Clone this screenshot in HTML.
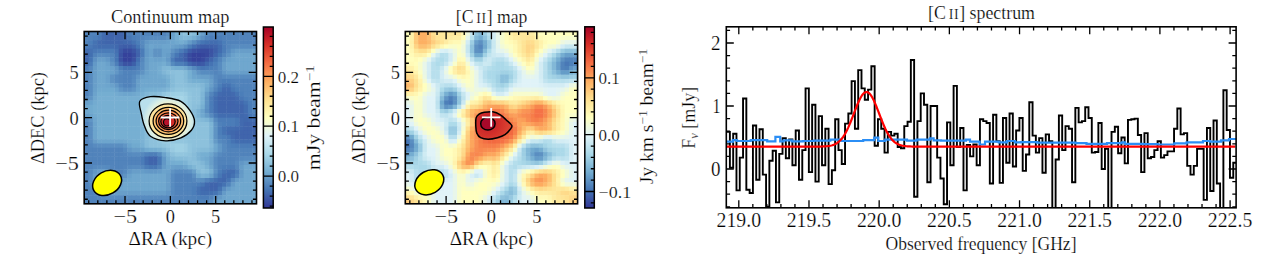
<!DOCTYPE html><html><head><meta charset="utf-8"><style>html,body{margin:0;padding:0;background:#fff;overflow:hidden}svg{display:block}</style></head><body><svg width="1268" height="263" viewBox="0 0 1268 263"><defs><filter id="bl1" x="-10%" y="-10%" width="120%" height="120%"><feGaussianBlur stdDeviation="2.6"/></filter><filter id="bl2" x="-10%" y="-10%" width="120%" height="120%"><feGaussianBlur stdDeviation="1.5"/></filter><filter id="bl4" x="-10%" y="-10%" width="120%" height="120%"><feGaussianBlur stdDeviation="0.55"/></filter><filter id="bl3" x="-10%" y="-10%" width="120%" height="120%"><feGaussianBlur stdDeviation="2.0"/></filter><clipPath id="c1"><rect x="84.2" y="31.5" width="172.3" height="172.3"/></clipPath><clipPath id="c2"><rect x="405.3" y="31.5" width="172.3" height="172.3"/></clipPath><clipPath id="c3"><rect x="726.3" y="26.8" width="509.8" height="181"/></clipPath><linearGradient id="cmap" x1="0" y1="1" x2="0" y2="0"><stop offset="0.00" stop-color="#313695"/><stop offset="0.10" stop-color="#4575b4"/><stop offset="0.20" stop-color="#74add1"/><stop offset="0.30" stop-color="#abd9e9"/><stop offset="0.40" stop-color="#e0f3f8"/><stop offset="0.50" stop-color="#ffffbf"/><stop offset="0.60" stop-color="#fee090"/><stop offset="0.70" stop-color="#fdae61"/><stop offset="0.80" stop-color="#f46d43"/><stop offset="0.90" stop-color="#d73027"/><stop offset="1.00" stop-color="#a50026"/></linearGradient></defs><rect width="1268" height="263" fill="#fff"/><g clip-path="url(#c1)"><g filter="url(#bl4)"><rect x="75.6" y="22.9" width="4.8" height="4.8" fill="#5183bb"/><rect x="79.9" y="22.9" width="4.8" height="4.8" fill="#5183bb"/><rect x="84.2" y="22.9" width="4.8" height="4.8" fill="#5183bb"/><rect x="88.5" y="22.9" width="4.8" height="4.8" fill="#5183bb"/><rect x="92.8" y="22.9" width="4.8" height="4.8" fill="#5183bb"/><rect x="97.1" y="22.9" width="4.8" height="4.8" fill="#4b7cb8"/><rect x="101.4" y="22.9" width="4.8" height="4.8" fill="#426db0"/><rect x="105.7" y="22.9" width="4.8" height="4.8" fill="#4065ac"/><rect x="110.0" y="22.9" width="4.8" height="4.8" fill="#4065ac"/><rect x="114.4" y="22.9" width="4.8" height="4.8" fill="#4065ac"/><rect x="118.7" y="22.9" width="4.8" height="4.8" fill="#4065ac"/><rect x="123.0" y="22.9" width="4.8" height="4.8" fill="#426db0"/><rect x="127.3" y="22.9" width="4.8" height="4.8" fill="#4b7cb8"/><rect x="131.6" y="22.9" width="4.8" height="4.8" fill="#5183bb"/><rect x="135.9" y="22.9" width="4.8" height="4.8" fill="#5183bb"/><rect x="140.2" y="22.9" width="4.8" height="4.8" fill="#5183bb"/><rect x="144.5" y="22.9" width="4.8" height="4.8" fill="#5183bb"/><rect x="148.8" y="22.9" width="4.8" height="4.8" fill="#5183bb"/><rect x="153.1" y="22.9" width="4.8" height="4.8" fill="#5183bb"/><rect x="157.4" y="22.9" width="4.8" height="4.8" fill="#5183bb"/><rect x="161.7" y="22.9" width="4.8" height="4.8" fill="#5183bb"/><rect x="166.0" y="22.9" width="4.8" height="4.8" fill="#588cc0"/><rect x="170.4" y="22.9" width="4.8" height="4.8" fill="#689ec9"/><rect x="174.7" y="22.9" width="4.8" height="4.8" fill="#76afd2"/><rect x="179.0" y="22.9" width="4.8" height="4.8" fill="#85bbd8"/><rect x="183.3" y="22.9" width="4.8" height="4.8" fill="#8dc1dc"/><rect x="187.6" y="22.9" width="4.8" height="4.8" fill="#8dc1dc"/><rect x="191.9" y="22.9" width="4.8" height="4.8" fill="#85bbd8"/><rect x="196.2" y="22.9" width="4.8" height="4.8" fill="#76afd2"/><rect x="200.5" y="22.9" width="4.8" height="4.8" fill="#689ec9"/><rect x="204.8" y="22.9" width="4.8" height="4.8" fill="#588cc0"/><rect x="209.1" y="22.9" width="4.8" height="4.8" fill="#5183bb"/><rect x="213.4" y="22.9" width="4.8" height="4.8" fill="#5183bb"/><rect x="217.7" y="22.9" width="4.8" height="4.8" fill="#5183bb"/><rect x="222.0" y="22.9" width="4.8" height="4.8" fill="#5183bb"/><rect x="226.3" y="22.9" width="4.8" height="4.8" fill="#5183bb"/><rect x="230.7" y="22.9" width="4.8" height="4.8" fill="#5183bb"/><rect x="235.0" y="22.9" width="4.8" height="4.8" fill="#5183bb"/><rect x="239.3" y="22.9" width="4.8" height="4.8" fill="#5183bb"/><rect x="243.6" y="22.9" width="4.8" height="4.8" fill="#5183bb"/><rect x="247.9" y="22.9" width="4.8" height="4.8" fill="#5183bb"/><rect x="252.2" y="22.9" width="4.8" height="4.8" fill="#5183bb"/><rect x="256.5" y="22.9" width="4.8" height="4.8" fill="#5183bb"/><rect x="260.8" y="22.9" width="4.8" height="4.8" fill="#5183bb"/><rect x="75.6" y="27.2" width="4.8" height="4.8" fill="#5183bb"/><rect x="79.9" y="27.2" width="4.8" height="4.8" fill="#5183bb"/><rect x="84.2" y="27.2" width="4.8" height="4.8" fill="#5183bb"/><rect x="88.5" y="27.2" width="4.8" height="4.8" fill="#5183bb"/><rect x="92.8" y="27.2" width="4.8" height="4.8" fill="#5183bb"/><rect x="97.1" y="27.2" width="4.8" height="4.8" fill="#4b7cb8"/><rect x="101.4" y="27.2" width="4.8" height="4.8" fill="#426db0"/><rect x="105.7" y="27.2" width="4.8" height="4.8" fill="#4065ac"/><rect x="110.0" y="27.2" width="4.8" height="4.8" fill="#4065ac"/><rect x="114.4" y="27.2" width="4.8" height="4.8" fill="#4065ac"/><rect x="118.7" y="27.2" width="4.8" height="4.8" fill="#4065ac"/><rect x="123.0" y="27.2" width="4.8" height="4.8" fill="#426db0"/><rect x="127.3" y="27.2" width="4.8" height="4.8" fill="#4b7cb8"/><rect x="131.6" y="27.2" width="4.8" height="4.8" fill="#5183bb"/><rect x="135.9" y="27.2" width="4.8" height="4.8" fill="#5183bb"/><rect x="140.2" y="27.2" width="4.8" height="4.8" fill="#5183bb"/><rect x="144.5" y="27.2" width="4.8" height="4.8" fill="#5183bb"/><rect x="148.8" y="27.2" width="4.8" height="4.8" fill="#5183bb"/><rect x="153.1" y="27.2" width="4.8" height="4.8" fill="#5183bb"/><rect x="157.4" y="27.2" width="4.8" height="4.8" fill="#5183bb"/><rect x="161.7" y="27.2" width="4.8" height="4.8" fill="#5183bb"/><rect x="166.0" y="27.2" width="4.8" height="4.8" fill="#588cc0"/><rect x="170.4" y="27.2" width="4.8" height="4.8" fill="#689ec9"/><rect x="174.7" y="27.2" width="4.8" height="4.8" fill="#76afd2"/><rect x="179.0" y="27.2" width="4.8" height="4.8" fill="#85bbd8"/><rect x="183.3" y="27.2" width="4.8" height="4.8" fill="#8dc1dc"/><rect x="187.6" y="27.2" width="4.8" height="4.8" fill="#8dc1dc"/><rect x="191.9" y="27.2" width="4.8" height="4.8" fill="#85bbd8"/><rect x="196.2" y="27.2" width="4.8" height="4.8" fill="#76afd2"/><rect x="200.5" y="27.2" width="4.8" height="4.8" fill="#689ec9"/><rect x="204.8" y="27.2" width="4.8" height="4.8" fill="#588cc0"/><rect x="209.1" y="27.2" width="4.8" height="4.8" fill="#5183bb"/><rect x="213.4" y="27.2" width="4.8" height="4.8" fill="#5183bb"/><rect x="217.7" y="27.2" width="4.8" height="4.8" fill="#5183bb"/><rect x="222.0" y="27.2" width="4.8" height="4.8" fill="#5183bb"/><rect x="226.3" y="27.2" width="4.8" height="4.8" fill="#5183bb"/><rect x="230.7" y="27.2" width="4.8" height="4.8" fill="#5183bb"/><rect x="235.0" y="27.2" width="4.8" height="4.8" fill="#5183bb"/><rect x="239.3" y="27.2" width="4.8" height="4.8" fill="#5183bb"/><rect x="243.6" y="27.2" width="4.8" height="4.8" fill="#5183bb"/><rect x="247.9" y="27.2" width="4.8" height="4.8" fill="#5183bb"/><rect x="252.2" y="27.2" width="4.8" height="4.8" fill="#5183bb"/><rect x="256.5" y="27.2" width="4.8" height="4.8" fill="#5183bb"/><rect x="260.8" y="27.2" width="4.8" height="4.8" fill="#5183bb"/><rect x="75.6" y="31.5" width="4.8" height="4.8" fill="#5183bb"/><rect x="79.9" y="31.5" width="4.8" height="4.8" fill="#5183bb"/><rect x="84.2" y="31.5" width="4.8" height="4.8" fill="#5183bb"/><rect x="88.5" y="31.5" width="4.8" height="4.8" fill="#5183bb"/><rect x="92.8" y="31.5" width="4.8" height="4.8" fill="#5183bb"/><rect x="97.1" y="31.5" width="4.8" height="4.8" fill="#4b7cb8"/><rect x="101.4" y="31.5" width="4.8" height="4.8" fill="#426db0"/><rect x="105.7" y="31.5" width="4.8" height="4.8" fill="#4065ac"/><rect x="110.0" y="31.5" width="4.8" height="4.8" fill="#4065ac"/><rect x="114.4" y="31.5" width="4.8" height="4.8" fill="#4065ac"/><rect x="118.7" y="31.5" width="4.8" height="4.8" fill="#4065ac"/><rect x="123.0" y="31.5" width="4.8" height="4.8" fill="#426db0"/><rect x="127.3" y="31.5" width="4.8" height="4.8" fill="#4b7cb8"/><rect x="131.6" y="31.5" width="4.8" height="4.8" fill="#5183bb"/><rect x="135.9" y="31.5" width="4.8" height="4.8" fill="#5183bb"/><rect x="140.2" y="31.5" width="4.8" height="4.8" fill="#5183bb"/><rect x="144.5" y="31.5" width="4.8" height="4.8" fill="#5183bb"/><rect x="148.8" y="31.5" width="4.8" height="4.8" fill="#5183bb"/><rect x="153.1" y="31.5" width="4.8" height="4.8" fill="#5183bb"/><rect x="157.4" y="31.5" width="4.8" height="4.8" fill="#5183bb"/><rect x="161.7" y="31.5" width="4.8" height="4.8" fill="#5183bb"/><rect x="166.0" y="31.5" width="4.8" height="4.8" fill="#588cc0"/><rect x="170.4" y="31.5" width="4.8" height="4.8" fill="#689ec9"/><rect x="174.7" y="31.5" width="4.8" height="4.8" fill="#76afd2"/><rect x="179.0" y="31.5" width="4.8" height="4.8" fill="#85bbd8"/><rect x="183.3" y="31.5" width="4.8" height="4.8" fill="#8dc1dc"/><rect x="187.6" y="31.5" width="4.8" height="4.8" fill="#8dc1dc"/><rect x="191.9" y="31.5" width="4.8" height="4.8" fill="#85bbd8"/><rect x="196.2" y="31.5" width="4.8" height="4.8" fill="#76afd2"/><rect x="200.5" y="31.5" width="4.8" height="4.8" fill="#689ec9"/><rect x="204.8" y="31.5" width="4.8" height="4.8" fill="#588cc0"/><rect x="209.1" y="31.5" width="4.8" height="4.8" fill="#5183bb"/><rect x="213.4" y="31.5" width="4.8" height="4.8" fill="#5183bb"/><rect x="217.7" y="31.5" width="4.8" height="4.8" fill="#5183bb"/><rect x="222.0" y="31.5" width="4.8" height="4.8" fill="#5183bb"/><rect x="226.3" y="31.5" width="4.8" height="4.8" fill="#5183bb"/><rect x="230.7" y="31.5" width="4.8" height="4.8" fill="#5183bb"/><rect x="235.0" y="31.5" width="4.8" height="4.8" fill="#5183bb"/><rect x="239.3" y="31.5" width="4.8" height="4.8" fill="#5183bb"/><rect x="243.6" y="31.5" width="4.8" height="4.8" fill="#5183bb"/><rect x="247.9" y="31.5" width="4.8" height="4.8" fill="#5183bb"/><rect x="252.2" y="31.5" width="4.8" height="4.8" fill="#5183bb"/><rect x="256.5" y="31.5" width="4.8" height="4.8" fill="#5183bb"/><rect x="260.8" y="31.5" width="4.8" height="4.8" fill="#5183bb"/><rect x="75.6" y="35.8" width="4.8" height="4.8" fill="#5183bb"/><rect x="79.9" y="35.8" width="4.8" height="4.8" fill="#5183bb"/><rect x="84.2" y="35.8" width="4.8" height="4.8" fill="#5183bb"/><rect x="88.5" y="35.8" width="4.8" height="4.8" fill="#4f81ba"/><rect x="92.8" y="35.8" width="4.8" height="4.8" fill="#4c7eb9"/><rect x="97.1" y="35.8" width="4.8" height="4.8" fill="#4677b5"/><rect x="101.4" y="35.8" width="4.8" height="4.8" fill="#426baf"/><rect x="105.7" y="35.8" width="4.8" height="4.8" fill="#4065ac"/><rect x="110.0" y="35.8" width="4.8" height="4.8" fill="#4065ac"/><rect x="114.4" y="35.8" width="4.8" height="4.8" fill="#4065ac"/><rect x="118.7" y="35.8" width="4.8" height="4.8" fill="#4065ac"/><rect x="123.0" y="35.8" width="4.8" height="4.8" fill="#426baf"/><rect x="127.3" y="35.8" width="4.8" height="4.8" fill="#4677b5"/><rect x="131.6" y="35.8" width="4.8" height="4.8" fill="#4c7eb9"/><rect x="135.9" y="35.8" width="4.8" height="4.8" fill="#4f81ba"/><rect x="140.2" y="35.8" width="4.8" height="4.8" fill="#5385bc"/><rect x="144.5" y="35.8" width="4.8" height="4.8" fill="#568abf"/><rect x="148.8" y="35.8" width="4.8" height="4.8" fill="#588cc0"/><rect x="153.1" y="35.8" width="4.8" height="4.8" fill="#588cc0"/><rect x="157.4" y="35.8" width="4.8" height="4.8" fill="#588cc0"/><rect x="161.7" y="35.8" width="4.8" height="4.8" fill="#588cc0"/><rect x="166.0" y="35.8" width="4.8" height="4.8" fill="#5e93c3"/><rect x="170.4" y="35.8" width="4.8" height="4.8" fill="#6aa1cb"/><rect x="174.7" y="35.8" width="4.8" height="4.8" fill="#74add1"/><rect x="179.0" y="35.8" width="4.8" height="4.8" fill="#80b6d6"/><rect x="183.3" y="35.8" width="4.8" height="4.8" fill="#83b9d8"/><rect x="187.6" y="35.8" width="4.8" height="4.8" fill="#7eb5d6"/><rect x="191.9" y="35.8" width="4.8" height="4.8" fill="#75aed1"/><rect x="196.2" y="35.8" width="4.8" height="4.8" fill="#689fca"/><rect x="200.5" y="35.8" width="4.8" height="4.8" fill="#5c90c2"/><rect x="204.8" y="35.8" width="4.8" height="4.8" fill="#5183bb"/><rect x="209.1" y="35.8" width="4.8" height="4.8" fill="#4b7cb8"/><rect x="213.4" y="35.8" width="4.8" height="4.8" fill="#4b7cb8"/><rect x="217.7" y="35.8" width="4.8" height="4.8" fill="#4c7eb9"/><rect x="222.0" y="35.8" width="4.8" height="4.8" fill="#4f81ba"/><rect x="226.3" y="35.8" width="4.8" height="4.8" fill="#5183bb"/><rect x="230.7" y="35.8" width="4.8" height="4.8" fill="#5183bb"/><rect x="235.0" y="35.8" width="4.8" height="4.8" fill="#5183bb"/><rect x="239.3" y="35.8" width="4.8" height="4.8" fill="#5183bb"/><rect x="243.6" y="35.8" width="4.8" height="4.8" fill="#5183bb"/><rect x="247.9" y="35.8" width="4.8" height="4.8" fill="#5183bb"/><rect x="252.2" y="35.8" width="4.8" height="4.8" fill="#5183bb"/><rect x="256.5" y="35.8" width="4.8" height="4.8" fill="#5183bb"/><rect x="260.8" y="35.8" width="4.8" height="4.8" fill="#5183bb"/><rect x="75.6" y="40.1" width="4.8" height="4.8" fill="#5183bb"/><rect x="79.9" y="40.1" width="4.8" height="4.8" fill="#5183bb"/><rect x="84.2" y="40.1" width="4.8" height="4.8" fill="#5183bb"/><rect x="88.5" y="40.1" width="4.8" height="4.8" fill="#4c7eb9"/><rect x="92.8" y="40.1" width="4.8" height="4.8" fill="#4473b3"/><rect x="97.1" y="40.1" width="4.8" height="4.8" fill="#426baf"/><rect x="101.4" y="40.1" width="4.8" height="4.8" fill="#4167ad"/><rect x="105.7" y="40.1" width="4.8" height="4.8" fill="#4065ac"/><rect x="110.0" y="40.1" width="4.8" height="4.8" fill="#4065ac"/><rect x="114.4" y="40.1" width="4.8" height="4.8" fill="#4065ac"/><rect x="118.7" y="40.1" width="4.8" height="4.8" fill="#4065ac"/><rect x="123.0" y="40.1" width="4.8" height="4.8" fill="#4167ad"/><rect x="127.3" y="40.1" width="4.8" height="4.8" fill="#426baf"/><rect x="131.6" y="40.1" width="4.8" height="4.8" fill="#4473b3"/><rect x="135.9" y="40.1" width="4.8" height="4.8" fill="#4c7eb9"/><rect x="140.2" y="40.1" width="4.8" height="4.8" fill="#568abf"/><rect x="144.5" y="40.1" width="4.8" height="4.8" fill="#6297c6"/><rect x="148.8" y="40.1" width="4.8" height="4.8" fill="#689ec9"/><rect x="153.1" y="40.1" width="4.8" height="4.8" fill="#689ec9"/><rect x="157.4" y="40.1" width="4.8" height="4.8" fill="#689ec9"/><rect x="161.7" y="40.1" width="4.8" height="4.8" fill="#689ec9"/><rect x="166.0" y="40.1" width="4.8" height="4.8" fill="#6aa1cb"/><rect x="170.4" y="40.1" width="4.8" height="4.8" fill="#6da5cd"/><rect x="174.7" y="40.1" width="4.8" height="4.8" fill="#71a9cf"/><rect x="179.0" y="40.1" width="4.8" height="4.8" fill="#74add1"/><rect x="183.3" y="40.1" width="4.8" height="4.8" fill="#70a8cf"/><rect x="187.6" y="40.1" width="4.8" height="4.8" fill="#659bc7"/><rect x="191.9" y="40.1" width="4.8" height="4.8" fill="#598dc0"/><rect x="196.2" y="40.1" width="4.8" height="4.8" fill="#4d7eb9"/><rect x="200.5" y="40.1" width="4.8" height="4.8" fill="#4575b4"/><rect x="204.8" y="40.1" width="4.8" height="4.8" fill="#4370b1"/><rect x="209.1" y="40.1" width="4.8" height="4.8" fill="#426db0"/><rect x="213.4" y="40.1" width="4.8" height="4.8" fill="#426db0"/><rect x="217.7" y="40.1" width="4.8" height="4.8" fill="#4473b3"/><rect x="222.0" y="40.1" width="4.8" height="4.8" fill="#4c7eb9"/><rect x="226.3" y="40.1" width="4.8" height="4.8" fill="#5183bb"/><rect x="230.7" y="40.1" width="4.8" height="4.8" fill="#5183bb"/><rect x="235.0" y="40.1" width="4.8" height="4.8" fill="#5183bb"/><rect x="239.3" y="40.1" width="4.8" height="4.8" fill="#5183bb"/><rect x="243.6" y="40.1" width="4.8" height="4.8" fill="#5183bb"/><rect x="247.9" y="40.1" width="4.8" height="4.8" fill="#5183bb"/><rect x="252.2" y="40.1" width="4.8" height="4.8" fill="#5183bb"/><rect x="256.5" y="40.1" width="4.8" height="4.8" fill="#5183bb"/><rect x="260.8" y="40.1" width="4.8" height="4.8" fill="#5183bb"/><rect x="75.6" y="44.4" width="4.8" height="4.8" fill="#4b7cb8"/><rect x="79.9" y="44.4" width="4.8" height="4.8" fill="#4b7cb8"/><rect x="84.2" y="44.4" width="4.8" height="4.8" fill="#4b7cb8"/><rect x="88.5" y="44.4" width="4.8" height="4.8" fill="#4878b6"/><rect x="92.8" y="44.4" width="4.8" height="4.8" fill="#4471b2"/><rect x="97.1" y="44.4" width="4.8" height="4.8" fill="#426db0"/><rect x="101.4" y="44.4" width="4.8" height="4.8" fill="#426db0"/><rect x="105.7" y="44.4" width="4.8" height="4.8" fill="#426db0"/><rect x="110.0" y="44.4" width="4.8" height="4.8" fill="#426db0"/><rect x="114.4" y="44.4" width="4.8" height="4.8" fill="#4169ae"/><rect x="118.7" y="44.4" width="4.8" height="4.8" fill="#3f61aa"/><rect x="123.0" y="44.4" width="4.8" height="4.8" fill="#3d5da8"/><rect x="127.3" y="44.4" width="4.8" height="4.8" fill="#3d5da8"/><rect x="131.6" y="44.4" width="4.8" height="4.8" fill="#4065ac"/><rect x="135.9" y="44.4" width="4.8" height="4.8" fill="#4575b4"/><rect x="140.2" y="44.4" width="4.8" height="4.8" fill="#5487bd"/><rect x="144.5" y="44.4" width="4.8" height="4.8" fill="#669dc8"/><rect x="148.8" y="44.4" width="4.8" height="4.8" fill="#6da5cd"/><rect x="153.1" y="44.4" width="4.8" height="4.8" fill="#6aa1cb"/><rect x="157.4" y="44.4" width="4.8" height="4.8" fill="#6aa1cb"/><rect x="161.7" y="44.4" width="4.8" height="4.8" fill="#6da5cd"/><rect x="166.0" y="44.4" width="4.8" height="4.8" fill="#6da5cd"/><rect x="170.4" y="44.4" width="4.8" height="4.8" fill="#6aa1cb"/><rect x="174.7" y="44.4" width="4.8" height="4.8" fill="#669dc8"/><rect x="179.0" y="44.4" width="4.8" height="4.8" fill="#6399c7"/><rect x="183.3" y="44.4" width="4.8" height="4.8" fill="#5a8fc1"/><rect x="187.6" y="44.4" width="4.8" height="4.8" fill="#4c7db8"/><rect x="191.9" y="44.4" width="4.8" height="4.8" fill="#436eb1"/><rect x="196.2" y="44.4" width="4.8" height="4.8" fill="#3f62ab"/><rect x="200.5" y="44.4" width="4.8" height="4.8" fill="#3d5da8"/><rect x="204.8" y="44.4" width="4.8" height="4.8" fill="#3d5da8"/><rect x="209.1" y="44.4" width="4.8" height="4.8" fill="#3e5fa9"/><rect x="213.4" y="44.4" width="4.8" height="4.8" fill="#3f63ab"/><rect x="217.7" y="44.4" width="4.8" height="4.8" fill="#426db0"/><rect x="222.0" y="44.4" width="4.8" height="4.8" fill="#4b7cb8"/><rect x="226.3" y="44.4" width="4.8" height="4.8" fill="#5385bc"/><rect x="230.7" y="44.4" width="4.8" height="4.8" fill="#568abf"/><rect x="235.0" y="44.4" width="4.8" height="4.8" fill="#588cc0"/><rect x="239.3" y="44.4" width="4.8" height="4.8" fill="#588cc0"/><rect x="243.6" y="44.4" width="4.8" height="4.8" fill="#588cc0"/><rect x="247.9" y="44.4" width="4.8" height="4.8" fill="#588cc0"/><rect x="252.2" y="44.4" width="4.8" height="4.8" fill="#588cc0"/><rect x="256.5" y="44.4" width="4.8" height="4.8" fill="#588cc0"/><rect x="260.8" y="44.4" width="4.8" height="4.8" fill="#588cc0"/><rect x="75.6" y="48.7" width="4.8" height="4.8" fill="#426db0"/><rect x="79.9" y="48.7" width="4.8" height="4.8" fill="#426db0"/><rect x="84.2" y="48.7" width="4.8" height="4.8" fill="#426db0"/><rect x="88.5" y="48.7" width="4.8" height="4.8" fill="#4471b2"/><rect x="92.8" y="48.7" width="4.8" height="4.8" fill="#4878b6"/><rect x="97.1" y="48.7" width="4.8" height="4.8" fill="#4b7cb8"/><rect x="101.4" y="48.7" width="4.8" height="4.8" fill="#4b7cb8"/><rect x="105.7" y="48.7" width="4.8" height="4.8" fill="#4b7cb8"/><rect x="110.0" y="48.7" width="4.8" height="4.8" fill="#4b7cb8"/><rect x="114.4" y="48.7" width="4.8" height="4.8" fill="#4470b2"/><rect x="118.7" y="48.7" width="4.8" height="4.8" fill="#3c58a6"/><rect x="123.0" y="48.7" width="4.8" height="4.8" fill="#384b9f"/><rect x="127.3" y="48.7" width="4.8" height="4.8" fill="#384b9f"/><rect x="131.6" y="48.7" width="4.8" height="4.8" fill="#3a54a4"/><rect x="135.9" y="48.7" width="4.8" height="4.8" fill="#4065ac"/><rect x="140.2" y="48.7" width="4.8" height="4.8" fill="#4b7cb8"/><rect x="144.5" y="48.7" width="4.8" height="4.8" fill="#6399c7"/><rect x="148.8" y="48.7" width="4.8" height="4.8" fill="#6aa1cb"/><rect x="153.1" y="48.7" width="4.8" height="4.8" fill="#5e93c3"/><rect x="157.4" y="48.7" width="4.8" height="4.8" fill="#5e93c3"/><rect x="161.7" y="48.7" width="4.8" height="4.8" fill="#6aa1cb"/><rect x="166.0" y="48.7" width="4.8" height="4.8" fill="#6aa1cb"/><rect x="170.4" y="48.7" width="4.8" height="4.8" fill="#5e93c3"/><rect x="174.7" y="48.7" width="4.8" height="4.8" fill="#5487bd"/><rect x="179.0" y="48.7" width="4.8" height="4.8" fill="#4b7cb8"/><rect x="183.3" y="48.7" width="4.8" height="4.8" fill="#436eb1"/><rect x="187.6" y="48.7" width="4.8" height="4.8" fill="#3d5ca8"/><rect x="191.9" y="48.7" width="4.8" height="4.8" fill="#3a51a2"/><rect x="196.2" y="48.7" width="4.8" height="4.8" fill="#384da0"/><rect x="200.5" y="48.7" width="4.8" height="4.8" fill="#384b9f"/><rect x="204.8" y="48.7" width="4.8" height="4.8" fill="#384b9f"/><rect x="209.1" y="48.7" width="4.8" height="4.8" fill="#3a52a3"/><rect x="213.4" y="48.7" width="4.8" height="4.8" fill="#3e5fa9"/><rect x="217.7" y="48.7" width="4.8" height="4.8" fill="#426db0"/><rect x="222.0" y="48.7" width="4.8" height="4.8" fill="#4b7cb8"/><rect x="226.3" y="48.7" width="4.8" height="4.8" fill="#568abf"/><rect x="230.7" y="48.7" width="4.8" height="4.8" fill="#6297c6"/><rect x="235.0" y="48.7" width="4.8" height="4.8" fill="#689ec9"/><rect x="239.3" y="48.7" width="4.8" height="4.8" fill="#689ec9"/><rect x="243.6" y="48.7" width="4.8" height="4.8" fill="#689ec9"/><rect x="247.9" y="48.7" width="4.8" height="4.8" fill="#689ec9"/><rect x="252.2" y="48.7" width="4.8" height="4.8" fill="#689ec9"/><rect x="256.5" y="48.7" width="4.8" height="4.8" fill="#689ec9"/><rect x="260.8" y="48.7" width="4.8" height="4.8" fill="#689ec9"/><rect x="75.6" y="53.0" width="4.8" height="4.8" fill="#4065ac"/><rect x="79.9" y="53.0" width="4.8" height="4.8" fill="#4065ac"/><rect x="84.2" y="53.0" width="4.8" height="4.8" fill="#4065ac"/><rect x="88.5" y="53.0" width="4.8" height="4.8" fill="#4370b1"/><rect x="92.8" y="53.0" width="4.8" height="4.8" fill="#5183bb"/><rect x="97.1" y="53.0" width="4.8" height="4.8" fill="#588cc0"/><rect x="101.4" y="53.0" width="4.8" height="4.8" fill="#588cc0"/><rect x="105.7" y="53.0" width="4.8" height="4.8" fill="#568abf"/><rect x="110.0" y="53.0" width="4.8" height="4.8" fill="#5385bc"/><rect x="114.4" y="53.0" width="4.8" height="4.8" fill="#4574b4"/><rect x="118.7" y="53.0" width="4.8" height="4.8" fill="#3a53a3"/><rect x="123.0" y="53.0" width="4.8" height="4.8" fill="#35439b"/><rect x="127.3" y="53.0" width="4.8" height="4.8" fill="#35439b"/><rect x="131.6" y="53.0" width="4.8" height="4.8" fill="#384da0"/><rect x="135.9" y="53.0" width="4.8" height="4.8" fill="#3f62ab"/><rect x="140.2" y="53.0" width="4.8" height="4.8" fill="#4b7cb8"/><rect x="144.5" y="53.0" width="4.8" height="4.8" fill="#6399c7"/><rect x="148.8" y="53.0" width="4.8" height="4.8" fill="#6aa1cb"/><rect x="153.1" y="53.0" width="4.8" height="4.8" fill="#5e93c3"/><rect x="157.4" y="53.0" width="4.8" height="4.8" fill="#5e93c3"/><rect x="161.7" y="53.0" width="4.8" height="4.8" fill="#6aa1cb"/><rect x="166.0" y="53.0" width="4.8" height="4.8" fill="#669dc8"/><rect x="170.4" y="53.0" width="4.8" height="4.8" fill="#5487bd"/><rect x="174.7" y="53.0" width="4.8" height="4.8" fill="#4677b5"/><rect x="179.0" y="53.0" width="4.8" height="4.8" fill="#426baf"/><rect x="183.3" y="53.0" width="4.8" height="4.8" fill="#3d5da8"/><rect x="187.6" y="53.0" width="4.8" height="4.8" fill="#384b9f"/><rect x="191.9" y="53.0" width="4.8" height="4.8" fill="#35439b"/><rect x="196.2" y="53.0" width="4.8" height="4.8" fill="#35439b"/><rect x="200.5" y="53.0" width="4.8" height="4.8" fill="#36459c"/><rect x="204.8" y="53.0" width="4.8" height="4.8" fill="#37499e"/><rect x="209.1" y="53.0" width="4.8" height="4.8" fill="#3a54a4"/><rect x="213.4" y="53.0" width="4.8" height="4.8" fill="#4065ac"/><rect x="217.7" y="53.0" width="4.8" height="4.8" fill="#4576b4"/><rect x="222.0" y="53.0" width="4.8" height="4.8" fill="#5285bc"/><rect x="226.3" y="53.0" width="4.8" height="4.8" fill="#5e93c3"/><rect x="230.7" y="53.0" width="4.8" height="4.8" fill="#6aa1cb"/><rect x="235.0" y="53.0" width="4.8" height="4.8" fill="#6fa7ce"/><rect x="239.3" y="53.0" width="4.8" height="4.8" fill="#6fa7ce"/><rect x="243.6" y="53.0" width="4.8" height="4.8" fill="#6fa7ce"/><rect x="247.9" y="53.0" width="4.8" height="4.8" fill="#6fa7ce"/><rect x="252.2" y="53.0" width="4.8" height="4.8" fill="#6fa7ce"/><rect x="256.5" y="53.0" width="4.8" height="4.8" fill="#6fa7ce"/><rect x="260.8" y="53.0" width="4.8" height="4.8" fill="#6fa7ce"/><rect x="75.6" y="57.3" width="4.8" height="4.8" fill="#4065ac"/><rect x="79.9" y="57.3" width="4.8" height="4.8" fill="#4065ac"/><rect x="84.2" y="57.3" width="4.8" height="4.8" fill="#4065ac"/><rect x="88.5" y="57.3" width="4.8" height="4.8" fill="#4575b4"/><rect x="92.8" y="57.3" width="4.8" height="4.8" fill="#5c90c2"/><rect x="97.1" y="57.3" width="4.8" height="4.8" fill="#689ec9"/><rect x="101.4" y="57.3" width="4.8" height="4.8" fill="#689ec9"/><rect x="105.7" y="57.3" width="4.8" height="4.8" fill="#6297c6"/><rect x="110.0" y="57.3" width="4.8" height="4.8" fill="#568abf"/><rect x="114.4" y="57.3" width="4.8" height="4.8" fill="#4574b4"/><rect x="118.7" y="57.3" width="4.8" height="4.8" fill="#3a53a3"/><rect x="123.0" y="57.3" width="4.8" height="4.8" fill="#35439b"/><rect x="127.3" y="57.3" width="4.8" height="4.8" fill="#35439b"/><rect x="131.6" y="57.3" width="4.8" height="4.8" fill="#3a51a2"/><rect x="135.9" y="57.3" width="4.8" height="4.8" fill="#436eb1"/><rect x="140.2" y="57.3" width="4.8" height="4.8" fill="#5487bd"/><rect x="144.5" y="57.3" width="4.8" height="4.8" fill="#669dc8"/><rect x="148.8" y="57.3" width="4.8" height="4.8" fill="#6da5cd"/><rect x="153.1" y="57.3" width="4.8" height="4.8" fill="#6aa1cb"/><rect x="157.4" y="57.3" width="4.8" height="4.8" fill="#6aa1cb"/><rect x="161.7" y="57.3" width="4.8" height="4.8" fill="#6da5cd"/><rect x="166.0" y="57.3" width="4.8" height="4.8" fill="#6399c7"/><rect x="170.4" y="57.3" width="4.8" height="4.8" fill="#4b7cb8"/><rect x="174.7" y="57.3" width="4.8" height="4.8" fill="#426baf"/><rect x="179.0" y="57.3" width="4.8" height="4.8" fill="#4167ad"/><rect x="183.3" y="57.3" width="4.8" height="4.8" fill="#3d5da8"/><rect x="187.6" y="57.3" width="4.8" height="4.8" fill="#384b9f"/><rect x="191.9" y="57.3" width="4.8" height="4.8" fill="#35439b"/><rect x="196.2" y="57.3" width="4.8" height="4.8" fill="#35439b"/><rect x="200.5" y="57.3" width="4.8" height="4.8" fill="#37499e"/><rect x="204.8" y="57.3" width="4.8" height="4.8" fill="#3b56a5"/><rect x="209.1" y="57.3" width="4.8" height="4.8" fill="#4065ac"/><rect x="213.4" y="57.3" width="4.8" height="4.8" fill="#4575b4"/><rect x="217.7" y="57.3" width="4.8" height="4.8" fill="#5285bc"/><rect x="222.0" y="57.3" width="4.8" height="4.8" fill="#6096c5"/><rect x="226.3" y="57.3" width="4.8" height="4.8" fill="#6aa1cb"/><rect x="230.7" y="57.3" width="4.8" height="4.8" fill="#6da5cd"/><rect x="235.0" y="57.3" width="4.8" height="4.8" fill="#6fa7ce"/><rect x="239.3" y="57.3" width="4.8" height="4.8" fill="#6fa7ce"/><rect x="243.6" y="57.3" width="4.8" height="4.8" fill="#6fa7ce"/><rect x="247.9" y="57.3" width="4.8" height="4.8" fill="#6fa7ce"/><rect x="252.2" y="57.3" width="4.8" height="4.8" fill="#6fa7ce"/><rect x="256.5" y="57.3" width="4.8" height="4.8" fill="#6fa7ce"/><rect x="260.8" y="57.3" width="4.8" height="4.8" fill="#6fa7ce"/><rect x="75.6" y="61.7" width="4.8" height="4.8" fill="#426db0"/><rect x="79.9" y="61.7" width="4.8" height="4.8" fill="#426db0"/><rect x="84.2" y="61.7" width="4.8" height="4.8" fill="#426db0"/><rect x="88.5" y="61.7" width="4.8" height="4.8" fill="#4b7cb8"/><rect x="92.8" y="61.7" width="4.8" height="4.8" fill="#6399c7"/><rect x="97.1" y="61.7" width="4.8" height="4.8" fill="#6fa7ce"/><rect x="101.4" y="61.7" width="4.8" height="4.8" fill="#6fa7ce"/><rect x="105.7" y="61.7" width="4.8" height="4.8" fill="#6aa1cb"/><rect x="110.0" y="61.7" width="4.8" height="4.8" fill="#5e93c3"/><rect x="114.4" y="61.7" width="4.8" height="4.8" fill="#4d7fb9"/><rect x="118.7" y="61.7" width="4.8" height="4.8" fill="#3f62ab"/><rect x="123.0" y="61.7" width="4.8" height="4.8" fill="#3a53a3"/><rect x="127.3" y="61.7" width="4.8" height="4.8" fill="#3a53a3"/><rect x="131.6" y="61.7" width="4.8" height="4.8" fill="#3e60a9"/><rect x="135.9" y="61.7" width="4.8" height="4.8" fill="#4778b6"/><rect x="140.2" y="61.7" width="4.8" height="4.8" fill="#588cc0"/><rect x="144.5" y="61.7" width="4.8" height="4.8" fill="#689ec9"/><rect x="148.8" y="61.7" width="4.8" height="4.8" fill="#6fa7ce"/><rect x="153.1" y="61.7" width="4.8" height="4.8" fill="#6fa7ce"/><rect x="157.4" y="61.7" width="4.8" height="4.8" fill="#71a9cf"/><rect x="161.7" y="61.7" width="4.8" height="4.8" fill="#74add1"/><rect x="166.0" y="61.7" width="4.8" height="4.8" fill="#6ca3cc"/><rect x="170.4" y="61.7" width="4.8" height="4.8" fill="#578bbf"/><rect x="174.7" y="61.7" width="4.8" height="4.8" fill="#4d7fb9"/><rect x="179.0" y="61.7" width="4.8" height="4.8" fill="#4d7fb9"/><rect x="183.3" y="61.7" width="4.8" height="4.8" fill="#4777b5"/><rect x="187.6" y="61.7" width="4.8" height="4.8" fill="#4066ad"/><rect x="191.9" y="61.7" width="4.8" height="4.8" fill="#3d5ba7"/><rect x="196.2" y="61.7" width="4.8" height="4.8" fill="#3b56a5"/><rect x="200.5" y="61.7" width="4.8" height="4.8" fill="#3c5aa7"/><rect x="204.8" y="61.7" width="4.8" height="4.8" fill="#4067ad"/><rect x="209.1" y="61.7" width="4.8" height="4.8" fill="#4473b3"/><rect x="213.4" y="61.7" width="4.8" height="4.8" fill="#4c7eb9"/><rect x="217.7" y="61.7" width="4.8" height="4.8" fill="#588cc0"/><rect x="222.0" y="61.7" width="4.8" height="4.8" fill="#689ec9"/><rect x="226.3" y="61.7" width="4.8" height="4.8" fill="#6fa7ce"/><rect x="230.7" y="61.7" width="4.8" height="4.8" fill="#6fa7ce"/><rect x="235.0" y="61.7" width="4.8" height="4.8" fill="#6fa7ce"/><rect x="239.3" y="61.7" width="4.8" height="4.8" fill="#6fa7ce"/><rect x="243.6" y="61.7" width="4.8" height="4.8" fill="#6fa7ce"/><rect x="247.9" y="61.7" width="4.8" height="4.8" fill="#6fa7ce"/><rect x="252.2" y="61.7" width="4.8" height="4.8" fill="#6fa7ce"/><rect x="256.5" y="61.7" width="4.8" height="4.8" fill="#6fa7ce"/><rect x="260.8" y="61.7" width="4.8" height="4.8" fill="#6fa7ce"/><rect x="75.6" y="66.0" width="4.8" height="4.8" fill="#4b7cb8"/><rect x="79.9" y="66.0" width="4.8" height="4.8" fill="#4b7cb8"/><rect x="84.2" y="66.0" width="4.8" height="4.8" fill="#4b7cb8"/><rect x="88.5" y="66.0" width="4.8" height="4.8" fill="#5487bd"/><rect x="92.8" y="66.0" width="4.8" height="4.8" fill="#669dc8"/><rect x="97.1" y="66.0" width="4.8" height="4.8" fill="#6fa7ce"/><rect x="101.4" y="66.0" width="4.8" height="4.8" fill="#6fa7ce"/><rect x="105.7" y="66.0" width="4.8" height="4.8" fill="#6da5cd"/><rect x="110.0" y="66.0" width="4.8" height="4.8" fill="#6aa1cb"/><rect x="114.4" y="66.0" width="4.8" height="4.8" fill="#5f94c4"/><rect x="118.7" y="66.0" width="4.8" height="4.8" fill="#4d7fb9"/><rect x="123.0" y="66.0" width="4.8" height="4.8" fill="#4574b4"/><rect x="127.3" y="66.0" width="4.8" height="4.8" fill="#4574b4"/><rect x="131.6" y="66.0" width="4.8" height="4.8" fill="#4778b6"/><rect x="135.9" y="66.0" width="4.8" height="4.8" fill="#4e7fb9"/><rect x="140.2" y="66.0" width="4.8" height="4.8" fill="#588cc0"/><rect x="144.5" y="66.0" width="4.8" height="4.8" fill="#689ec9"/><rect x="148.8" y="66.0" width="4.8" height="4.8" fill="#6fa7ce"/><rect x="153.1" y="66.0" width="4.8" height="4.8" fill="#6fa7ce"/><rect x="157.4" y="66.0" width="4.8" height="4.8" fill="#74add1"/><rect x="161.7" y="66.0" width="4.8" height="4.8" fill="#80b6d6"/><rect x="166.0" y="66.0" width="4.8" height="4.8" fill="#81b8d7"/><rect x="170.4" y="66.0" width="4.8" height="4.8" fill="#79b1d3"/><rect x="174.7" y="66.0" width="4.8" height="4.8" fill="#75aed2"/><rect x="179.0" y="66.0" width="4.8" height="4.8" fill="#75aed2"/><rect x="183.3" y="66.0" width="4.8" height="4.8" fill="#6fa7ce"/><rect x="187.6" y="66.0" width="4.8" height="4.8" fill="#6297c6"/><rect x="191.9" y="66.0" width="4.8" height="4.8" fill="#5689be"/><rect x="196.2" y="66.0" width="4.8" height="4.8" fill="#4a7bb7"/><rect x="200.5" y="66.0" width="4.8" height="4.8" fill="#4676b5"/><rect x="204.8" y="66.0" width="4.8" height="4.8" fill="#497ab7"/><rect x="209.1" y="66.0" width="4.8" height="4.8" fill="#4c7eb9"/><rect x="213.4" y="66.0" width="4.8" height="4.8" fill="#4f81ba"/><rect x="217.7" y="66.0" width="4.8" height="4.8" fill="#588cc0"/><rect x="222.0" y="66.0" width="4.8" height="4.8" fill="#689ec9"/><rect x="226.3" y="66.0" width="4.8" height="4.8" fill="#6fa7ce"/><rect x="230.7" y="66.0" width="4.8" height="4.8" fill="#6fa7ce"/><rect x="235.0" y="66.0" width="4.8" height="4.8" fill="#6fa7ce"/><rect x="239.3" y="66.0" width="4.8" height="4.8" fill="#6fa7ce"/><rect x="243.6" y="66.0" width="4.8" height="4.8" fill="#6fa7ce"/><rect x="247.9" y="66.0" width="4.8" height="4.8" fill="#6fa7ce"/><rect x="252.2" y="66.0" width="4.8" height="4.8" fill="#6fa7ce"/><rect x="256.5" y="66.0" width="4.8" height="4.8" fill="#6fa7ce"/><rect x="260.8" y="66.0" width="4.8" height="4.8" fill="#6fa7ce"/><rect x="75.6" y="70.3" width="4.8" height="4.8" fill="#5183bb"/><rect x="79.9" y="70.3" width="4.8" height="4.8" fill="#5183bb"/><rect x="84.2" y="70.3" width="4.8" height="4.8" fill="#5183bb"/><rect x="88.5" y="70.3" width="4.8" height="4.8" fill="#588cc0"/><rect x="92.8" y="70.3" width="4.8" height="4.8" fill="#689ec9"/><rect x="97.1" y="70.3" width="4.8" height="4.8" fill="#6fa7ce"/><rect x="101.4" y="70.3" width="4.8" height="4.8" fill="#6fa7ce"/><rect x="105.7" y="70.3" width="4.8" height="4.8" fill="#6da5cd"/><rect x="110.0" y="70.3" width="4.8" height="4.8" fill="#6aa1cb"/><rect x="114.4" y="70.3" width="4.8" height="4.8" fill="#6297c6"/><rect x="118.7" y="70.3" width="4.8" height="4.8" fill="#568abf"/><rect x="123.0" y="70.3" width="4.8" height="4.8" fill="#5183bb"/><rect x="127.3" y="70.3" width="4.8" height="4.8" fill="#5183bb"/><rect x="131.6" y="70.3" width="4.8" height="4.8" fill="#5385bc"/><rect x="135.9" y="70.3" width="4.8" height="4.8" fill="#568abf"/><rect x="140.2" y="70.3" width="4.8" height="4.8" fill="#5e93c3"/><rect x="144.5" y="70.3" width="4.8" height="4.8" fill="#6aa1cb"/><rect x="148.8" y="70.3" width="4.8" height="4.8" fill="#6fa7ce"/><rect x="153.1" y="70.3" width="4.8" height="4.8" fill="#6fa7ce"/><rect x="157.4" y="70.3" width="4.8" height="4.8" fill="#74add1"/><rect x="161.7" y="70.3" width="4.8" height="4.8" fill="#80b6d6"/><rect x="166.0" y="70.3" width="4.8" height="4.8" fill="#87bcd9"/><rect x="170.4" y="70.3" width="4.8" height="4.8" fill="#8bbfdb"/><rect x="174.7" y="70.3" width="4.8" height="4.8" fill="#8dc1dc"/><rect x="179.0" y="70.3" width="4.8" height="4.8" fill="#8dc1dc"/><rect x="183.3" y="70.3" width="4.8" height="4.8" fill="#85bbd8"/><rect x="187.6" y="70.3" width="4.8" height="4.8" fill="#76afd2"/><rect x="191.9" y="70.3" width="4.8" height="4.8" fill="#6aa1cb"/><rect x="196.2" y="70.3" width="4.8" height="4.8" fill="#5e93c3"/><rect x="200.5" y="70.3" width="4.8" height="4.8" fill="#588cc0"/><rect x="204.8" y="70.3" width="4.8" height="4.8" fill="#588cc0"/><rect x="209.1" y="70.3" width="4.8" height="4.8" fill="#568abf"/><rect x="213.4" y="70.3" width="4.8" height="4.8" fill="#5385bc"/><rect x="217.7" y="70.3" width="4.8" height="4.8" fill="#568abf"/><rect x="222.0" y="70.3" width="4.8" height="4.8" fill="#6297c6"/><rect x="226.3" y="70.3" width="4.8" height="4.8" fill="#689ec9"/><rect x="230.7" y="70.3" width="4.8" height="4.8" fill="#689ec9"/><rect x="235.0" y="70.3" width="4.8" height="4.8" fill="#689ec9"/><rect x="239.3" y="70.3" width="4.8" height="4.8" fill="#689ec9"/><rect x="243.6" y="70.3" width="4.8" height="4.8" fill="#689ec9"/><rect x="247.9" y="70.3" width="4.8" height="4.8" fill="#689ec9"/><rect x="252.2" y="70.3" width="4.8" height="4.8" fill="#689ec9"/><rect x="256.5" y="70.3" width="4.8" height="4.8" fill="#689ec9"/><rect x="260.8" y="70.3" width="4.8" height="4.8" fill="#689ec9"/><rect x="75.6" y="74.6" width="4.8" height="4.8" fill="#5183bb"/><rect x="79.9" y="74.6" width="4.8" height="4.8" fill="#5183bb"/><rect x="84.2" y="74.6" width="4.8" height="4.8" fill="#5183bb"/><rect x="88.5" y="74.6" width="4.8" height="4.8" fill="#588cc0"/><rect x="92.8" y="74.6" width="4.8" height="4.8" fill="#689ec9"/><rect x="97.1" y="74.6" width="4.8" height="4.8" fill="#6fa7ce"/><rect x="101.4" y="74.6" width="4.8" height="4.8" fill="#6fa7ce"/><rect x="105.7" y="74.6" width="4.8" height="4.8" fill="#6aa1cb"/><rect x="110.0" y="74.6" width="4.8" height="4.8" fill="#5e93c3"/><rect x="114.4" y="74.6" width="4.8" height="4.8" fill="#568abf"/><rect x="118.7" y="74.6" width="4.8" height="4.8" fill="#5385bc"/><rect x="123.0" y="74.6" width="4.8" height="4.8" fill="#5183bb"/><rect x="127.3" y="74.6" width="4.8" height="4.8" fill="#5183bb"/><rect x="131.6" y="74.6" width="4.8" height="4.8" fill="#568abf"/><rect x="135.9" y="74.6" width="4.8" height="4.8" fill="#6297c6"/><rect x="140.2" y="74.6" width="4.8" height="4.8" fill="#6aa1cb"/><rect x="144.5" y="74.6" width="4.8" height="4.8" fill="#6da5cd"/><rect x="148.8" y="74.6" width="4.8" height="4.8" fill="#6fa7ce"/><rect x="153.1" y="74.6" width="4.8" height="4.8" fill="#6fa7ce"/><rect x="157.4" y="74.6" width="4.8" height="4.8" fill="#71a9cf"/><rect x="161.7" y="74.6" width="4.8" height="4.8" fill="#74add1"/><rect x="166.0" y="74.6" width="4.8" height="4.8" fill="#7cb3d4"/><rect x="170.4" y="74.6" width="4.8" height="4.8" fill="#87bcd9"/><rect x="174.7" y="74.6" width="4.8" height="4.8" fill="#8dc1dc"/><rect x="179.0" y="74.6" width="4.8" height="4.8" fill="#8dc1dc"/><rect x="183.3" y="74.6" width="4.8" height="4.8" fill="#85bbd8"/><rect x="187.6" y="74.6" width="4.8" height="4.8" fill="#76afd2"/><rect x="191.9" y="74.6" width="4.8" height="4.8" fill="#6da5cd"/><rect x="196.2" y="74.6" width="4.8" height="4.8" fill="#6aa1cb"/><rect x="200.5" y="74.6" width="4.8" height="4.8" fill="#689ec9"/><rect x="204.8" y="74.6" width="4.8" height="4.8" fill="#689ec9"/><rect x="209.1" y="74.6" width="4.8" height="4.8" fill="#6297c6"/><rect x="213.4" y="74.6" width="4.8" height="4.8" fill="#568abf"/><rect x="217.7" y="74.6" width="4.8" height="4.8" fill="#5385bc"/><rect x="222.0" y="74.6" width="4.8" height="4.8" fill="#568abf"/><rect x="226.3" y="74.6" width="4.8" height="4.8" fill="#588cc0"/><rect x="230.7" y="74.6" width="4.8" height="4.8" fill="#588cc0"/><rect x="235.0" y="74.6" width="4.8" height="4.8" fill="#588cc0"/><rect x="239.3" y="74.6" width="4.8" height="4.8" fill="#588cc0"/><rect x="243.6" y="74.6" width="4.8" height="4.8" fill="#588cc0"/><rect x="247.9" y="74.6" width="4.8" height="4.8" fill="#588cc0"/><rect x="252.2" y="74.6" width="4.8" height="4.8" fill="#588cc0"/><rect x="256.5" y="74.6" width="4.8" height="4.8" fill="#588cc0"/><rect x="260.8" y="74.6" width="4.8" height="4.8" fill="#588cc0"/><rect x="75.6" y="78.9" width="4.8" height="4.8" fill="#5183bb"/><rect x="79.9" y="78.9" width="4.8" height="4.8" fill="#5183bb"/><rect x="84.2" y="78.9" width="4.8" height="4.8" fill="#5183bb"/><rect x="88.5" y="78.9" width="4.8" height="4.8" fill="#588cc0"/><rect x="92.8" y="78.9" width="4.8" height="4.8" fill="#689ec9"/><rect x="97.1" y="78.9" width="4.8" height="4.8" fill="#6fa7ce"/><rect x="101.4" y="78.9" width="4.8" height="4.8" fill="#6fa7ce"/><rect x="105.7" y="78.9" width="4.8" height="4.8" fill="#6aa1cb"/><rect x="110.0" y="78.9" width="4.8" height="4.8" fill="#5e93c3"/><rect x="114.4" y="78.9" width="4.8" height="4.8" fill="#568abf"/><rect x="118.7" y="78.9" width="4.8" height="4.8" fill="#5385bc"/><rect x="123.0" y="78.9" width="4.8" height="4.8" fill="#5183bb"/><rect x="127.3" y="78.9" width="4.8" height="4.8" fill="#5183bb"/><rect x="131.6" y="78.9" width="4.8" height="4.8" fill="#588cc0"/><rect x="135.9" y="78.9" width="4.8" height="4.8" fill="#689ec9"/><rect x="140.2" y="78.9" width="4.8" height="4.8" fill="#6fa7ce"/><rect x="144.5" y="78.9" width="4.8" height="4.8" fill="#6fa7ce"/><rect x="148.8" y="78.9" width="4.8" height="4.8" fill="#6fa7ce"/><rect x="153.1" y="78.9" width="4.8" height="4.8" fill="#6fa7ce"/><rect x="157.4" y="78.9" width="4.8" height="4.8" fill="#6fa7ce"/><rect x="161.7" y="78.9" width="4.8" height="4.8" fill="#6fa7ce"/><rect x="166.0" y="78.9" width="4.8" height="4.8" fill="#76afd2"/><rect x="170.4" y="78.9" width="4.8" height="4.8" fill="#85bbd8"/><rect x="174.7" y="78.9" width="4.8" height="4.8" fill="#8dc1dc"/><rect x="179.0" y="78.9" width="4.8" height="4.8" fill="#8dc1dc"/><rect x="183.3" y="78.9" width="4.8" height="4.8" fill="#87bcd9"/><rect x="187.6" y="78.9" width="4.8" height="4.8" fill="#7cb3d4"/><rect x="191.9" y="78.9" width="4.8" height="4.8" fill="#76afd2"/><rect x="196.2" y="78.9" width="4.8" height="4.8" fill="#76afd2"/><rect x="200.5" y="78.9" width="4.8" height="4.8" fill="#74add1"/><rect x="204.8" y="78.9" width="4.8" height="4.8" fill="#71a9cf"/><rect x="209.1" y="78.9" width="4.8" height="4.8" fill="#689ec9"/><rect x="213.4" y="78.9" width="4.8" height="4.8" fill="#588cc0"/><rect x="217.7" y="78.9" width="4.8" height="4.8" fill="#4f81ba"/><rect x="222.0" y="78.9" width="4.8" height="4.8" fill="#4c7eb9"/><rect x="226.3" y="78.9" width="4.8" height="4.8" fill="#4c7eb9"/><rect x="230.7" y="78.9" width="4.8" height="4.8" fill="#4f81ba"/><rect x="235.0" y="78.9" width="4.8" height="4.8" fill="#5183bb"/><rect x="239.3" y="78.9" width="4.8" height="4.8" fill="#5183bb"/><rect x="243.6" y="78.9" width="4.8" height="4.8" fill="#5183bb"/><rect x="247.9" y="78.9" width="4.8" height="4.8" fill="#5183bb"/><rect x="252.2" y="78.9" width="4.8" height="4.8" fill="#5183bb"/><rect x="256.5" y="78.9" width="4.8" height="4.8" fill="#5183bb"/><rect x="260.8" y="78.9" width="4.8" height="4.8" fill="#5183bb"/><rect x="75.6" y="83.2" width="4.8" height="4.8" fill="#5183bb"/><rect x="79.9" y="83.2" width="4.8" height="4.8" fill="#5183bb"/><rect x="84.2" y="83.2" width="4.8" height="4.8" fill="#5183bb"/><rect x="88.5" y="83.2" width="4.8" height="4.8" fill="#588cc0"/><rect x="92.8" y="83.2" width="4.8" height="4.8" fill="#689ec9"/><rect x="97.1" y="83.2" width="4.8" height="4.8" fill="#6fa7ce"/><rect x="101.4" y="83.2" width="4.8" height="4.8" fill="#6fa7ce"/><rect x="105.7" y="83.2" width="4.8" height="4.8" fill="#6da5cd"/><rect x="110.0" y="83.2" width="4.8" height="4.8" fill="#6aa1cb"/><rect x="114.4" y="83.2" width="4.8" height="4.8" fill="#6297c6"/><rect x="118.7" y="83.2" width="4.8" height="4.8" fill="#568abf"/><rect x="123.0" y="83.2" width="4.8" height="4.8" fill="#5183bb"/><rect x="127.3" y="83.2" width="4.8" height="4.8" fill="#5183bb"/><rect x="131.6" y="83.2" width="4.8" height="4.8" fill="#588cc0"/><rect x="135.9" y="83.2" width="4.8" height="4.8" fill="#689ec9"/><rect x="140.2" y="83.2" width="4.8" height="4.8" fill="#6fa7ce"/><rect x="144.5" y="83.2" width="4.8" height="4.8" fill="#6fa7ce"/><rect x="148.8" y="83.2" width="4.8" height="4.8" fill="#6fa7ce"/><rect x="153.1" y="83.2" width="4.8" height="4.8" fill="#6fa7ce"/><rect x="157.4" y="83.2" width="4.8" height="4.8" fill="#6fa7ce"/><rect x="161.7" y="83.2" width="4.8" height="4.8" fill="#6fa7ce"/><rect x="166.0" y="83.2" width="4.8" height="4.8" fill="#76afd2"/><rect x="170.4" y="83.2" width="4.8" height="4.8" fill="#85bbd8"/><rect x="174.7" y="83.2" width="4.8" height="4.8" fill="#8dc1dc"/><rect x="179.0" y="83.2" width="4.8" height="4.8" fill="#8dc1dc"/><rect x="183.3" y="83.2" width="4.8" height="4.8" fill="#8bbfdb"/><rect x="187.6" y="83.2" width="4.8" height="4.8" fill="#87bcd9"/><rect x="191.9" y="83.2" width="4.8" height="4.8" fill="#85bbd8"/><rect x="196.2" y="83.2" width="4.8" height="4.8" fill="#85bbd8"/><rect x="200.5" y="83.2" width="4.8" height="4.8" fill="#80b6d6"/><rect x="204.8" y="83.2" width="4.8" height="4.8" fill="#74add1"/><rect x="209.1" y="83.2" width="4.8" height="4.8" fill="#689ec9"/><rect x="213.4" y="83.2" width="4.8" height="4.8" fill="#588cc0"/><rect x="217.7" y="83.2" width="4.8" height="4.8" fill="#4c7eb9"/><rect x="222.0" y="83.2" width="4.8" height="4.8" fill="#4473b3"/><rect x="226.3" y="83.2" width="4.8" height="4.8" fill="#4473b3"/><rect x="230.7" y="83.2" width="4.8" height="4.8" fill="#4c7eb9"/><rect x="235.0" y="83.2" width="4.8" height="4.8" fill="#5183bb"/><rect x="239.3" y="83.2" width="4.8" height="4.8" fill="#5183bb"/><rect x="243.6" y="83.2" width="4.8" height="4.8" fill="#5183bb"/><rect x="247.9" y="83.2" width="4.8" height="4.8" fill="#5183bb"/><rect x="252.2" y="83.2" width="4.8" height="4.8" fill="#5183bb"/><rect x="256.5" y="83.2" width="4.8" height="4.8" fill="#5183bb"/><rect x="260.8" y="83.2" width="4.8" height="4.8" fill="#5183bb"/><rect x="75.6" y="87.5" width="4.8" height="4.8" fill="#5183bb"/><rect x="79.9" y="87.5" width="4.8" height="4.8" fill="#5183bb"/><rect x="84.2" y="87.5" width="4.8" height="4.8" fill="#5183bb"/><rect x="88.5" y="87.5" width="4.8" height="4.8" fill="#598dc0"/><rect x="92.8" y="87.5" width="4.8" height="4.8" fill="#69a0ca"/><rect x="97.1" y="87.5" width="4.8" height="4.8" fill="#71aacf"/><rect x="101.4" y="87.5" width="4.8" height="4.8" fill="#71aacf"/><rect x="105.7" y="87.5" width="4.8" height="4.8" fill="#71aacf"/><rect x="110.0" y="87.5" width="4.8" height="4.8" fill="#71aacf"/><rect x="114.4" y="87.5" width="4.8" height="4.8" fill="#6ba3cc"/><rect x="118.7" y="87.5" width="4.8" height="4.8" fill="#6095c5"/><rect x="123.0" y="87.5" width="4.8" height="4.8" fill="#5a8ec1"/><rect x="127.3" y="87.5" width="4.8" height="4.8" fill="#5a8ec1"/><rect x="131.6" y="87.5" width="4.8" height="4.8" fill="#6095c5"/><rect x="135.9" y="87.5" width="4.8" height="4.8" fill="#6ba3cc"/><rect x="140.2" y="87.5" width="4.8" height="4.8" fill="#72abd0"/><rect x="144.5" y="87.5" width="4.8" height="4.8" fill="#75aed1"/><rect x="148.8" y="87.5" width="4.8" height="4.8" fill="#76afd2"/><rect x="153.1" y="87.5" width="4.8" height="4.8" fill="#76afd2"/><rect x="157.4" y="87.5" width="4.8" height="4.8" fill="#78b0d3"/><rect x="161.7" y="87.5" width="4.8" height="4.8" fill="#7bb2d4"/><rect x="166.0" y="87.5" width="4.8" height="4.8" fill="#82b8d7"/><rect x="170.4" y="87.5" width="4.8" height="4.8" fill="#8dc1dc"/><rect x="174.7" y="87.5" width="4.8" height="4.8" fill="#93c6de"/><rect x="179.0" y="87.5" width="4.8" height="4.8" fill="#93c6de"/><rect x="183.3" y="87.5" width="4.8" height="4.8" fill="#91c5de"/><rect x="187.6" y="87.5" width="4.8" height="4.8" fill="#8ec2dc"/><rect x="191.9" y="87.5" width="4.8" height="4.8" fill="#8dc1dc"/><rect x="196.2" y="87.5" width="4.8" height="4.8" fill="#8dc1dc"/><rect x="200.5" y="87.5" width="4.8" height="4.8" fill="#83b9d8"/><rect x="204.8" y="87.5" width="4.8" height="4.8" fill="#70a8cf"/><rect x="209.1" y="87.5" width="4.8" height="4.8" fill="#6096c5"/><rect x="213.4" y="87.5" width="4.8" height="4.8" fill="#5285bc"/><rect x="217.7" y="87.5" width="4.8" height="4.8" fill="#4677b5"/><rect x="222.0" y="87.5" width="4.8" height="4.8" fill="#426baf"/><rect x="226.3" y="87.5" width="4.8" height="4.8" fill="#426baf"/><rect x="230.7" y="87.5" width="4.8" height="4.8" fill="#4677b5"/><rect x="235.0" y="87.5" width="4.8" height="4.8" fill="#4c7eb9"/><rect x="239.3" y="87.5" width="4.8" height="4.8" fill="#4f81ba"/><rect x="243.6" y="87.5" width="4.8" height="4.8" fill="#5183bb"/><rect x="247.9" y="87.5" width="4.8" height="4.8" fill="#5183bb"/><rect x="252.2" y="87.5" width="4.8" height="4.8" fill="#5183bb"/><rect x="256.5" y="87.5" width="4.8" height="4.8" fill="#5183bb"/><rect x="260.8" y="87.5" width="4.8" height="4.8" fill="#5183bb"/><rect x="75.6" y="91.8" width="4.8" height="4.8" fill="#5183bb"/><rect x="79.9" y="91.8" width="4.8" height="4.8" fill="#5183bb"/><rect x="84.2" y="91.8" width="4.8" height="4.8" fill="#5183bb"/><rect x="88.5" y="91.8" width="4.8" height="4.8" fill="#5a8ec1"/><rect x="92.8" y="91.8" width="4.8" height="4.8" fill="#6ca3cc"/><rect x="97.1" y="91.8" width="4.8" height="4.8" fill="#75aed1"/><rect x="101.4" y="91.8" width="4.8" height="4.8" fill="#75aed1"/><rect x="105.7" y="91.8" width="4.8" height="4.8" fill="#75aed1"/><rect x="110.0" y="91.8" width="4.8" height="4.8" fill="#75aed1"/><rect x="114.4" y="91.8" width="4.8" height="4.8" fill="#73abd0"/><rect x="118.7" y="91.8" width="4.8" height="4.8" fill="#6fa7ce"/><rect x="123.0" y="91.8" width="4.8" height="4.8" fill="#6da5cd"/><rect x="127.3" y="91.8" width="4.8" height="4.8" fill="#6da5cd"/><rect x="131.6" y="91.8" width="4.8" height="4.8" fill="#6fa7ce"/><rect x="135.9" y="91.8" width="4.8" height="4.8" fill="#73abd0"/><rect x="140.2" y="91.8" width="4.8" height="4.8" fill="#79b1d3"/><rect x="144.5" y="91.8" width="4.8" height="4.8" fill="#81b7d7"/><rect x="148.8" y="91.8" width="4.8" height="4.8" fill="#85bbd8"/><rect x="153.1" y="91.8" width="4.8" height="4.8" fill="#85bbd8"/><rect x="157.4" y="91.8" width="4.8" height="4.8" fill="#8abedb"/><rect x="161.7" y="91.8" width="4.8" height="4.8" fill="#93c6df"/><rect x="166.0" y="91.8" width="4.8" height="4.8" fill="#9acbe1"/><rect x="170.4" y="91.8" width="4.8" height="4.8" fill="#9dcee3"/><rect x="174.7" y="91.8" width="4.8" height="4.8" fill="#9fd0e4"/><rect x="179.0" y="91.8" width="4.8" height="4.8" fill="#9fd0e4"/><rect x="183.3" y="91.8" width="4.8" height="4.8" fill="#9bcce2"/><rect x="187.6" y="91.8" width="4.8" height="4.8" fill="#91c5de"/><rect x="191.9" y="91.8" width="4.8" height="4.8" fill="#8dc1dc"/><rect x="196.2" y="91.8" width="4.8" height="4.8" fill="#8dc1dc"/><rect x="200.5" y="91.8" width="4.8" height="4.8" fill="#7eb5d6"/><rect x="204.8" y="91.8" width="4.8" height="4.8" fill="#659bc7"/><rect x="209.1" y="91.8" width="4.8" height="4.8" fill="#5285bc"/><rect x="213.4" y="91.8" width="4.8" height="4.8" fill="#4576b4"/><rect x="217.7" y="91.8" width="4.8" height="4.8" fill="#426baf"/><rect x="222.0" y="91.8" width="4.8" height="4.8" fill="#4167ad"/><rect x="226.3" y="91.8" width="4.8" height="4.8" fill="#4167ad"/><rect x="230.7" y="91.8" width="4.8" height="4.8" fill="#426baf"/><rect x="235.0" y="91.8" width="4.8" height="4.8" fill="#4473b3"/><rect x="239.3" y="91.8" width="4.8" height="4.8" fill="#4c7eb9"/><rect x="243.6" y="91.8" width="4.8" height="4.8" fill="#5183bb"/><rect x="247.9" y="91.8" width="4.8" height="4.8" fill="#5183bb"/><rect x="252.2" y="91.8" width="4.8" height="4.8" fill="#5183bb"/><rect x="256.5" y="91.8" width="4.8" height="4.8" fill="#5183bb"/><rect x="260.8" y="91.8" width="4.8" height="4.8" fill="#5183bb"/><rect x="75.6" y="96.1" width="4.8" height="4.8" fill="#588cc0"/><rect x="79.9" y="96.1" width="4.8" height="4.8" fill="#588cc0"/><rect x="84.2" y="96.1" width="4.8" height="4.8" fill="#588cc0"/><rect x="88.5" y="96.1" width="4.8" height="4.8" fill="#6095c5"/><rect x="92.8" y="96.1" width="4.8" height="4.8" fill="#6fa7ce"/><rect x="97.1" y="96.1" width="4.8" height="4.8" fill="#77afd2"/><rect x="101.4" y="96.1" width="4.8" height="4.8" fill="#77afd2"/><rect x="105.7" y="96.1" width="4.8" height="4.8" fill="#77afd2"/><rect x="110.0" y="96.1" width="4.8" height="4.8" fill="#77afd2"/><rect x="114.4" y="96.1" width="4.8" height="4.8" fill="#77afd2"/><rect x="118.7" y="96.1" width="4.8" height="4.8" fill="#77afd2"/><rect x="123.0" y="96.1" width="4.8" height="4.8" fill="#77afd2"/><rect x="127.3" y="96.1" width="4.8" height="4.8" fill="#77afd2"/><rect x="131.6" y="96.1" width="4.8" height="4.8" fill="#77afd2"/><rect x="135.9" y="96.1" width="4.8" height="4.8" fill="#77afd2"/><rect x="140.2" y="96.1" width="4.8" height="4.8" fill="#7eb5d5"/><rect x="144.5" y="96.1" width="4.8" height="4.8" fill="#8cc0db"/><rect x="148.8" y="96.1" width="4.8" height="4.8" fill="#93c6de"/><rect x="153.1" y="96.1" width="4.8" height="4.8" fill="#93c6de"/><rect x="157.4" y="96.1" width="4.8" height="4.8" fill="#98c9e1"/><rect x="161.7" y="96.1" width="4.8" height="4.8" fill="#a1d1e5"/><rect x="166.0" y="96.1" width="4.8" height="4.8" fill="#a6d5e7"/><rect x="170.4" y="96.1" width="4.8" height="4.8" fill="#a6d5e7"/><rect x="174.7" y="96.1" width="4.8" height="4.8" fill="#a6d5e7"/><rect x="179.0" y="96.1" width="4.8" height="4.8" fill="#a6d5e7"/><rect x="183.3" y="96.1" width="4.8" height="4.8" fill="#9fd0e4"/><rect x="187.6" y="96.1" width="4.8" height="4.8" fill="#93c6de"/><rect x="191.9" y="96.1" width="4.8" height="4.8" fill="#8dc1dc"/><rect x="196.2" y="96.1" width="4.8" height="4.8" fill="#8dc1dc"/><rect x="200.5" y="96.1" width="4.8" height="4.8" fill="#7cb4d5"/><rect x="204.8" y="96.1" width="4.8" height="4.8" fill="#5f94c4"/><rect x="209.1" y="96.1" width="4.8" height="4.8" fill="#4b7cb8"/><rect x="213.4" y="96.1" width="4.8" height="4.8" fill="#426db0"/><rect x="217.7" y="96.1" width="4.8" height="4.8" fill="#4065ac"/><rect x="222.0" y="96.1" width="4.8" height="4.8" fill="#4065ac"/><rect x="226.3" y="96.1" width="4.8" height="4.8" fill="#4065ac"/><rect x="230.7" y="96.1" width="4.8" height="4.8" fill="#4065ac"/><rect x="235.0" y="96.1" width="4.8" height="4.8" fill="#426baf"/><rect x="239.3" y="96.1" width="4.8" height="4.8" fill="#4677b5"/><rect x="243.6" y="96.1" width="4.8" height="4.8" fill="#4c7eb9"/><rect x="247.9" y="96.1" width="4.8" height="4.8" fill="#4f81ba"/><rect x="252.2" y="96.1" width="4.8" height="4.8" fill="#5183bb"/><rect x="256.5" y="96.1" width="4.8" height="4.8" fill="#5183bb"/><rect x="260.8" y="96.1" width="4.8" height="4.8" fill="#5183bb"/><rect x="75.6" y="100.4" width="4.8" height="4.8" fill="#689ec9"/><rect x="79.9" y="100.4" width="4.8" height="4.8" fill="#689ec9"/><rect x="84.2" y="100.4" width="4.8" height="4.8" fill="#689ec9"/><rect x="88.5" y="100.4" width="4.8" height="4.8" fill="#6ba3cc"/><rect x="92.8" y="100.4" width="4.8" height="4.8" fill="#73abd0"/><rect x="97.1" y="100.4" width="4.8" height="4.8" fill="#77afd2"/><rect x="101.4" y="100.4" width="4.8" height="4.8" fill="#77afd2"/><rect x="105.7" y="100.4" width="4.8" height="4.8" fill="#77afd2"/><rect x="110.0" y="100.4" width="4.8" height="4.8" fill="#77afd2"/><rect x="114.4" y="100.4" width="4.8" height="4.8" fill="#77afd2"/><rect x="118.7" y="100.4" width="4.8" height="4.8" fill="#77afd2"/><rect x="123.0" y="100.4" width="4.8" height="4.8" fill="#77afd2"/><rect x="127.3" y="100.4" width="4.8" height="4.8" fill="#77afd2"/><rect x="131.6" y="100.4" width="4.8" height="4.8" fill="#77afd2"/><rect x="135.9" y="100.4" width="4.8" height="4.8" fill="#77afd2"/><rect x="140.2" y="100.4" width="4.8" height="4.8" fill="#81b7d7"/><rect x="144.5" y="100.4" width="4.8" height="4.8" fill="#95c8df"/><rect x="148.8" y="100.4" width="4.8" height="4.8" fill="#9fd0e4"/><rect x="153.1" y="100.4" width="4.8" height="4.8" fill="#9fd0e4"/><rect x="157.4" y="100.4" width="4.8" height="4.8" fill="#a1d1e5"/><rect x="161.7" y="100.4" width="4.8" height="4.8" fill="#a4d3e6"/><rect x="166.0" y="100.4" width="4.8" height="4.8" fill="#a6d5e7"/><rect x="170.4" y="100.4" width="4.8" height="4.8" fill="#a5d5e7"/><rect x="174.7" y="100.4" width="4.8" height="4.8" fill="#a6d5e7"/><rect x="179.0" y="100.4" width="4.8" height="4.8" fill="#a5d5e7"/><rect x="183.3" y="100.4" width="4.8" height="4.8" fill="#9fd0e4"/><rect x="187.6" y="100.4" width="4.8" height="4.8" fill="#93c6de"/><rect x="191.9" y="100.4" width="4.8" height="4.8" fill="#8dc1dc"/><rect x="196.2" y="100.4" width="4.8" height="4.8" fill="#8dc1dc"/><rect x="200.5" y="100.4" width="4.8" height="4.8" fill="#7cb4d5"/><rect x="204.8" y="100.4" width="4.8" height="4.8" fill="#5f94c4"/><rect x="209.1" y="100.4" width="4.8" height="4.8" fill="#4b7cb8"/><rect x="213.4" y="100.4" width="4.8" height="4.8" fill="#426db0"/><rect x="217.7" y="100.4" width="4.8" height="4.8" fill="#4065ac"/><rect x="222.0" y="100.4" width="4.8" height="4.8" fill="#4065ac"/><rect x="226.3" y="100.4" width="4.8" height="4.8" fill="#4065ac"/><rect x="230.7" y="100.4" width="4.8" height="4.8" fill="#4065ac"/><rect x="235.0" y="100.4" width="4.8" height="4.8" fill="#4167ad"/><rect x="239.3" y="100.4" width="4.8" height="4.8" fill="#426baf"/><rect x="243.6" y="100.4" width="4.8" height="4.8" fill="#4473b3"/><rect x="247.9" y="100.4" width="4.8" height="4.8" fill="#4c7eb9"/><rect x="252.2" y="100.4" width="4.8" height="4.8" fill="#5183bb"/><rect x="256.5" y="100.4" width="4.8" height="4.8" fill="#5183bb"/><rect x="260.8" y="100.4" width="4.8" height="4.8" fill="#5183bb"/><rect x="75.6" y="104.7" width="4.8" height="4.8" fill="#6fa7ce"/><rect x="79.9" y="104.7" width="4.8" height="4.8" fill="#6fa7ce"/><rect x="84.2" y="104.7" width="4.8" height="4.8" fill="#6fa7ce"/><rect x="88.5" y="104.7" width="4.8" height="4.8" fill="#71aacf"/><rect x="92.8" y="104.7" width="4.8" height="4.8" fill="#75aed1"/><rect x="97.1" y="104.7" width="4.8" height="4.8" fill="#77afd2"/><rect x="101.4" y="104.7" width="4.8" height="4.8" fill="#77afd2"/><rect x="105.7" y="104.7" width="4.8" height="4.8" fill="#77afd2"/><rect x="110.0" y="104.7" width="4.8" height="4.8" fill="#77afd2"/><rect x="114.4" y="104.7" width="4.8" height="4.8" fill="#77afd2"/><rect x="118.7" y="104.7" width="4.8" height="4.8" fill="#77afd2"/><rect x="123.0" y="104.7" width="4.8" height="4.8" fill="#77afd2"/><rect x="127.3" y="104.7" width="4.8" height="4.8" fill="#77afd2"/><rect x="131.6" y="104.7" width="4.8" height="4.8" fill="#77afd2"/><rect x="135.9" y="104.7" width="4.8" height="4.8" fill="#77afd2"/><rect x="140.2" y="104.7" width="4.8" height="4.8" fill="#82b9d7"/><rect x="144.5" y="104.7" width="4.8" height="4.8" fill="#9acbe2"/><rect x="148.8" y="104.7" width="4.8" height="4.8" fill="#a6d5e7"/><rect x="153.1" y="104.7" width="4.8" height="4.8" fill="#a6d5e7"/><rect x="157.4" y="104.7" width="4.8" height="4.8" fill="#a6d5e7"/><rect x="161.7" y="104.7" width="4.8" height="4.8" fill="#a6d5e7"/><rect x="166.0" y="104.7" width="4.8" height="4.8" fill="#a6d5e7"/><rect x="170.4" y="104.7" width="4.8" height="4.8" fill="#a6d5e7"/><rect x="174.7" y="104.7" width="4.8" height="4.8" fill="#a6d5e7"/><rect x="179.0" y="104.7" width="4.8" height="4.8" fill="#a6d5e7"/><rect x="183.3" y="104.7" width="4.8" height="4.8" fill="#9fd0e4"/><rect x="187.6" y="104.7" width="4.8" height="4.8" fill="#93c6de"/><rect x="191.9" y="104.7" width="4.8" height="4.8" fill="#8bbfdb"/><rect x="196.2" y="104.7" width="4.8" height="4.8" fill="#87bcd9"/><rect x="200.5" y="104.7" width="4.8" height="4.8" fill="#77afd2"/><rect x="204.8" y="104.7" width="4.8" height="4.8" fill="#5d92c3"/><rect x="209.1" y="104.7" width="4.8" height="4.8" fill="#4b7cb8"/><rect x="213.4" y="104.7" width="4.8" height="4.8" fill="#426db0"/><rect x="217.7" y="104.7" width="4.8" height="4.8" fill="#4065ac"/><rect x="222.0" y="104.7" width="4.8" height="4.8" fill="#4065ac"/><rect x="226.3" y="104.7" width="4.8" height="4.8" fill="#4065ac"/><rect x="230.7" y="104.7" width="4.8" height="4.8" fill="#4065ac"/><rect x="235.0" y="104.7" width="4.8" height="4.8" fill="#4065ac"/><rect x="239.3" y="104.7" width="4.8" height="4.8" fill="#4065ac"/><rect x="243.6" y="104.7" width="4.8" height="4.8" fill="#426db0"/><rect x="247.9" y="104.7" width="4.8" height="4.8" fill="#4b7cb8"/><rect x="252.2" y="104.7" width="4.8" height="4.8" fill="#5183bb"/><rect x="256.5" y="104.7" width="4.8" height="4.8" fill="#5183bb"/><rect x="260.8" y="104.7" width="4.8" height="4.8" fill="#5183bb"/><rect x="75.6" y="109.0" width="4.8" height="4.8" fill="#6fa7ce"/><rect x="79.9" y="109.0" width="4.8" height="4.8" fill="#6fa7ce"/><rect x="84.2" y="109.0" width="4.8" height="4.8" fill="#6fa7ce"/><rect x="88.5" y="109.0" width="4.8" height="4.8" fill="#71aacf"/><rect x="92.8" y="109.0" width="4.8" height="4.8" fill="#75aed1"/><rect x="97.1" y="109.0" width="4.8" height="4.8" fill="#77afd2"/><rect x="101.4" y="109.0" width="4.8" height="4.8" fill="#77afd2"/><rect x="105.7" y="109.0" width="4.8" height="4.8" fill="#77afd2"/><rect x="110.0" y="109.0" width="4.8" height="4.8" fill="#77afd2"/><rect x="114.4" y="109.0" width="4.8" height="4.8" fill="#77afd2"/><rect x="118.7" y="109.0" width="4.8" height="4.8" fill="#77afd2"/><rect x="123.0" y="109.0" width="4.8" height="4.8" fill="#77afd2"/><rect x="127.3" y="109.0" width="4.8" height="4.8" fill="#77afd2"/><rect x="131.6" y="109.0" width="4.8" height="4.8" fill="#77afd2"/><rect x="135.9" y="109.0" width="4.8" height="4.8" fill="#77afd2"/><rect x="140.2" y="109.0" width="4.8" height="4.8" fill="#82b9d7"/><rect x="144.5" y="109.0" width="4.8" height="4.8" fill="#9acbe2"/><rect x="148.8" y="109.0" width="4.8" height="4.8" fill="#a6d5e7"/><rect x="153.1" y="109.0" width="4.8" height="4.8" fill="#a5d5e7"/><rect x="157.4" y="109.0" width="4.8" height="4.8" fill="#a6d5e7"/><rect x="161.7" y="109.0" width="4.8" height="4.8" fill="#a5d5e7"/><rect x="166.0" y="109.0" width="4.8" height="4.8" fill="#a6d5e7"/><rect x="170.4" y="109.0" width="4.8" height="4.8" fill="#a5d5e7"/><rect x="174.7" y="109.0" width="4.8" height="4.8" fill="#a6d5e7"/><rect x="179.0" y="109.0" width="4.8" height="4.8" fill="#a5d5e7"/><rect x="183.3" y="109.0" width="4.8" height="4.8" fill="#9fd0e4"/><rect x="187.6" y="109.0" width="4.8" height="4.8" fill="#93c6de"/><rect x="191.9" y="109.0" width="4.8" height="4.8" fill="#87bcd9"/><rect x="196.2" y="109.0" width="4.8" height="4.8" fill="#7cb3d4"/><rect x="200.5" y="109.0" width="4.8" height="4.8" fill="#6da4cc"/><rect x="204.8" y="109.0" width="4.8" height="4.8" fill="#5a8ec1"/><rect x="209.1" y="109.0" width="4.8" height="4.8" fill="#4b7cb8"/><rect x="213.4" y="109.0" width="4.8" height="4.8" fill="#426db0"/><rect x="217.7" y="109.0" width="4.8" height="4.8" fill="#4065ac"/><rect x="222.0" y="109.0" width="4.8" height="4.8" fill="#4065ac"/><rect x="226.3" y="109.0" width="4.8" height="4.8" fill="#4065ac"/><rect x="230.7" y="109.0" width="4.8" height="4.8" fill="#4065ac"/><rect x="235.0" y="109.0" width="4.8" height="4.8" fill="#4065ac"/><rect x="239.3" y="109.0" width="4.8" height="4.8" fill="#4065ac"/><rect x="243.6" y="109.0" width="4.8" height="4.8" fill="#426db0"/><rect x="247.9" y="109.0" width="4.8" height="4.8" fill="#4b7cb8"/><rect x="252.2" y="109.0" width="4.8" height="4.8" fill="#5183bb"/><rect x="256.5" y="109.0" width="4.8" height="4.8" fill="#5183bb"/><rect x="260.8" y="109.0" width="4.8" height="4.8" fill="#5183bb"/><rect x="75.6" y="113.3" width="4.8" height="4.8" fill="#689ec9"/><rect x="79.9" y="113.3" width="4.8" height="4.8" fill="#689ec9"/><rect x="84.2" y="113.3" width="4.8" height="4.8" fill="#689ec9"/><rect x="88.5" y="113.3" width="4.8" height="4.8" fill="#6ba3cc"/><rect x="92.8" y="113.3" width="4.8" height="4.8" fill="#73abd0"/><rect x="97.1" y="113.3" width="4.8" height="4.8" fill="#77afd2"/><rect x="101.4" y="113.3" width="4.8" height="4.8" fill="#77afd2"/><rect x="105.7" y="113.3" width="4.8" height="4.8" fill="#77afd2"/><rect x="110.0" y="113.3" width="4.8" height="4.8" fill="#77afd2"/><rect x="114.4" y="113.3" width="4.8" height="4.8" fill="#77afd2"/><rect x="118.7" y="113.3" width="4.8" height="4.8" fill="#77afd2"/><rect x="123.0" y="113.3" width="4.8" height="4.8" fill="#77afd2"/><rect x="127.3" y="113.3" width="4.8" height="4.8" fill="#77afd2"/><rect x="131.6" y="113.3" width="4.8" height="4.8" fill="#77afd2"/><rect x="135.9" y="113.3" width="4.8" height="4.8" fill="#77afd2"/><rect x="140.2" y="113.3" width="4.8" height="4.8" fill="#82b9d7"/><rect x="144.5" y="113.3" width="4.8" height="4.8" fill="#9acbe2"/><rect x="148.8" y="113.3" width="4.8" height="4.8" fill="#a6d5e7"/><rect x="153.1" y="113.3" width="4.8" height="4.8" fill="#a6d5e7"/><rect x="157.4" y="113.3" width="4.8" height="4.8" fill="#a6d5e7"/><rect x="161.7" y="113.3" width="4.8" height="4.8" fill="#a6d5e7"/><rect x="166.0" y="113.3" width="4.8" height="4.8" fill="#a6d5e7"/><rect x="170.4" y="113.3" width="4.8" height="4.8" fill="#a6d5e7"/><rect x="174.7" y="113.3" width="4.8" height="4.8" fill="#a6d5e7"/><rect x="179.0" y="113.3" width="4.8" height="4.8" fill="#a6d5e7"/><rect x="183.3" y="113.3" width="4.8" height="4.8" fill="#9fd0e4"/><rect x="187.6" y="113.3" width="4.8" height="4.8" fill="#93c6de"/><rect x="191.9" y="113.3" width="4.8" height="4.8" fill="#87bcd9"/><rect x="196.2" y="113.3" width="4.8" height="4.8" fill="#7cb3d4"/><rect x="200.5" y="113.3" width="4.8" height="4.8" fill="#70a8cf"/><rect x="204.8" y="113.3" width="4.8" height="4.8" fill="#659bc7"/><rect x="209.1" y="113.3" width="4.8" height="4.8" fill="#578abf"/><rect x="213.4" y="113.3" width="4.8" height="4.8" fill="#4777b5"/><rect x="217.7" y="113.3" width="4.8" height="4.8" fill="#426db0"/><rect x="222.0" y="113.3" width="4.8" height="4.8" fill="#426db0"/><rect x="226.3" y="113.3" width="4.8" height="4.8" fill="#426db0"/><rect x="230.7" y="113.3" width="4.8" height="4.8" fill="#426db0"/><rect x="235.0" y="113.3" width="4.8" height="4.8" fill="#426baf"/><rect x="239.3" y="113.3" width="4.8" height="4.8" fill="#4167ad"/><rect x="243.6" y="113.3" width="4.8" height="4.8" fill="#426baf"/><rect x="247.9" y="113.3" width="4.8" height="4.8" fill="#4677b5"/><rect x="252.2" y="113.3" width="4.8" height="4.8" fill="#4b7cb8"/><rect x="256.5" y="113.3" width="4.8" height="4.8" fill="#4b7cb8"/><rect x="260.8" y="113.3" width="4.8" height="4.8" fill="#4b7cb8"/><rect x="75.6" y="117.7" width="4.8" height="4.8" fill="#588cc0"/><rect x="79.9" y="117.7" width="4.8" height="4.8" fill="#588cc0"/><rect x="84.2" y="117.7" width="4.8" height="4.8" fill="#588cc0"/><rect x="88.5" y="117.7" width="4.8" height="4.8" fill="#6095c5"/><rect x="92.8" y="117.7" width="4.8" height="4.8" fill="#6fa7ce"/><rect x="97.1" y="117.7" width="4.8" height="4.8" fill="#77afd2"/><rect x="101.4" y="117.7" width="4.8" height="4.8" fill="#77afd2"/><rect x="105.7" y="117.7" width="4.8" height="4.8" fill="#77afd2"/><rect x="110.0" y="117.7" width="4.8" height="4.8" fill="#77afd2"/><rect x="114.4" y="117.7" width="4.8" height="4.8" fill="#77afd2"/><rect x="118.7" y="117.7" width="4.8" height="4.8" fill="#77afd2"/><rect x="123.0" y="117.7" width="4.8" height="4.8" fill="#77afd2"/><rect x="127.3" y="117.7" width="4.8" height="4.8" fill="#77afd2"/><rect x="131.6" y="117.7" width="4.8" height="4.8" fill="#77afd2"/><rect x="135.9" y="117.7" width="4.8" height="4.8" fill="#77afd2"/><rect x="140.2" y="117.7" width="4.8" height="4.8" fill="#82b9d7"/><rect x="144.5" y="117.7" width="4.8" height="4.8" fill="#9acbe2"/><rect x="148.8" y="117.7" width="4.8" height="4.8" fill="#a6d5e7"/><rect x="153.1" y="117.7" width="4.8" height="4.8" fill="#a5d5e7"/><rect x="157.4" y="117.7" width="4.8" height="4.8" fill="#a6d5e7"/><rect x="161.7" y="117.7" width="4.8" height="4.8" fill="#a5d5e7"/><rect x="166.0" y="117.7" width="4.8" height="4.8" fill="#a6d5e7"/><rect x="170.4" y="117.7" width="4.8" height="4.8" fill="#a5d5e7"/><rect x="174.7" y="117.7" width="4.8" height="4.8" fill="#a6d5e7"/><rect x="179.0" y="117.7" width="4.8" height="4.8" fill="#a5d5e7"/><rect x="183.3" y="117.7" width="4.8" height="4.8" fill="#9fd0e4"/><rect x="187.6" y="117.7" width="4.8" height="4.8" fill="#93c6de"/><rect x="191.9" y="117.7" width="4.8" height="4.8" fill="#8bbfdb"/><rect x="196.2" y="117.7" width="4.8" height="4.8" fill="#87bcd9"/><rect x="200.5" y="117.7" width="4.8" height="4.8" fill="#83b9d8"/><rect x="204.8" y="117.7" width="4.8" height="4.8" fill="#7eb5d6"/><rect x="209.1" y="117.7" width="4.8" height="4.8" fill="#6fa7ce"/><rect x="213.4" y="117.7" width="4.8" height="4.8" fill="#578abf"/><rect x="217.7" y="117.7" width="4.8" height="4.8" fill="#4b7cb8"/><rect x="222.0" y="117.7" width="4.8" height="4.8" fill="#4b7cb8"/><rect x="226.3" y="117.7" width="4.8" height="4.8" fill="#4b7cb8"/><rect x="230.7" y="117.7" width="4.8" height="4.8" fill="#4b7cb8"/><rect x="235.0" y="117.7" width="4.8" height="4.8" fill="#4677b5"/><rect x="239.3" y="117.7" width="4.8" height="4.8" fill="#426baf"/><rect x="243.6" y="117.7" width="4.8" height="4.8" fill="#4167ad"/><rect x="247.9" y="117.7" width="4.8" height="4.8" fill="#426baf"/><rect x="252.2" y="117.7" width="4.8" height="4.8" fill="#426db0"/><rect x="256.5" y="117.7" width="4.8" height="4.8" fill="#426db0"/><rect x="260.8" y="117.7" width="4.8" height="4.8" fill="#426db0"/><rect x="75.6" y="122.0" width="4.8" height="4.8" fill="#5183bb"/><rect x="79.9" y="122.0" width="4.8" height="4.8" fill="#5183bb"/><rect x="84.2" y="122.0" width="4.8" height="4.8" fill="#5183bb"/><rect x="88.5" y="122.0" width="4.8" height="4.8" fill="#5a8ec1"/><rect x="92.8" y="122.0" width="4.8" height="4.8" fill="#6da5cd"/><rect x="97.1" y="122.0" width="4.8" height="4.8" fill="#77afd2"/><rect x="101.4" y="122.0" width="4.8" height="4.8" fill="#77afd2"/><rect x="105.7" y="122.0" width="4.8" height="4.8" fill="#77afd2"/><rect x="110.0" y="122.0" width="4.8" height="4.8" fill="#77afd2"/><rect x="114.4" y="122.0" width="4.8" height="4.8" fill="#77afd2"/><rect x="118.7" y="122.0" width="4.8" height="4.8" fill="#77afd2"/><rect x="123.0" y="122.0" width="4.8" height="4.8" fill="#77afd2"/><rect x="127.3" y="122.0" width="4.8" height="4.8" fill="#77afd2"/><rect x="131.6" y="122.0" width="4.8" height="4.8" fill="#77afd2"/><rect x="135.9" y="122.0" width="4.8" height="4.8" fill="#77afd2"/><rect x="140.2" y="122.0" width="4.8" height="4.8" fill="#81b7d7"/><rect x="144.5" y="122.0" width="4.8" height="4.8" fill="#95c8df"/><rect x="148.8" y="122.0" width="4.8" height="4.8" fill="#a1d1e5"/><rect x="153.1" y="122.0" width="4.8" height="4.8" fill="#a4d3e6"/><rect x="157.4" y="122.0" width="4.8" height="4.8" fill="#a6d5e7"/><rect x="161.7" y="122.0" width="4.8" height="4.8" fill="#a6d5e7"/><rect x="166.0" y="122.0" width="4.8" height="4.8" fill="#a6d5e7"/><rect x="170.4" y="122.0" width="4.8" height="4.8" fill="#a6d5e7"/><rect x="174.7" y="122.0" width="4.8" height="4.8" fill="#a4d3e6"/><rect x="179.0" y="122.0" width="4.8" height="4.8" fill="#a1d1e5"/><rect x="183.3" y="122.0" width="4.8" height="4.8" fill="#9bcce2"/><rect x="187.6" y="122.0" width="4.8" height="4.8" fill="#91c5de"/><rect x="191.9" y="122.0" width="4.8" height="4.8" fill="#8dc1dc"/><rect x="196.2" y="122.0" width="4.8" height="4.8" fill="#8dc1dc"/><rect x="200.5" y="122.0" width="4.8" height="4.8" fill="#8dc1dc"/><rect x="204.8" y="122.0" width="4.8" height="4.8" fill="#8dc1dc"/><rect x="209.1" y="122.0" width="4.8" height="4.8" fill="#7cb4d5"/><rect x="213.4" y="122.0" width="4.8" height="4.8" fill="#5f94c4"/><rect x="217.7" y="122.0" width="4.8" height="4.8" fill="#4f81ba"/><rect x="222.0" y="122.0" width="4.8" height="4.8" fill="#4c7eb9"/><rect x="226.3" y="122.0" width="4.8" height="4.8" fill="#4b7cb8"/><rect x="230.7" y="122.0" width="4.8" height="4.8" fill="#4b7cb8"/><rect x="235.0" y="122.0" width="4.8" height="4.8" fill="#4677b5"/><rect x="239.3" y="122.0" width="4.8" height="4.8" fill="#426baf"/><rect x="243.6" y="122.0" width="4.8" height="4.8" fill="#4065ac"/><rect x="247.9" y="122.0" width="4.8" height="4.8" fill="#4065ac"/><rect x="252.2" y="122.0" width="4.8" height="4.8" fill="#4065ac"/><rect x="256.5" y="122.0" width="4.8" height="4.8" fill="#4065ac"/><rect x="260.8" y="122.0" width="4.8" height="4.8" fill="#4065ac"/><rect x="75.6" y="126.3" width="4.8" height="4.8" fill="#5183bb"/><rect x="79.9" y="126.3" width="4.8" height="4.8" fill="#5183bb"/><rect x="84.2" y="126.3" width="4.8" height="4.8" fill="#5183bb"/><rect x="88.5" y="126.3" width="4.8" height="4.8" fill="#5a8ec1"/><rect x="92.8" y="126.3" width="4.8" height="4.8" fill="#6da5cd"/><rect x="97.1" y="126.3" width="4.8" height="4.8" fill="#77afd2"/><rect x="101.4" y="126.3" width="4.8" height="4.8" fill="#77afd2"/><rect x="105.7" y="126.3" width="4.8" height="4.8" fill="#77afd2"/><rect x="110.0" y="126.3" width="4.8" height="4.8" fill="#77afd2"/><rect x="114.4" y="126.3" width="4.8" height="4.8" fill="#77afd2"/><rect x="118.7" y="126.3" width="4.8" height="4.8" fill="#77afd2"/><rect x="123.0" y="126.3" width="4.8" height="4.8" fill="#77afd2"/><rect x="127.3" y="126.3" width="4.8" height="4.8" fill="#77afd2"/><rect x="131.6" y="126.3" width="4.8" height="4.8" fill="#77afd2"/><rect x="135.9" y="126.3" width="4.8" height="4.8" fill="#77afd2"/><rect x="140.2" y="126.3" width="4.8" height="4.8" fill="#7eb5d5"/><rect x="144.5" y="126.3" width="4.8" height="4.8" fill="#8cc0db"/><rect x="148.8" y="126.3" width="4.8" height="4.8" fill="#98c9e1"/><rect x="153.1" y="126.3" width="4.8" height="4.8" fill="#a1d1e5"/><rect x="157.4" y="126.3" width="4.8" height="4.8" fill="#a6d5e7"/><rect x="161.7" y="126.3" width="4.8" height="4.8" fill="#a5d5e7"/><rect x="166.0" y="126.3" width="4.8" height="4.8" fill="#a6d5e7"/><rect x="170.4" y="126.3" width="4.8" height="4.8" fill="#a5d5e7"/><rect x="174.7" y="126.3" width="4.8" height="4.8" fill="#a1d1e5"/><rect x="179.0" y="126.3" width="4.8" height="4.8" fill="#98c9e1"/><rect x="183.3" y="126.3" width="4.8" height="4.8" fill="#91c5de"/><rect x="187.6" y="126.3" width="4.8" height="4.8" fill="#8ec2dc"/><rect x="191.9" y="126.3" width="4.8" height="4.8" fill="#8dc1dc"/><rect x="196.2" y="126.3" width="4.8" height="4.8" fill="#8dc1dc"/><rect x="200.5" y="126.3" width="4.8" height="4.8" fill="#8dc1dc"/><rect x="204.8" y="126.3" width="4.8" height="4.8" fill="#8dc1dc"/><rect x="209.1" y="126.3" width="4.8" height="4.8" fill="#7cb4d5"/><rect x="213.4" y="126.3" width="4.8" height="4.8" fill="#5f94c4"/><rect x="217.7" y="126.3" width="4.8" height="4.8" fill="#4c7eb9"/><rect x="222.0" y="126.3" width="4.8" height="4.8" fill="#4473b3"/><rect x="226.3" y="126.3" width="4.8" height="4.8" fill="#426db0"/><rect x="230.7" y="126.3" width="4.8" height="4.8" fill="#426db0"/><rect x="235.0" y="126.3" width="4.8" height="4.8" fill="#426baf"/><rect x="239.3" y="126.3" width="4.8" height="4.8" fill="#4167ad"/><rect x="243.6" y="126.3" width="4.8" height="4.8" fill="#4065ac"/><rect x="247.9" y="126.3" width="4.8" height="4.8" fill="#4065ac"/><rect x="252.2" y="126.3" width="4.8" height="4.8" fill="#4065ac"/><rect x="256.5" y="126.3" width="4.8" height="4.8" fill="#4065ac"/><rect x="260.8" y="126.3" width="4.8" height="4.8" fill="#4065ac"/><rect x="75.6" y="130.6" width="4.8" height="4.8" fill="#5183bb"/><rect x="79.9" y="130.6" width="4.8" height="4.8" fill="#5183bb"/><rect x="84.2" y="130.6" width="4.8" height="4.8" fill="#5183bb"/><rect x="88.5" y="130.6" width="4.8" height="4.8" fill="#5a8ec1"/><rect x="92.8" y="130.6" width="4.8" height="4.8" fill="#6da5cd"/><rect x="97.1" y="130.6" width="4.8" height="4.8" fill="#77afd2"/><rect x="101.4" y="130.6" width="4.8" height="4.8" fill="#77afd2"/><rect x="105.7" y="130.6" width="4.8" height="4.8" fill="#77afd2"/><rect x="110.0" y="130.6" width="4.8" height="4.8" fill="#77afd2"/><rect x="114.4" y="130.6" width="4.8" height="4.8" fill="#77afd2"/><rect x="118.7" y="130.6" width="4.8" height="4.8" fill="#77afd2"/><rect x="123.0" y="130.6" width="4.8" height="4.8" fill="#77afd2"/><rect x="127.3" y="130.6" width="4.8" height="4.8" fill="#77afd2"/><rect x="131.6" y="130.6" width="4.8" height="4.8" fill="#77afd2"/><rect x="135.9" y="130.6" width="4.8" height="4.8" fill="#77afd2"/><rect x="140.2" y="130.6" width="4.8" height="4.8" fill="#7cb4d5"/><rect x="144.5" y="130.6" width="4.8" height="4.8" fill="#87bcd9"/><rect x="148.8" y="130.6" width="4.8" height="4.8" fill="#91c5de"/><rect x="153.1" y="130.6" width="4.8" height="4.8" fill="#9bcce2"/><rect x="157.4" y="130.6" width="4.8" height="4.8" fill="#a1d1e5"/><rect x="161.7" y="130.6" width="4.8" height="4.8" fill="#a4d3e6"/><rect x="166.0" y="130.6" width="4.8" height="4.8" fill="#a4d3e6"/><rect x="170.4" y="130.6" width="4.8" height="4.8" fill="#a1d1e5"/><rect x="174.7" y="130.6" width="4.8" height="4.8" fill="#9bcce2"/><rect x="179.0" y="130.6" width="4.8" height="4.8" fill="#91c5de"/><rect x="183.3" y="130.6" width="4.8" height="4.8" fill="#8dc1dc"/><rect x="187.6" y="130.6" width="4.8" height="4.8" fill="#8dc1dc"/><rect x="191.9" y="130.6" width="4.8" height="4.8" fill="#8dc1dc"/><rect x="196.2" y="130.6" width="4.8" height="4.8" fill="#8dc1dc"/><rect x="200.5" y="130.6" width="4.8" height="4.8" fill="#8dc1dc"/><rect x="204.8" y="130.6" width="4.8" height="4.8" fill="#8dc1dc"/><rect x="209.1" y="130.6" width="4.8" height="4.8" fill="#7cb4d5"/><rect x="213.4" y="130.6" width="4.8" height="4.8" fill="#5f94c4"/><rect x="217.7" y="130.6" width="4.8" height="4.8" fill="#4c7eb9"/><rect x="222.0" y="130.6" width="4.8" height="4.8" fill="#4473b3"/><rect x="226.3" y="130.6" width="4.8" height="4.8" fill="#426baf"/><rect x="230.7" y="130.6" width="4.8" height="4.8" fill="#4167ad"/><rect x="235.0" y="130.6" width="4.8" height="4.8" fill="#4065ac"/><rect x="239.3" y="130.6" width="4.8" height="4.8" fill="#4065ac"/><rect x="243.6" y="130.6" width="4.8" height="4.8" fill="#4065ac"/><rect x="247.9" y="130.6" width="4.8" height="4.8" fill="#4065ac"/><rect x="252.2" y="130.6" width="4.8" height="4.8" fill="#4065ac"/><rect x="256.5" y="130.6" width="4.8" height="4.8" fill="#4065ac"/><rect x="260.8" y="130.6" width="4.8" height="4.8" fill="#4065ac"/><rect x="75.6" y="134.9" width="4.8" height="4.8" fill="#5183bb"/><rect x="79.9" y="134.9" width="4.8" height="4.8" fill="#5183bb"/><rect x="84.2" y="134.9" width="4.8" height="4.8" fill="#5183bb"/><rect x="88.5" y="134.9" width="4.8" height="4.8" fill="#5a8ec1"/><rect x="92.8" y="134.9" width="4.8" height="4.8" fill="#6da5cd"/><rect x="97.1" y="134.9" width="4.8" height="4.8" fill="#77afd2"/><rect x="101.4" y="134.9" width="4.8" height="4.8" fill="#77afd2"/><rect x="105.7" y="134.9" width="4.8" height="4.8" fill="#77afd2"/><rect x="110.0" y="134.9" width="4.8" height="4.8" fill="#77afd2"/><rect x="114.4" y="134.9" width="4.8" height="4.8" fill="#77afd2"/><rect x="118.7" y="134.9" width="4.8" height="4.8" fill="#77afd2"/><rect x="123.0" y="134.9" width="4.8" height="4.8" fill="#77afd2"/><rect x="127.3" y="134.9" width="4.8" height="4.8" fill="#77afd2"/><rect x="131.6" y="134.9" width="4.8" height="4.8" fill="#77afd2"/><rect x="135.9" y="134.9" width="4.8" height="4.8" fill="#77afd2"/><rect x="140.2" y="134.9" width="4.8" height="4.8" fill="#7cb4d5"/><rect x="144.5" y="134.9" width="4.8" height="4.8" fill="#87bcd9"/><rect x="148.8" y="134.9" width="4.8" height="4.8" fill="#8ec2dc"/><rect x="153.1" y="134.9" width="4.8" height="4.8" fill="#91c5de"/><rect x="157.4" y="134.9" width="4.8" height="4.8" fill="#98c9e1"/><rect x="161.7" y="134.9" width="4.8" height="4.8" fill="#a1d1e5"/><rect x="166.0" y="134.9" width="4.8" height="4.8" fill="#a1d1e5"/><rect x="170.4" y="134.9" width="4.8" height="4.8" fill="#98c9e1"/><rect x="174.7" y="134.9" width="4.8" height="4.8" fill="#91c5de"/><rect x="179.0" y="134.9" width="4.8" height="4.8" fill="#8ec2dc"/><rect x="183.3" y="134.9" width="4.8" height="4.8" fill="#8dc1dc"/><rect x="187.6" y="134.9" width="4.8" height="4.8" fill="#8dc1dc"/><rect x="191.9" y="134.9" width="4.8" height="4.8" fill="#8dc1dc"/><rect x="196.2" y="134.9" width="4.8" height="4.8" fill="#8dc1dc"/><rect x="200.5" y="134.9" width="4.8" height="4.8" fill="#8dc1dc"/><rect x="204.8" y="134.9" width="4.8" height="4.8" fill="#8dc1dc"/><rect x="209.1" y="134.9" width="4.8" height="4.8" fill="#7cb4d5"/><rect x="213.4" y="134.9" width="4.8" height="4.8" fill="#5f94c4"/><rect x="217.7" y="134.9" width="4.8" height="4.8" fill="#4f81ba"/><rect x="222.0" y="134.9" width="4.8" height="4.8" fill="#4c7eb9"/><rect x="226.3" y="134.9" width="4.8" height="4.8" fill="#4677b5"/><rect x="230.7" y="134.9" width="4.8" height="4.8" fill="#426baf"/><rect x="235.0" y="134.9" width="4.8" height="4.8" fill="#4065ac"/><rect x="239.3" y="134.9" width="4.8" height="4.8" fill="#4065ac"/><rect x="243.6" y="134.9" width="4.8" height="4.8" fill="#4065ac"/><rect x="247.9" y="134.9" width="4.8" height="4.8" fill="#4065ac"/><rect x="252.2" y="134.9" width="4.8" height="4.8" fill="#4065ac"/><rect x="256.5" y="134.9" width="4.8" height="4.8" fill="#4065ac"/><rect x="260.8" y="134.9" width="4.8" height="4.8" fill="#4065ac"/><rect x="75.6" y="139.2" width="4.8" height="4.8" fill="#5183bb"/><rect x="79.9" y="139.2" width="4.8" height="4.8" fill="#5183bb"/><rect x="84.2" y="139.2" width="4.8" height="4.8" fill="#5183bb"/><rect x="88.5" y="139.2" width="4.8" height="4.8" fill="#588bc0"/><rect x="92.8" y="139.2" width="4.8" height="4.8" fill="#669cc8"/><rect x="97.1" y="139.2" width="4.8" height="4.8" fill="#6da5cd"/><rect x="101.4" y="139.2" width="4.8" height="4.8" fill="#6da5cd"/><rect x="105.7" y="139.2" width="4.8" height="4.8" fill="#6da5cd"/><rect x="110.0" y="139.2" width="4.8" height="4.8" fill="#6da5cd"/><rect x="114.4" y="139.2" width="4.8" height="4.8" fill="#6da5cd"/><rect x="118.7" y="139.2" width="4.8" height="4.8" fill="#6da5cd"/><rect x="123.0" y="139.2" width="4.8" height="4.8" fill="#6fa7ce"/><rect x="127.3" y="139.2" width="4.8" height="4.8" fill="#73abd0"/><rect x="131.6" y="139.2" width="4.8" height="4.8" fill="#75aed1"/><rect x="135.9" y="139.2" width="4.8" height="4.8" fill="#75aed1"/><rect x="140.2" y="139.2" width="4.8" height="4.8" fill="#7bb2d4"/><rect x="144.5" y="139.2" width="4.8" height="4.8" fill="#87bcd9"/><rect x="148.8" y="139.2" width="4.8" height="4.8" fill="#8dc1dc"/><rect x="153.1" y="139.2" width="4.8" height="4.8" fill="#8dc1dc"/><rect x="157.4" y="139.2" width="4.8" height="4.8" fill="#91c5de"/><rect x="161.7" y="139.2" width="4.8" height="4.8" fill="#9bcce2"/><rect x="166.0" y="139.2" width="4.8" height="4.8" fill="#9ccde3"/><rect x="170.4" y="139.2" width="4.8" height="4.8" fill="#96c8e0"/><rect x="174.7" y="139.2" width="4.8" height="4.8" fill="#93c6de"/><rect x="179.0" y="139.2" width="4.8" height="4.8" fill="#93c6de"/><rect x="183.3" y="139.2" width="4.8" height="4.8" fill="#91c5de"/><rect x="187.6" y="139.2" width="4.8" height="4.8" fill="#8ec2dc"/><rect x="191.9" y="139.2" width="4.8" height="4.8" fill="#8dc1dc"/><rect x="196.2" y="139.2" width="4.8" height="4.8" fill="#8dc1dc"/><rect x="200.5" y="139.2" width="4.8" height="4.8" fill="#8dc1dc"/><rect x="204.8" y="139.2" width="4.8" height="4.8" fill="#8dc1dc"/><rect x="209.1" y="139.2" width="4.8" height="4.8" fill="#7eb5d6"/><rect x="213.4" y="139.2" width="4.8" height="4.8" fill="#659bc7"/><rect x="217.7" y="139.2" width="4.8" height="4.8" fill="#568abf"/><rect x="222.0" y="139.2" width="4.8" height="4.8" fill="#5385bc"/><rect x="226.3" y="139.2" width="4.8" height="4.8" fill="#4c7eb9"/><rect x="230.7" y="139.2" width="4.8" height="4.8" fill="#4473b3"/><rect x="235.0" y="139.2" width="4.8" height="4.8" fill="#426db0"/><rect x="239.3" y="139.2" width="4.8" height="4.8" fill="#426db0"/><rect x="243.6" y="139.2" width="4.8" height="4.8" fill="#426db0"/><rect x="247.9" y="139.2" width="4.8" height="4.8" fill="#426db0"/><rect x="252.2" y="139.2" width="4.8" height="4.8" fill="#426db0"/><rect x="256.5" y="139.2" width="4.8" height="4.8" fill="#426db0"/><rect x="260.8" y="139.2" width="4.8" height="4.8" fill="#426db0"/><rect x="75.6" y="143.5" width="4.8" height="4.8" fill="#5183bb"/><rect x="79.9" y="143.5" width="4.8" height="4.8" fill="#5183bb"/><rect x="84.2" y="143.5" width="4.8" height="4.8" fill="#5183bb"/><rect x="88.5" y="143.5" width="4.8" height="4.8" fill="#5386bd"/><rect x="92.8" y="143.5" width="4.8" height="4.8" fill="#588bc0"/><rect x="97.1" y="143.5" width="4.8" height="4.8" fill="#5a8ec1"/><rect x="101.4" y="143.5" width="4.8" height="4.8" fill="#5a8ec1"/><rect x="105.7" y="143.5" width="4.8" height="4.8" fill="#5a8ec1"/><rect x="110.0" y="143.5" width="4.8" height="4.8" fill="#5a8ec1"/><rect x="114.4" y="143.5" width="4.8" height="4.8" fill="#5a8ec1"/><rect x="118.7" y="143.5" width="4.8" height="4.8" fill="#5a8ec1"/><rect x="123.0" y="143.5" width="4.8" height="4.8" fill="#6095c5"/><rect x="127.3" y="143.5" width="4.8" height="4.8" fill="#6ba3cc"/><rect x="131.6" y="143.5" width="4.8" height="4.8" fill="#71aacf"/><rect x="135.9" y="143.5" width="4.8" height="4.8" fill="#71aacf"/><rect x="140.2" y="143.5" width="4.8" height="4.8" fill="#78b0d3"/><rect x="144.5" y="143.5" width="4.8" height="4.8" fill="#86bbd9"/><rect x="148.8" y="143.5" width="4.8" height="4.8" fill="#8dc1dc"/><rect x="153.1" y="143.5" width="4.8" height="4.8" fill="#8dc1dc"/><rect x="157.4" y="143.5" width="4.8" height="4.8" fill="#8ec2dc"/><rect x="161.7" y="143.5" width="4.8" height="4.8" fill="#91c5de"/><rect x="166.0" y="143.5" width="4.8" height="4.8" fill="#96c8e0"/><rect x="170.4" y="143.5" width="4.8" height="4.8" fill="#9ccde3"/><rect x="174.7" y="143.5" width="4.8" height="4.8" fill="#9fd0e4"/><rect x="179.0" y="143.5" width="4.8" height="4.8" fill="#9fd0e4"/><rect x="183.3" y="143.5" width="4.8" height="4.8" fill="#9bcce2"/><rect x="187.6" y="143.5" width="4.8" height="4.8" fill="#91c5de"/><rect x="191.9" y="143.5" width="4.8" height="4.8" fill="#8dc1dc"/><rect x="196.2" y="143.5" width="4.8" height="4.8" fill="#8dc1dc"/><rect x="200.5" y="143.5" width="4.8" height="4.8" fill="#8dc1dc"/><rect x="204.8" y="143.5" width="4.8" height="4.8" fill="#8dc1dc"/><rect x="209.1" y="143.5" width="4.8" height="4.8" fill="#83b9d8"/><rect x="213.4" y="143.5" width="4.8" height="4.8" fill="#70a8cf"/><rect x="217.7" y="143.5" width="4.8" height="4.8" fill="#6297c6"/><rect x="222.0" y="143.5" width="4.8" height="4.8" fill="#568abf"/><rect x="226.3" y="143.5" width="4.8" height="4.8" fill="#4f81ba"/><rect x="230.7" y="143.5" width="4.8" height="4.8" fill="#4c7eb9"/><rect x="235.0" y="143.5" width="4.8" height="4.8" fill="#4b7cb8"/><rect x="239.3" y="143.5" width="4.8" height="4.8" fill="#4b7cb8"/><rect x="243.6" y="143.5" width="4.8" height="4.8" fill="#4b7cb8"/><rect x="247.9" y="143.5" width="4.8" height="4.8" fill="#4b7cb8"/><rect x="252.2" y="143.5" width="4.8" height="4.8" fill="#4b7cb8"/><rect x="256.5" y="143.5" width="4.8" height="4.8" fill="#4b7cb8"/><rect x="260.8" y="143.5" width="4.8" height="4.8" fill="#4b7cb8"/><rect x="75.6" y="147.8" width="4.8" height="4.8" fill="#5183bb"/><rect x="79.9" y="147.8" width="4.8" height="4.8" fill="#5183bb"/><rect x="84.2" y="147.8" width="4.8" height="4.8" fill="#5183bb"/><rect x="88.5" y="147.8" width="4.8" height="4.8" fill="#5183bb"/><rect x="92.8" y="147.8" width="4.8" height="4.8" fill="#5183bb"/><rect x="97.1" y="147.8" width="4.8" height="4.8" fill="#5183bb"/><rect x="101.4" y="147.8" width="4.8" height="4.8" fill="#5183bb"/><rect x="105.7" y="147.8" width="4.8" height="4.8" fill="#5183bb"/><rect x="110.0" y="147.8" width="4.8" height="4.8" fill="#5183bb"/><rect x="114.4" y="147.8" width="4.8" height="4.8" fill="#5183bb"/><rect x="118.7" y="147.8" width="4.8" height="4.8" fill="#5183bb"/><rect x="123.0" y="147.8" width="4.8" height="4.8" fill="#568abf"/><rect x="127.3" y="147.8" width="4.8" height="4.8" fill="#6297c6"/><rect x="131.6" y="147.8" width="4.8" height="4.8" fill="#689ec9"/><rect x="135.9" y="147.8" width="4.8" height="4.8" fill="#689ec9"/><rect x="140.2" y="147.8" width="4.8" height="4.8" fill="#6ba2cb"/><rect x="144.5" y="147.8" width="4.8" height="4.8" fill="#72aad0"/><rect x="148.8" y="147.8" width="4.8" height="4.8" fill="#75aed2"/><rect x="153.1" y="147.8" width="4.8" height="4.8" fill="#75aed2"/><rect x="157.4" y="147.8" width="4.8" height="4.8" fill="#79b1d3"/><rect x="161.7" y="147.8" width="4.8" height="4.8" fill="#81b8d7"/><rect x="166.0" y="147.8" width="4.8" height="4.8" fill="#8cc0db"/><rect x="170.4" y="147.8" width="4.8" height="4.8" fill="#99cae1"/><rect x="174.7" y="147.8" width="4.8" height="4.8" fill="#9fd0e4"/><rect x="179.0" y="147.8" width="4.8" height="4.8" fill="#9fd0e4"/><rect x="183.3" y="147.8" width="4.8" height="4.8" fill="#9bcce2"/><rect x="187.6" y="147.8" width="4.8" height="4.8" fill="#91c5de"/><rect x="191.9" y="147.8" width="4.8" height="4.8" fill="#8bbfdb"/><rect x="196.2" y="147.8" width="4.8" height="4.8" fill="#87bcd9"/><rect x="200.5" y="147.8" width="4.8" height="4.8" fill="#85bbd8"/><rect x="204.8" y="147.8" width="4.8" height="4.8" fill="#85bbd8"/><rect x="209.1" y="147.8" width="4.8" height="4.8" fill="#7db4d5"/><rect x="213.4" y="147.8" width="4.8" height="4.8" fill="#6ea6ce"/><rect x="217.7" y="147.8" width="4.8" height="4.8" fill="#6297c6"/><rect x="222.0" y="147.8" width="4.8" height="4.8" fill="#568abf"/><rect x="226.3" y="147.8" width="4.8" height="4.8" fill="#5183bb"/><rect x="230.7" y="147.8" width="4.8" height="4.8" fill="#5183bb"/><rect x="235.0" y="147.8" width="4.8" height="4.8" fill="#5183bb"/><rect x="239.3" y="147.8" width="4.8" height="4.8" fill="#5183bb"/><rect x="243.6" y="147.8" width="4.8" height="4.8" fill="#5183bb"/><rect x="247.9" y="147.8" width="4.8" height="4.8" fill="#5183bb"/><rect x="252.2" y="147.8" width="4.8" height="4.8" fill="#5183bb"/><rect x="256.5" y="147.8" width="4.8" height="4.8" fill="#5183bb"/><rect x="260.8" y="147.8" width="4.8" height="4.8" fill="#5183bb"/><rect x="75.6" y="152.1" width="4.8" height="4.8" fill="#5183bb"/><rect x="79.9" y="152.1" width="4.8" height="4.8" fill="#5183bb"/><rect x="84.2" y="152.1" width="4.8" height="4.8" fill="#5183bb"/><rect x="88.5" y="152.1" width="4.8" height="4.8" fill="#5183bb"/><rect x="92.8" y="152.1" width="4.8" height="4.8" fill="#5183bb"/><rect x="97.1" y="152.1" width="4.8" height="4.8" fill="#5183bb"/><rect x="101.4" y="152.1" width="4.8" height="4.8" fill="#5183bb"/><rect x="105.7" y="152.1" width="4.8" height="4.8" fill="#5183bb"/><rect x="110.0" y="152.1" width="4.8" height="4.8" fill="#5183bb"/><rect x="114.4" y="152.1" width="4.8" height="4.8" fill="#5183bb"/><rect x="118.7" y="152.1" width="4.8" height="4.8" fill="#5183bb"/><rect x="123.0" y="152.1" width="4.8" height="4.8" fill="#5385bc"/><rect x="127.3" y="152.1" width="4.8" height="4.8" fill="#568abf"/><rect x="131.6" y="152.1" width="4.8" height="4.8" fill="#588cc0"/><rect x="135.9" y="152.1" width="4.8" height="4.8" fill="#588cc0"/><rect x="140.2" y="152.1" width="4.8" height="4.8" fill="#5689be"/><rect x="144.5" y="152.1" width="4.8" height="4.8" fill="#5082bb"/><rect x="148.8" y="152.1" width="4.8" height="4.8" fill="#4d7fb9"/><rect x="153.1" y="152.1" width="4.8" height="4.8" fill="#4d7fb9"/><rect x="157.4" y="152.1" width="4.8" height="4.8" fill="#578bbf"/><rect x="161.7" y="152.1" width="4.8" height="4.8" fill="#6ca3cc"/><rect x="166.0" y="152.1" width="4.8" height="4.8" fill="#7db4d5"/><rect x="170.4" y="152.1" width="4.8" height="4.8" fill="#8cc0db"/><rect x="174.7" y="152.1" width="4.8" height="4.8" fill="#93c6de"/><rect x="179.0" y="152.1" width="4.8" height="4.8" fill="#93c6de"/><rect x="183.3" y="152.1" width="4.8" height="4.8" fill="#91c5de"/><rect x="187.6" y="152.1" width="4.8" height="4.8" fill="#8ec2dc"/><rect x="191.9" y="152.1" width="4.8" height="4.8" fill="#87bcd9"/><rect x="196.2" y="152.1" width="4.8" height="4.8" fill="#7cb3d4"/><rect x="200.5" y="152.1" width="4.8" height="4.8" fill="#76afd2"/><rect x="204.8" y="152.1" width="4.8" height="4.8" fill="#76afd2"/><rect x="209.1" y="152.1" width="4.8" height="4.8" fill="#6ea6ce"/><rect x="213.4" y="152.1" width="4.8" height="4.8" fill="#6095c4"/><rect x="217.7" y="152.1" width="4.8" height="4.8" fill="#568abf"/><rect x="222.0" y="152.1" width="4.8" height="4.8" fill="#5385bc"/><rect x="226.3" y="152.1" width="4.8" height="4.8" fill="#5183bb"/><rect x="230.7" y="152.1" width="4.8" height="4.8" fill="#5183bb"/><rect x="235.0" y="152.1" width="4.8" height="4.8" fill="#5183bb"/><rect x="239.3" y="152.1" width="4.8" height="4.8" fill="#5183bb"/><rect x="243.6" y="152.1" width="4.8" height="4.8" fill="#5183bb"/><rect x="247.9" y="152.1" width="4.8" height="4.8" fill="#5183bb"/><rect x="252.2" y="152.1" width="4.8" height="4.8" fill="#5183bb"/><rect x="256.5" y="152.1" width="4.8" height="4.8" fill="#5183bb"/><rect x="260.8" y="152.1" width="4.8" height="4.8" fill="#5183bb"/><rect x="75.6" y="156.4" width="4.8" height="4.8" fill="#5183bb"/><rect x="79.9" y="156.4" width="4.8" height="4.8" fill="#5183bb"/><rect x="84.2" y="156.4" width="4.8" height="4.8" fill="#5183bb"/><rect x="88.5" y="156.4" width="4.8" height="4.8" fill="#5183bb"/><rect x="92.8" y="156.4" width="4.8" height="4.8" fill="#5183bb"/><rect x="97.1" y="156.4" width="4.8" height="4.8" fill="#5183bb"/><rect x="101.4" y="156.4" width="4.8" height="4.8" fill="#5183bb"/><rect x="105.7" y="156.4" width="4.8" height="4.8" fill="#5183bb"/><rect x="110.0" y="156.4" width="4.8" height="4.8" fill="#5183bb"/><rect x="114.4" y="156.4" width="4.8" height="4.8" fill="#5183bb"/><rect x="118.7" y="156.4" width="4.8" height="4.8" fill="#5183bb"/><rect x="123.0" y="156.4" width="4.8" height="4.8" fill="#5183bb"/><rect x="127.3" y="156.4" width="4.8" height="4.8" fill="#5183bb"/><rect x="131.6" y="156.4" width="4.8" height="4.8" fill="#5183bb"/><rect x="135.9" y="156.4" width="4.8" height="4.8" fill="#5183bb"/><rect x="140.2" y="156.4" width="4.8" height="4.8" fill="#4b7cb8"/><rect x="144.5" y="156.4" width="4.8" height="4.8" fill="#426db0"/><rect x="148.8" y="156.4" width="4.8" height="4.8" fill="#4065ac"/><rect x="153.1" y="156.4" width="4.8" height="4.8" fill="#4065ac"/><rect x="157.4" y="156.4" width="4.8" height="4.8" fill="#4777b5"/><rect x="161.7" y="156.4" width="4.8" height="4.8" fill="#6297c6"/><rect x="166.0" y="156.4" width="4.8" height="4.8" fill="#74add1"/><rect x="170.4" y="156.4" width="4.8" height="4.8" fill="#80b6d6"/><rect x="174.7" y="156.4" width="4.8" height="4.8" fill="#85bbd8"/><rect x="179.0" y="156.4" width="4.8" height="4.8" fill="#85bbd8"/><rect x="183.3" y="156.4" width="4.8" height="4.8" fill="#87bcd9"/><rect x="187.6" y="156.4" width="4.8" height="4.8" fill="#8bbfdb"/><rect x="191.9" y="156.4" width="4.8" height="4.8" fill="#87bcd9"/><rect x="196.2" y="156.4" width="4.8" height="4.8" fill="#7cb3d4"/><rect x="200.5" y="156.4" width="4.8" height="4.8" fill="#74add1"/><rect x="204.8" y="156.4" width="4.8" height="4.8" fill="#71a9cf"/><rect x="209.1" y="156.4" width="4.8" height="4.8" fill="#689ec9"/><rect x="213.4" y="156.4" width="4.8" height="4.8" fill="#588cc0"/><rect x="217.7" y="156.4" width="4.8" height="4.8" fill="#5183bb"/><rect x="222.0" y="156.4" width="4.8" height="4.8" fill="#5183bb"/><rect x="226.3" y="156.4" width="4.8" height="4.8" fill="#5183bb"/><rect x="230.7" y="156.4" width="4.8" height="4.8" fill="#5183bb"/><rect x="235.0" y="156.4" width="4.8" height="4.8" fill="#5385bc"/><rect x="239.3" y="156.4" width="4.8" height="4.8" fill="#568abf"/><rect x="243.6" y="156.4" width="4.8" height="4.8" fill="#588cc0"/><rect x="247.9" y="156.4" width="4.8" height="4.8" fill="#588cc0"/><rect x="252.2" y="156.4" width="4.8" height="4.8" fill="#588cc0"/><rect x="256.5" y="156.4" width="4.8" height="4.8" fill="#588cc0"/><rect x="260.8" y="156.4" width="4.8" height="4.8" fill="#588cc0"/><rect x="75.6" y="160.7" width="4.8" height="4.8" fill="#5183bb"/><rect x="79.9" y="160.7" width="4.8" height="4.8" fill="#5183bb"/><rect x="84.2" y="160.7" width="4.8" height="4.8" fill="#5183bb"/><rect x="88.5" y="160.7" width="4.8" height="4.8" fill="#5183bb"/><rect x="92.8" y="160.7" width="4.8" height="4.8" fill="#5183bb"/><rect x="97.1" y="160.7" width="4.8" height="4.8" fill="#5183bb"/><rect x="101.4" y="160.7" width="4.8" height="4.8" fill="#5183bb"/><rect x="105.7" y="160.7" width="4.8" height="4.8" fill="#5183bb"/><rect x="110.0" y="160.7" width="4.8" height="4.8" fill="#5183bb"/><rect x="114.4" y="160.7" width="4.8" height="4.8" fill="#5183bb"/><rect x="118.7" y="160.7" width="4.8" height="4.8" fill="#5183bb"/><rect x="123.0" y="160.7" width="4.8" height="4.8" fill="#5183bb"/><rect x="127.3" y="160.7" width="4.8" height="4.8" fill="#5183bb"/><rect x="131.6" y="160.7" width="4.8" height="4.8" fill="#5183bb"/><rect x="135.9" y="160.7" width="4.8" height="4.8" fill="#5183bb"/><rect x="140.2" y="160.7" width="4.8" height="4.8" fill="#4b7cb8"/><rect x="144.5" y="160.7" width="4.8" height="4.8" fill="#426db0"/><rect x="148.8" y="160.7" width="4.8" height="4.8" fill="#4065ac"/><rect x="153.1" y="160.7" width="4.8" height="4.8" fill="#4065ac"/><rect x="157.4" y="160.7" width="4.8" height="4.8" fill="#4777b5"/><rect x="161.7" y="160.7" width="4.8" height="4.8" fill="#6297c6"/><rect x="166.0" y="160.7" width="4.8" height="4.8" fill="#71a9cf"/><rect x="170.4" y="160.7" width="4.8" height="4.8" fill="#74add1"/><rect x="174.7" y="160.7" width="4.8" height="4.8" fill="#76afd2"/><rect x="179.0" y="160.7" width="4.8" height="4.8" fill="#76afd2"/><rect x="183.3" y="160.7" width="4.8" height="4.8" fill="#7cb3d4"/><rect x="187.6" y="160.7" width="4.8" height="4.8" fill="#87bcd9"/><rect x="191.9" y="160.7" width="4.8" height="4.8" fill="#8bbfdb"/><rect x="196.2" y="160.7" width="4.8" height="4.8" fill="#87bcd9"/><rect x="200.5" y="160.7" width="4.8" height="4.8" fill="#80b6d6"/><rect x="204.8" y="160.7" width="4.8" height="4.8" fill="#74add1"/><rect x="209.1" y="160.7" width="4.8" height="4.8" fill="#689ec9"/><rect x="213.4" y="160.7" width="4.8" height="4.8" fill="#588cc0"/><rect x="217.7" y="160.7" width="4.8" height="4.8" fill="#5183bb"/><rect x="222.0" y="160.7" width="4.8" height="4.8" fill="#5183bb"/><rect x="226.3" y="160.7" width="4.8" height="4.8" fill="#5183bb"/><rect x="230.7" y="160.7" width="4.8" height="4.8" fill="#5183bb"/><rect x="235.0" y="160.7" width="4.8" height="4.8" fill="#568abf"/><rect x="239.3" y="160.7" width="4.8" height="4.8" fill="#6297c6"/><rect x="243.6" y="160.7" width="4.8" height="4.8" fill="#689ec9"/><rect x="247.9" y="160.7" width="4.8" height="4.8" fill="#689ec9"/><rect x="252.2" y="160.7" width="4.8" height="4.8" fill="#689ec9"/><rect x="256.5" y="160.7" width="4.8" height="4.8" fill="#689ec9"/><rect x="260.8" y="160.7" width="4.8" height="4.8" fill="#689ec9"/><rect x="75.6" y="165.0" width="4.8" height="4.8" fill="#5183bb"/><rect x="79.9" y="165.0" width="4.8" height="4.8" fill="#5183bb"/><rect x="84.2" y="165.0" width="4.8" height="4.8" fill="#5183bb"/><rect x="88.5" y="165.0" width="4.8" height="4.8" fill="#5385bc"/><rect x="92.8" y="165.0" width="4.8" height="4.8" fill="#568abf"/><rect x="97.1" y="165.0" width="4.8" height="4.8" fill="#588cc0"/><rect x="101.4" y="165.0" width="4.8" height="4.8" fill="#588cc0"/><rect x="105.7" y="165.0" width="4.8" height="4.8" fill="#568abf"/><rect x="110.0" y="165.0" width="4.8" height="4.8" fill="#5385bc"/><rect x="114.4" y="165.0" width="4.8" height="4.8" fill="#5183bb"/><rect x="118.7" y="165.0" width="4.8" height="4.8" fill="#5183bb"/><rect x="123.0" y="165.0" width="4.8" height="4.8" fill="#5385bc"/><rect x="127.3" y="165.0" width="4.8" height="4.8" fill="#568abf"/><rect x="131.6" y="165.0" width="4.8" height="4.8" fill="#588cc0"/><rect x="135.9" y="165.0" width="4.8" height="4.8" fill="#588cc0"/><rect x="140.2" y="165.0" width="4.8" height="4.8" fill="#5487bd"/><rect x="144.5" y="165.0" width="4.8" height="4.8" fill="#4b7cb8"/><rect x="148.8" y="165.0" width="4.8" height="4.8" fill="#4777b5"/><rect x="153.1" y="165.0" width="4.8" height="4.8" fill="#4777b5"/><rect x="157.4" y="165.0" width="4.8" height="4.8" fill="#5183bb"/><rect x="161.7" y="165.0" width="4.8" height="4.8" fill="#659bc8"/><rect x="166.0" y="165.0" width="4.8" height="4.8" fill="#6da5cd"/><rect x="170.4" y="165.0" width="4.8" height="4.8" fill="#6aa1cb"/><rect x="174.7" y="165.0" width="4.8" height="4.8" fill="#689ec9"/><rect x="179.0" y="165.0" width="4.8" height="4.8" fill="#689ec9"/><rect x="183.3" y="165.0" width="4.8" height="4.8" fill="#6da4cc"/><rect x="187.6" y="165.0" width="4.8" height="4.8" fill="#77afd2"/><rect x="191.9" y="165.0" width="4.8" height="4.8" fill="#80b7d6"/><rect x="196.2" y="165.0" width="4.8" height="4.8" fill="#89beda"/><rect x="200.5" y="165.0" width="4.8" height="4.8" fill="#87bcd9"/><rect x="204.8" y="165.0" width="4.8" height="4.8" fill="#7cb3d4"/><rect x="209.1" y="165.0" width="4.8" height="4.8" fill="#6da4cc"/><rect x="213.4" y="165.0" width="4.8" height="4.8" fill="#5a8ec1"/><rect x="217.7" y="165.0" width="4.8" height="4.8" fill="#4f81ba"/><rect x="222.0" y="165.0" width="4.8" height="4.8" fill="#4c7eb9"/><rect x="226.3" y="165.0" width="4.8" height="4.8" fill="#4b7cb8"/><rect x="230.7" y="165.0" width="4.8" height="4.8" fill="#4b7cb8"/><rect x="235.0" y="165.0" width="4.8" height="4.8" fill="#5487bd"/><rect x="239.3" y="165.0" width="4.8" height="4.8" fill="#669dc8"/><rect x="243.6" y="165.0" width="4.8" height="4.8" fill="#6fa7ce"/><rect x="247.9" y="165.0" width="4.8" height="4.8" fill="#6fa7ce"/><rect x="252.2" y="165.0" width="4.8" height="4.8" fill="#6fa7ce"/><rect x="256.5" y="165.0" width="4.8" height="4.8" fill="#6fa7ce"/><rect x="260.8" y="165.0" width="4.8" height="4.8" fill="#6fa7ce"/><rect x="75.6" y="169.3" width="4.8" height="4.8" fill="#5183bb"/><rect x="79.9" y="169.3" width="4.8" height="4.8" fill="#5183bb"/><rect x="84.2" y="169.3" width="4.8" height="4.8" fill="#5183bb"/><rect x="88.5" y="169.3" width="4.8" height="4.8" fill="#568abf"/><rect x="92.8" y="169.3" width="4.8" height="4.8" fill="#6297c6"/><rect x="97.1" y="169.3" width="4.8" height="4.8" fill="#689ec9"/><rect x="101.4" y="169.3" width="4.8" height="4.8" fill="#689ec9"/><rect x="105.7" y="169.3" width="4.8" height="4.8" fill="#6297c6"/><rect x="110.0" y="169.3" width="4.8" height="4.8" fill="#568abf"/><rect x="114.4" y="169.3" width="4.8" height="4.8" fill="#5183bb"/><rect x="118.7" y="169.3" width="4.8" height="4.8" fill="#5183bb"/><rect x="123.0" y="169.3" width="4.8" height="4.8" fill="#568abf"/><rect x="127.3" y="169.3" width="4.8" height="4.8" fill="#6297c6"/><rect x="131.6" y="169.3" width="4.8" height="4.8" fill="#689ec9"/><rect x="135.9" y="169.3" width="4.8" height="4.8" fill="#689ec9"/><rect x="140.2" y="169.3" width="4.8" height="4.8" fill="#669dc8"/><rect x="144.5" y="169.3" width="4.8" height="4.8" fill="#6399c7"/><rect x="148.8" y="169.3" width="4.8" height="4.8" fill="#6297c6"/><rect x="153.1" y="169.3" width="4.8" height="4.8" fill="#6297c6"/><rect x="157.4" y="169.3" width="4.8" height="4.8" fill="#659bc8"/><rect x="161.7" y="169.3" width="4.8" height="4.8" fill="#6ca3cc"/><rect x="166.0" y="169.3" width="4.8" height="4.8" fill="#6aa1cb"/><rect x="170.4" y="169.3" width="4.8" height="4.8" fill="#5e93c3"/><rect x="174.7" y="169.3" width="4.8" height="4.8" fill="#588cc0"/><rect x="179.0" y="169.3" width="4.8" height="4.8" fill="#588cc0"/><rect x="183.3" y="169.3" width="4.8" height="4.8" fill="#5a8ec1"/><rect x="187.6" y="169.3" width="4.8" height="4.8" fill="#5d92c3"/><rect x="191.9" y="169.3" width="4.8" height="4.8" fill="#69a0ca"/><rect x="196.2" y="169.3" width="4.8" height="4.8" fill="#80b7d6"/><rect x="200.5" y="169.3" width="4.8" height="4.8" fill="#8bbfdb"/><rect x="204.8" y="169.3" width="4.8" height="4.8" fill="#87bcd9"/><rect x="209.1" y="169.3" width="4.8" height="4.8" fill="#77afd2"/><rect x="213.4" y="169.3" width="4.8" height="4.8" fill="#5d92c3"/><rect x="217.7" y="169.3" width="4.8" height="4.8" fill="#4c7eb9"/><rect x="222.0" y="169.3" width="4.8" height="4.8" fill="#4473b3"/><rect x="226.3" y="169.3" width="4.8" height="4.8" fill="#426db0"/><rect x="230.7" y="169.3" width="4.8" height="4.8" fill="#426db0"/><rect x="235.0" y="169.3" width="4.8" height="4.8" fill="#4b7cb8"/><rect x="239.3" y="169.3" width="4.8" height="4.8" fill="#6399c7"/><rect x="243.6" y="169.3" width="4.8" height="4.8" fill="#6fa7ce"/><rect x="247.9" y="169.3" width="4.8" height="4.8" fill="#6fa7ce"/><rect x="252.2" y="169.3" width="4.8" height="4.8" fill="#6fa7ce"/><rect x="256.5" y="169.3" width="4.8" height="4.8" fill="#6fa7ce"/><rect x="260.8" y="169.3" width="4.8" height="4.8" fill="#6fa7ce"/><rect x="75.6" y="173.6" width="4.8" height="4.8" fill="#5183bb"/><rect x="79.9" y="173.6" width="4.8" height="4.8" fill="#5183bb"/><rect x="84.2" y="173.6" width="4.8" height="4.8" fill="#5183bb"/><rect x="88.5" y="173.6" width="4.8" height="4.8" fill="#588cc0"/><rect x="92.8" y="173.6" width="4.8" height="4.8" fill="#689ec9"/><rect x="97.1" y="173.6" width="4.8" height="4.8" fill="#6fa7ce"/><rect x="101.4" y="173.6" width="4.8" height="4.8" fill="#6fa7ce"/><rect x="105.7" y="173.6" width="4.8" height="4.8" fill="#689ec9"/><rect x="110.0" y="173.6" width="4.8" height="4.8" fill="#588cc0"/><rect x="114.4" y="173.6" width="4.8" height="4.8" fill="#5385bc"/><rect x="118.7" y="173.6" width="4.8" height="4.8" fill="#568abf"/><rect x="123.0" y="173.6" width="4.8" height="4.8" fill="#5e93c3"/><rect x="127.3" y="173.6" width="4.8" height="4.8" fill="#6aa1cb"/><rect x="131.6" y="173.6" width="4.8" height="4.8" fill="#6fa7ce"/><rect x="135.9" y="173.6" width="4.8" height="4.8" fill="#6fa7ce"/><rect x="140.2" y="173.6" width="4.8" height="4.8" fill="#6fa7ce"/><rect x="144.5" y="173.6" width="4.8" height="4.8" fill="#6fa7ce"/><rect x="148.8" y="173.6" width="4.8" height="4.8" fill="#6fa7ce"/><rect x="153.1" y="173.6" width="4.8" height="4.8" fill="#6fa7ce"/><rect x="157.4" y="173.6" width="4.8" height="4.8" fill="#6fa7ce"/><rect x="161.7" y="173.6" width="4.8" height="4.8" fill="#6fa7ce"/><rect x="166.0" y="173.6" width="4.8" height="4.8" fill="#689ec9"/><rect x="170.4" y="173.6" width="4.8" height="4.8" fill="#588cc0"/><rect x="174.7" y="173.6" width="4.8" height="4.8" fill="#5183bb"/><rect x="179.0" y="173.6" width="4.8" height="4.8" fill="#5183bb"/><rect x="183.3" y="173.6" width="4.8" height="4.8" fill="#5183bb"/><rect x="187.6" y="173.6" width="4.8" height="4.8" fill="#5183bb"/><rect x="191.9" y="173.6" width="4.8" height="4.8" fill="#5b90c2"/><rect x="196.2" y="173.6" width="4.8" height="4.8" fill="#70a9cf"/><rect x="200.5" y="173.6" width="4.8" height="4.8" fill="#7bb2d4"/><rect x="204.8" y="173.6" width="4.8" height="4.8" fill="#77afd2"/><rect x="209.1" y="173.6" width="4.8" height="4.8" fill="#6ba2cb"/><rect x="213.4" y="173.6" width="4.8" height="4.8" fill="#5589be"/><rect x="217.7" y="173.6" width="4.8" height="4.8" fill="#4677b5"/><rect x="222.0" y="173.6" width="4.8" height="4.8" fill="#426baf"/><rect x="226.3" y="173.6" width="4.8" height="4.8" fill="#416aae"/><rect x="230.7" y="173.6" width="4.8" height="4.8" fill="#4473b3"/><rect x="235.0" y="173.6" width="4.8" height="4.8" fill="#5183bb"/><rect x="239.3" y="173.6" width="4.8" height="4.8" fill="#659bc8"/><rect x="243.6" y="173.6" width="4.8" height="4.8" fill="#6fa7ce"/><rect x="247.9" y="173.6" width="4.8" height="4.8" fill="#6fa7ce"/><rect x="252.2" y="173.6" width="4.8" height="4.8" fill="#6fa7ce"/><rect x="256.5" y="173.6" width="4.8" height="4.8" fill="#6fa7ce"/><rect x="260.8" y="173.6" width="4.8" height="4.8" fill="#6fa7ce"/><rect x="75.6" y="178.0" width="4.8" height="4.8" fill="#5183bb"/><rect x="79.9" y="178.0" width="4.8" height="4.8" fill="#5183bb"/><rect x="84.2" y="178.0" width="4.8" height="4.8" fill="#5183bb"/><rect x="88.5" y="178.0" width="4.8" height="4.8" fill="#588cc0"/><rect x="92.8" y="178.0" width="4.8" height="4.8" fill="#689ec9"/><rect x="97.1" y="178.0" width="4.8" height="4.8" fill="#6fa7ce"/><rect x="101.4" y="178.0" width="4.8" height="4.8" fill="#6fa7ce"/><rect x="105.7" y="178.0" width="4.8" height="4.8" fill="#689ec9"/><rect x="110.0" y="178.0" width="4.8" height="4.8" fill="#588cc0"/><rect x="114.4" y="178.0" width="4.8" height="4.8" fill="#568abf"/><rect x="118.7" y="178.0" width="4.8" height="4.8" fill="#6297c6"/><rect x="123.0" y="178.0" width="4.8" height="4.8" fill="#6aa1cb"/><rect x="127.3" y="178.0" width="4.8" height="4.8" fill="#6da5cd"/><rect x="131.6" y="178.0" width="4.8" height="4.8" fill="#6fa7ce"/><rect x="135.9" y="178.0" width="4.8" height="4.8" fill="#6fa7ce"/><rect x="140.2" y="178.0" width="4.8" height="4.8" fill="#6fa7ce"/><rect x="144.5" y="178.0" width="4.8" height="4.8" fill="#6fa7ce"/><rect x="148.8" y="178.0" width="4.8" height="4.8" fill="#6fa7ce"/><rect x="153.1" y="178.0" width="4.8" height="4.8" fill="#6fa7ce"/><rect x="157.4" y="178.0" width="4.8" height="4.8" fill="#6fa7ce"/><rect x="161.7" y="178.0" width="4.8" height="4.8" fill="#6fa7ce"/><rect x="166.0" y="178.0" width="4.8" height="4.8" fill="#689ec9"/><rect x="170.4" y="178.0" width="4.8" height="4.8" fill="#588cc0"/><rect x="174.7" y="178.0" width="4.8" height="4.8" fill="#5183bb"/><rect x="179.0" y="178.0" width="4.8" height="4.8" fill="#5183bb"/><rect x="183.3" y="178.0" width="4.8" height="4.8" fill="#5183bb"/><rect x="187.6" y="178.0" width="4.8" height="4.8" fill="#5183bb"/><rect x="191.9" y="178.0" width="4.8" height="4.8" fill="#5487bd"/><rect x="196.2" y="178.0" width="4.8" height="4.8" fill="#5b90c2"/><rect x="200.5" y="178.0" width="4.8" height="4.8" fill="#5a8fc1"/><rect x="204.8" y="178.0" width="4.8" height="4.8" fill="#5284bc"/><rect x="209.1" y="178.0" width="4.8" height="4.8" fill="#4a7bb7"/><rect x="213.4" y="178.0" width="4.8" height="4.8" fill="#4472b2"/><rect x="217.7" y="178.0" width="4.8" height="4.8" fill="#426baf"/><rect x="222.0" y="178.0" width="4.8" height="4.8" fill="#4167ad"/><rect x="226.3" y="178.0" width="4.8" height="4.8" fill="#4473b3"/><rect x="230.7" y="178.0" width="4.8" height="4.8" fill="#588bc0"/><rect x="235.0" y="178.0" width="4.8" height="4.8" fill="#659bc8"/><rect x="239.3" y="178.0" width="4.8" height="4.8" fill="#6ca3cc"/><rect x="243.6" y="178.0" width="4.8" height="4.8" fill="#6fa7ce"/><rect x="247.9" y="178.0" width="4.8" height="4.8" fill="#6fa7ce"/><rect x="252.2" y="178.0" width="4.8" height="4.8" fill="#6fa7ce"/><rect x="256.5" y="178.0" width="4.8" height="4.8" fill="#6fa7ce"/><rect x="260.8" y="178.0" width="4.8" height="4.8" fill="#6fa7ce"/><rect x="75.6" y="182.3" width="4.8" height="4.8" fill="#5183bb"/><rect x="79.9" y="182.3" width="4.8" height="4.8" fill="#5183bb"/><rect x="84.2" y="182.3" width="4.8" height="4.8" fill="#5183bb"/><rect x="88.5" y="182.3" width="4.8" height="4.8" fill="#568abf"/><rect x="92.8" y="182.3" width="4.8" height="4.8" fill="#6297c6"/><rect x="97.1" y="182.3" width="4.8" height="4.8" fill="#6aa1cb"/><rect x="101.4" y="182.3" width="4.8" height="4.8" fill="#6da5cd"/><rect x="105.7" y="182.3" width="4.8" height="4.8" fill="#6aa1cb"/><rect x="110.0" y="182.3" width="4.8" height="4.8" fill="#5e93c3"/><rect x="114.4" y="182.3" width="4.8" height="4.8" fill="#5e93c3"/><rect x="118.7" y="182.3" width="4.8" height="4.8" fill="#6aa1cb"/><rect x="123.0" y="182.3" width="4.8" height="4.8" fill="#6fa7ce"/><rect x="127.3" y="182.3" width="4.8" height="4.8" fill="#6fa7ce"/><rect x="131.6" y="182.3" width="4.8" height="4.8" fill="#6fa7ce"/><rect x="135.9" y="182.3" width="4.8" height="4.8" fill="#6fa7ce"/><rect x="140.2" y="182.3" width="4.8" height="4.8" fill="#6fa7ce"/><rect x="144.5" y="182.3" width="4.8" height="4.8" fill="#6fa7ce"/><rect x="148.8" y="182.3" width="4.8" height="4.8" fill="#6fa7ce"/><rect x="153.1" y="182.3" width="4.8" height="4.8" fill="#6fa7ce"/><rect x="157.4" y="182.3" width="4.8" height="4.8" fill="#6fa7ce"/><rect x="161.7" y="182.3" width="4.8" height="4.8" fill="#6fa7ce"/><rect x="166.0" y="182.3" width="4.8" height="4.8" fill="#689ec9"/><rect x="170.4" y="182.3" width="4.8" height="4.8" fill="#588cc0"/><rect x="174.7" y="182.3" width="4.8" height="4.8" fill="#5183bb"/><rect x="179.0" y="182.3" width="4.8" height="4.8" fill="#5183bb"/><rect x="183.3" y="182.3" width="4.8" height="4.8" fill="#5183bb"/><rect x="187.6" y="182.3" width="4.8" height="4.8" fill="#5183bb"/><rect x="191.9" y="182.3" width="4.8" height="4.8" fill="#4f81ba"/><rect x="196.2" y="182.3" width="4.8" height="4.8" fill="#4c7eb9"/><rect x="200.5" y="182.3" width="4.8" height="4.8" fill="#4677b5"/><rect x="204.8" y="182.3" width="4.8" height="4.8" fill="#426baf"/><rect x="209.1" y="182.3" width="4.8" height="4.8" fill="#4065ac"/><rect x="213.4" y="182.3" width="4.8" height="4.8" fill="#4065ac"/><rect x="217.7" y="182.3" width="4.8" height="4.8" fill="#416aae"/><rect x="222.0" y="182.3" width="4.8" height="4.8" fill="#4473b3"/><rect x="226.3" y="182.3" width="4.8" height="4.8" fill="#5183bb"/><rect x="230.7" y="182.3" width="4.8" height="4.8" fill="#659bc8"/><rect x="235.0" y="182.3" width="4.8" height="4.8" fill="#6fa7ce"/><rect x="239.3" y="182.3" width="4.8" height="4.8" fill="#6fa7ce"/><rect x="243.6" y="182.3" width="4.8" height="4.8" fill="#6fa7ce"/><rect x="247.9" y="182.3" width="4.8" height="4.8" fill="#6fa7ce"/><rect x="252.2" y="182.3" width="4.8" height="4.8" fill="#6fa7ce"/><rect x="256.5" y="182.3" width="4.8" height="4.8" fill="#6fa7ce"/><rect x="260.8" y="182.3" width="4.8" height="4.8" fill="#6fa7ce"/><rect x="75.6" y="186.6" width="4.8" height="4.8" fill="#5183bb"/><rect x="79.9" y="186.6" width="4.8" height="4.8" fill="#5183bb"/><rect x="84.2" y="186.6" width="4.8" height="4.8" fill="#5183bb"/><rect x="88.5" y="186.6" width="4.8" height="4.8" fill="#5385bc"/><rect x="92.8" y="186.6" width="4.8" height="4.8" fill="#568abf"/><rect x="97.1" y="186.6" width="4.8" height="4.8" fill="#5e93c3"/><rect x="101.4" y="186.6" width="4.8" height="4.8" fill="#6aa1cb"/><rect x="105.7" y="186.6" width="4.8" height="4.8" fill="#6da5cd"/><rect x="110.0" y="186.6" width="4.8" height="4.8" fill="#6aa1cb"/><rect x="114.4" y="186.6" width="4.8" height="4.8" fill="#6aa1cb"/><rect x="118.7" y="186.6" width="4.8" height="4.8" fill="#6da5cd"/><rect x="123.0" y="186.6" width="4.8" height="4.8" fill="#6fa7ce"/><rect x="127.3" y="186.6" width="4.8" height="4.8" fill="#6fa7ce"/><rect x="131.6" y="186.6" width="4.8" height="4.8" fill="#6fa7ce"/><rect x="135.9" y="186.6" width="4.8" height="4.8" fill="#6fa7ce"/><rect x="140.2" y="186.6" width="4.8" height="4.8" fill="#6fa7ce"/><rect x="144.5" y="186.6" width="4.8" height="4.8" fill="#6fa7ce"/><rect x="148.8" y="186.6" width="4.8" height="4.8" fill="#6fa7ce"/><rect x="153.1" y="186.6" width="4.8" height="4.8" fill="#6fa7ce"/><rect x="157.4" y="186.6" width="4.8" height="4.8" fill="#6fa7ce"/><rect x="161.7" y="186.6" width="4.8" height="4.8" fill="#6fa7ce"/><rect x="166.0" y="186.6" width="4.8" height="4.8" fill="#689ec9"/><rect x="170.4" y="186.6" width="4.8" height="4.8" fill="#588cc0"/><rect x="174.7" y="186.6" width="4.8" height="4.8" fill="#5183bb"/><rect x="179.0" y="186.6" width="4.8" height="4.8" fill="#5183bb"/><rect x="183.3" y="186.6" width="4.8" height="4.8" fill="#5183bb"/><rect x="187.6" y="186.6" width="4.8" height="4.8" fill="#5183bb"/><rect x="191.9" y="186.6" width="4.8" height="4.8" fill="#4c7eb9"/><rect x="196.2" y="186.6" width="4.8" height="4.8" fill="#4473b3"/><rect x="200.5" y="186.6" width="4.8" height="4.8" fill="#426baf"/><rect x="204.8" y="186.6" width="4.8" height="4.8" fill="#4167ad"/><rect x="209.1" y="186.6" width="4.8" height="4.8" fill="#4065ac"/><rect x="213.4" y="186.6" width="4.8" height="4.8" fill="#4065ac"/><rect x="217.7" y="186.6" width="4.8" height="4.8" fill="#4473b3"/><rect x="222.0" y="186.6" width="4.8" height="4.8" fill="#588bc0"/><rect x="226.3" y="186.6" width="4.8" height="4.8" fill="#659bc8"/><rect x="230.7" y="186.6" width="4.8" height="4.8" fill="#6ca3cc"/><rect x="235.0" y="186.6" width="4.8" height="4.8" fill="#6fa7ce"/><rect x="239.3" y="186.6" width="4.8" height="4.8" fill="#6fa7ce"/><rect x="243.6" y="186.6" width="4.8" height="4.8" fill="#6fa7ce"/><rect x="247.9" y="186.6" width="4.8" height="4.8" fill="#6fa7ce"/><rect x="252.2" y="186.6" width="4.8" height="4.8" fill="#6fa7ce"/><rect x="256.5" y="186.6" width="4.8" height="4.8" fill="#6fa7ce"/><rect x="260.8" y="186.6" width="4.8" height="4.8" fill="#6fa7ce"/><rect x="75.6" y="190.9" width="4.8" height="4.8" fill="#5183bb"/><rect x="79.9" y="190.9" width="4.8" height="4.8" fill="#5183bb"/><rect x="84.2" y="190.9" width="4.8" height="4.8" fill="#5183bb"/><rect x="88.5" y="190.9" width="4.8" height="4.8" fill="#5183bb"/><rect x="92.8" y="190.9" width="4.8" height="4.8" fill="#5183bb"/><rect x="97.1" y="190.9" width="4.8" height="4.8" fill="#568abf"/><rect x="101.4" y="190.9" width="4.8" height="4.8" fill="#6297c6"/><rect x="105.7" y="190.9" width="4.8" height="4.8" fill="#689ec9"/><rect x="110.0" y="190.9" width="4.8" height="4.8" fill="#689ec9"/><rect x="114.4" y="190.9" width="4.8" height="4.8" fill="#689ec9"/><rect x="118.7" y="190.9" width="4.8" height="4.8" fill="#689ec9"/><rect x="123.0" y="190.9" width="4.8" height="4.8" fill="#689ec9"/><rect x="127.3" y="190.9" width="4.8" height="4.8" fill="#689ec9"/><rect x="131.6" y="190.9" width="4.8" height="4.8" fill="#689ec9"/><rect x="135.9" y="190.9" width="4.8" height="4.8" fill="#689ec9"/><rect x="140.2" y="190.9" width="4.8" height="4.8" fill="#689ec9"/><rect x="144.5" y="190.9" width="4.8" height="4.8" fill="#689ec9"/><rect x="148.8" y="190.9" width="4.8" height="4.8" fill="#689ec9"/><rect x="153.1" y="190.9" width="4.8" height="4.8" fill="#689ec9"/><rect x="157.4" y="190.9" width="4.8" height="4.8" fill="#689ec9"/><rect x="161.7" y="190.9" width="4.8" height="4.8" fill="#689ec9"/><rect x="166.0" y="190.9" width="4.8" height="4.8" fill="#6297c6"/><rect x="170.4" y="190.9" width="4.8" height="4.8" fill="#568abf"/><rect x="174.7" y="190.9" width="4.8" height="4.8" fill="#5183bb"/><rect x="179.0" y="190.9" width="4.8" height="4.8" fill="#5183bb"/><rect x="183.3" y="190.9" width="4.8" height="4.8" fill="#5183bb"/><rect x="187.6" y="190.9" width="4.8" height="4.8" fill="#5183bb"/><rect x="191.9" y="190.9" width="4.8" height="4.8" fill="#4c7eb9"/><rect x="196.2" y="190.9" width="4.8" height="4.8" fill="#4473b3"/><rect x="200.5" y="190.9" width="4.8" height="4.8" fill="#426db0"/><rect x="204.8" y="190.9" width="4.8" height="4.8" fill="#426db0"/><rect x="209.1" y="190.9" width="4.8" height="4.8" fill="#4370b1"/><rect x="213.4" y="190.9" width="4.8" height="4.8" fill="#4575b4"/><rect x="217.7" y="190.9" width="4.8" height="4.8" fill="#5183bb"/><rect x="222.0" y="190.9" width="4.8" height="4.8" fill="#659bc8"/><rect x="226.3" y="190.9" width="4.8" height="4.8" fill="#6fa7ce"/><rect x="230.7" y="190.9" width="4.8" height="4.8" fill="#6fa7ce"/><rect x="235.0" y="190.9" width="4.8" height="4.8" fill="#6fa7ce"/><rect x="239.3" y="190.9" width="4.8" height="4.8" fill="#6fa7ce"/><rect x="243.6" y="190.9" width="4.8" height="4.8" fill="#6fa7ce"/><rect x="247.9" y="190.9" width="4.8" height="4.8" fill="#6fa7ce"/><rect x="252.2" y="190.9" width="4.8" height="4.8" fill="#6fa7ce"/><rect x="256.5" y="190.9" width="4.8" height="4.8" fill="#6fa7ce"/><rect x="260.8" y="190.9" width="4.8" height="4.8" fill="#6fa7ce"/><rect x="75.6" y="195.2" width="4.8" height="4.8" fill="#5183bb"/><rect x="79.9" y="195.2" width="4.8" height="4.8" fill="#5183bb"/><rect x="84.2" y="195.2" width="4.8" height="4.8" fill="#5183bb"/><rect x="88.5" y="195.2" width="4.8" height="4.8" fill="#5183bb"/><rect x="92.8" y="195.2" width="4.8" height="4.8" fill="#5183bb"/><rect x="97.1" y="195.2" width="4.8" height="4.8" fill="#5385bc"/><rect x="101.4" y="195.2" width="4.8" height="4.8" fill="#568abf"/><rect x="105.7" y="195.2" width="4.8" height="4.8" fill="#588cc0"/><rect x="110.0" y="195.2" width="4.8" height="4.8" fill="#588cc0"/><rect x="114.4" y="195.2" width="4.8" height="4.8" fill="#588cc0"/><rect x="118.7" y="195.2" width="4.8" height="4.8" fill="#588cc0"/><rect x="123.0" y="195.2" width="4.8" height="4.8" fill="#588cc0"/><rect x="127.3" y="195.2" width="4.8" height="4.8" fill="#588cc0"/><rect x="131.6" y="195.2" width="4.8" height="4.8" fill="#588cc0"/><rect x="135.9" y="195.2" width="4.8" height="4.8" fill="#588cc0"/><rect x="140.2" y="195.2" width="4.8" height="4.8" fill="#588cc0"/><rect x="144.5" y="195.2" width="4.8" height="4.8" fill="#588cc0"/><rect x="148.8" y="195.2" width="4.8" height="4.8" fill="#588cc0"/><rect x="153.1" y="195.2" width="4.8" height="4.8" fill="#588cc0"/><rect x="157.4" y="195.2" width="4.8" height="4.8" fill="#588cc0"/><rect x="161.7" y="195.2" width="4.8" height="4.8" fill="#588cc0"/><rect x="166.0" y="195.2" width="4.8" height="4.8" fill="#568abf"/><rect x="170.4" y="195.2" width="4.8" height="4.8" fill="#5385bc"/><rect x="174.7" y="195.2" width="4.8" height="4.8" fill="#5183bb"/><rect x="179.0" y="195.2" width="4.8" height="4.8" fill="#5183bb"/><rect x="183.3" y="195.2" width="4.8" height="4.8" fill="#5183bb"/><rect x="187.6" y="195.2" width="4.8" height="4.8" fill="#5183bb"/><rect x="191.9" y="195.2" width="4.8" height="4.8" fill="#4f81ba"/><rect x="196.2" y="195.2" width="4.8" height="4.8" fill="#4c7eb9"/><rect x="200.5" y="195.2" width="4.8" height="4.8" fill="#4b7cb8"/><rect x="204.8" y="195.2" width="4.8" height="4.8" fill="#4b7cb8"/><rect x="209.1" y="195.2" width="4.8" height="4.8" fill="#5183bb"/><rect x="213.4" y="195.2" width="4.8" height="4.8" fill="#5c90c2"/><rect x="217.7" y="195.2" width="4.8" height="4.8" fill="#659bc8"/><rect x="222.0" y="195.2" width="4.8" height="4.8" fill="#6ca3cc"/><rect x="226.3" y="195.2" width="4.8" height="4.8" fill="#6fa7ce"/><rect x="230.7" y="195.2" width="4.8" height="4.8" fill="#6fa7ce"/><rect x="235.0" y="195.2" width="4.8" height="4.8" fill="#6fa7ce"/><rect x="239.3" y="195.2" width="4.8" height="4.8" fill="#6fa7ce"/><rect x="243.6" y="195.2" width="4.8" height="4.8" fill="#6fa7ce"/><rect x="247.9" y="195.2" width="4.8" height="4.8" fill="#6fa7ce"/><rect x="252.2" y="195.2" width="4.8" height="4.8" fill="#6fa7ce"/><rect x="256.5" y="195.2" width="4.8" height="4.8" fill="#6fa7ce"/><rect x="260.8" y="195.2" width="4.8" height="4.8" fill="#6fa7ce"/><rect x="75.6" y="199.5" width="4.8" height="4.8" fill="#5183bb"/><rect x="79.9" y="199.5" width="4.8" height="4.8" fill="#5183bb"/><rect x="84.2" y="199.5" width="4.8" height="4.8" fill="#5183bb"/><rect x="88.5" y="199.5" width="4.8" height="4.8" fill="#5183bb"/><rect x="92.8" y="199.5" width="4.8" height="4.8" fill="#5183bb"/><rect x="97.1" y="199.5" width="4.8" height="4.8" fill="#5183bb"/><rect x="101.4" y="199.5" width="4.8" height="4.8" fill="#5183bb"/><rect x="105.7" y="199.5" width="4.8" height="4.8" fill="#5183bb"/><rect x="110.0" y="199.5" width="4.8" height="4.8" fill="#5183bb"/><rect x="114.4" y="199.5" width="4.8" height="4.8" fill="#5183bb"/><rect x="118.7" y="199.5" width="4.8" height="4.8" fill="#5183bb"/><rect x="123.0" y="199.5" width="4.8" height="4.8" fill="#5183bb"/><rect x="127.3" y="199.5" width="4.8" height="4.8" fill="#5183bb"/><rect x="131.6" y="199.5" width="4.8" height="4.8" fill="#5183bb"/><rect x="135.9" y="199.5" width="4.8" height="4.8" fill="#5183bb"/><rect x="140.2" y="199.5" width="4.8" height="4.8" fill="#5183bb"/><rect x="144.5" y="199.5" width="4.8" height="4.8" fill="#5183bb"/><rect x="148.8" y="199.5" width="4.8" height="4.8" fill="#5183bb"/><rect x="153.1" y="199.5" width="4.8" height="4.8" fill="#5183bb"/><rect x="157.4" y="199.5" width="4.8" height="4.8" fill="#5183bb"/><rect x="161.7" y="199.5" width="4.8" height="4.8" fill="#5183bb"/><rect x="166.0" y="199.5" width="4.8" height="4.8" fill="#5183bb"/><rect x="170.4" y="199.5" width="4.8" height="4.8" fill="#5183bb"/><rect x="174.7" y="199.5" width="4.8" height="4.8" fill="#5183bb"/><rect x="179.0" y="199.5" width="4.8" height="4.8" fill="#5183bb"/><rect x="183.3" y="199.5" width="4.8" height="4.8" fill="#5183bb"/><rect x="187.6" y="199.5" width="4.8" height="4.8" fill="#5183bb"/><rect x="191.9" y="199.5" width="4.8" height="4.8" fill="#5183bb"/><rect x="196.2" y="199.5" width="4.8" height="4.8" fill="#5183bb"/><rect x="200.5" y="199.5" width="4.8" height="4.8" fill="#5183bb"/><rect x="204.8" y="199.5" width="4.8" height="4.8" fill="#5183bb"/><rect x="209.1" y="199.5" width="4.8" height="4.8" fill="#588cc0"/><rect x="213.4" y="199.5" width="4.8" height="4.8" fill="#689ec9"/><rect x="217.7" y="199.5" width="4.8" height="4.8" fill="#6fa7ce"/><rect x="222.0" y="199.5" width="4.8" height="4.8" fill="#6fa7ce"/><rect x="226.3" y="199.5" width="4.8" height="4.8" fill="#6fa7ce"/><rect x="230.7" y="199.5" width="4.8" height="4.8" fill="#6fa7ce"/><rect x="235.0" y="199.5" width="4.8" height="4.8" fill="#6fa7ce"/><rect x="239.3" y="199.5" width="4.8" height="4.8" fill="#6fa7ce"/><rect x="243.6" y="199.5" width="4.8" height="4.8" fill="#6fa7ce"/><rect x="247.9" y="199.5" width="4.8" height="4.8" fill="#6fa7ce"/><rect x="252.2" y="199.5" width="4.8" height="4.8" fill="#6fa7ce"/><rect x="256.5" y="199.5" width="4.8" height="4.8" fill="#6fa7ce"/><rect x="260.8" y="199.5" width="4.8" height="4.8" fill="#6fa7ce"/><rect x="75.6" y="203.8" width="4.8" height="4.8" fill="#5183bb"/><rect x="79.9" y="203.8" width="4.8" height="4.8" fill="#5183bb"/><rect x="84.2" y="203.8" width="4.8" height="4.8" fill="#5183bb"/><rect x="88.5" y="203.8" width="4.8" height="4.8" fill="#5183bb"/><rect x="92.8" y="203.8" width="4.8" height="4.8" fill="#5183bb"/><rect x="97.1" y="203.8" width="4.8" height="4.8" fill="#5183bb"/><rect x="101.4" y="203.8" width="4.8" height="4.8" fill="#5183bb"/><rect x="105.7" y="203.8" width="4.8" height="4.8" fill="#5183bb"/><rect x="110.0" y="203.8" width="4.8" height="4.8" fill="#5183bb"/><rect x="114.4" y="203.8" width="4.8" height="4.8" fill="#5183bb"/><rect x="118.7" y="203.8" width="4.8" height="4.8" fill="#5183bb"/><rect x="123.0" y="203.8" width="4.8" height="4.8" fill="#5183bb"/><rect x="127.3" y="203.8" width="4.8" height="4.8" fill="#5183bb"/><rect x="131.6" y="203.8" width="4.8" height="4.8" fill="#5183bb"/><rect x="135.9" y="203.8" width="4.8" height="4.8" fill="#5183bb"/><rect x="140.2" y="203.8" width="4.8" height="4.8" fill="#5183bb"/><rect x="144.5" y="203.8" width="4.8" height="4.8" fill="#5183bb"/><rect x="148.8" y="203.8" width="4.8" height="4.8" fill="#5183bb"/><rect x="153.1" y="203.8" width="4.8" height="4.8" fill="#5183bb"/><rect x="157.4" y="203.8" width="4.8" height="4.8" fill="#5183bb"/><rect x="161.7" y="203.8" width="4.8" height="4.8" fill="#5183bb"/><rect x="166.0" y="203.8" width="4.8" height="4.8" fill="#5183bb"/><rect x="170.4" y="203.8" width="4.8" height="4.8" fill="#5183bb"/><rect x="174.7" y="203.8" width="4.8" height="4.8" fill="#5183bb"/><rect x="179.0" y="203.8" width="4.8" height="4.8" fill="#5183bb"/><rect x="183.3" y="203.8" width="4.8" height="4.8" fill="#5183bb"/><rect x="187.6" y="203.8" width="4.8" height="4.8" fill="#5183bb"/><rect x="191.9" y="203.8" width="4.8" height="4.8" fill="#5183bb"/><rect x="196.2" y="203.8" width="4.8" height="4.8" fill="#5183bb"/><rect x="200.5" y="203.8" width="4.8" height="4.8" fill="#5183bb"/><rect x="204.8" y="203.8" width="4.8" height="4.8" fill="#5183bb"/><rect x="209.1" y="203.8" width="4.8" height="4.8" fill="#588cc0"/><rect x="213.4" y="203.8" width="4.8" height="4.8" fill="#689ec9"/><rect x="217.7" y="203.8" width="4.8" height="4.8" fill="#6fa7ce"/><rect x="222.0" y="203.8" width="4.8" height="4.8" fill="#6fa7ce"/><rect x="226.3" y="203.8" width="4.8" height="4.8" fill="#6fa7ce"/><rect x="230.7" y="203.8" width="4.8" height="4.8" fill="#6fa7ce"/><rect x="235.0" y="203.8" width="4.8" height="4.8" fill="#6fa7ce"/><rect x="239.3" y="203.8" width="4.8" height="4.8" fill="#6fa7ce"/><rect x="243.6" y="203.8" width="4.8" height="4.8" fill="#6fa7ce"/><rect x="247.9" y="203.8" width="4.8" height="4.8" fill="#6fa7ce"/><rect x="252.2" y="203.8" width="4.8" height="4.8" fill="#6fa7ce"/><rect x="256.5" y="203.8" width="4.8" height="4.8" fill="#6fa7ce"/><rect x="260.8" y="203.8" width="4.8" height="4.8" fill="#6fa7ce"/><rect x="75.6" y="208.1" width="4.8" height="4.8" fill="#5183bb"/><rect x="79.9" y="208.1" width="4.8" height="4.8" fill="#5183bb"/><rect x="84.2" y="208.1" width="4.8" height="4.8" fill="#5183bb"/><rect x="88.5" y="208.1" width="4.8" height="4.8" fill="#5183bb"/><rect x="92.8" y="208.1" width="4.8" height="4.8" fill="#5183bb"/><rect x="97.1" y="208.1" width="4.8" height="4.8" fill="#5183bb"/><rect x="101.4" y="208.1" width="4.8" height="4.8" fill="#5183bb"/><rect x="105.7" y="208.1" width="4.8" height="4.8" fill="#5183bb"/><rect x="110.0" y="208.1" width="4.8" height="4.8" fill="#5183bb"/><rect x="114.4" y="208.1" width="4.8" height="4.8" fill="#5183bb"/><rect x="118.7" y="208.1" width="4.8" height="4.8" fill="#5183bb"/><rect x="123.0" y="208.1" width="4.8" height="4.8" fill="#5183bb"/><rect x="127.3" y="208.1" width="4.8" height="4.8" fill="#5183bb"/><rect x="131.6" y="208.1" width="4.8" height="4.8" fill="#5183bb"/><rect x="135.9" y="208.1" width="4.8" height="4.8" fill="#5183bb"/><rect x="140.2" y="208.1" width="4.8" height="4.8" fill="#5183bb"/><rect x="144.5" y="208.1" width="4.8" height="4.8" fill="#5183bb"/><rect x="148.8" y="208.1" width="4.8" height="4.8" fill="#5183bb"/><rect x="153.1" y="208.1" width="4.8" height="4.8" fill="#5183bb"/><rect x="157.4" y="208.1" width="4.8" height="4.8" fill="#5183bb"/><rect x="161.7" y="208.1" width="4.8" height="4.8" fill="#5183bb"/><rect x="166.0" y="208.1" width="4.8" height="4.8" fill="#5183bb"/><rect x="170.4" y="208.1" width="4.8" height="4.8" fill="#5183bb"/><rect x="174.7" y="208.1" width="4.8" height="4.8" fill="#5183bb"/><rect x="179.0" y="208.1" width="4.8" height="4.8" fill="#5183bb"/><rect x="183.3" y="208.1" width="4.8" height="4.8" fill="#5183bb"/><rect x="187.6" y="208.1" width="4.8" height="4.8" fill="#5183bb"/><rect x="191.9" y="208.1" width="4.8" height="4.8" fill="#5183bb"/><rect x="196.2" y="208.1" width="4.8" height="4.8" fill="#5183bb"/><rect x="200.5" y="208.1" width="4.8" height="4.8" fill="#5183bb"/><rect x="204.8" y="208.1" width="4.8" height="4.8" fill="#5183bb"/><rect x="209.1" y="208.1" width="4.8" height="4.8" fill="#588cc0"/><rect x="213.4" y="208.1" width="4.8" height="4.8" fill="#689ec9"/><rect x="217.7" y="208.1" width="4.8" height="4.8" fill="#6fa7ce"/><rect x="222.0" y="208.1" width="4.8" height="4.8" fill="#6fa7ce"/><rect x="226.3" y="208.1" width="4.8" height="4.8" fill="#6fa7ce"/><rect x="230.7" y="208.1" width="4.8" height="4.8" fill="#6fa7ce"/><rect x="235.0" y="208.1" width="4.8" height="4.8" fill="#6fa7ce"/><rect x="239.3" y="208.1" width="4.8" height="4.8" fill="#6fa7ce"/><rect x="243.6" y="208.1" width="4.8" height="4.8" fill="#6fa7ce"/><rect x="247.9" y="208.1" width="4.8" height="4.8" fill="#6fa7ce"/><rect x="252.2" y="208.1" width="4.8" height="4.8" fill="#6fa7ce"/><rect x="256.5" y="208.1" width="4.8" height="4.8" fill="#6fa7ce"/><rect x="260.8" y="208.1" width="4.8" height="4.8" fill="#6fa7ce"/></g></g><g clip-path="url(#c2)"><g filter="url(#bl4)"><rect x="396.7" y="22.9" width="4.8" height="4.8" fill="#ffffbf"/><rect x="401.0" y="22.9" width="4.8" height="4.8" fill="#ffffbf"/><rect x="405.3" y="22.9" width="4.8" height="4.8" fill="#ffffbf"/><rect x="409.6" y="22.9" width="4.8" height="4.8" fill="#fff0a8"/><rect x="413.9" y="22.9" width="4.8" height="4.8" fill="#fec97a"/><rect x="418.2" y="22.9" width="4.8" height="4.8" fill="#fdb063"/><rect x="422.5" y="22.9" width="4.8" height="4.8" fill="#fdb063"/><rect x="426.8" y="22.9" width="4.8" height="4.8" fill="#fdc071"/><rect x="431.1" y="22.9" width="4.8" height="4.8" fill="#fede8e"/><rect x="435.5" y="22.9" width="4.8" height="4.8" fill="#fee89c"/><rect x="439.8" y="22.9" width="4.8" height="4.8" fill="#fee89c"/><rect x="444.1" y="22.9" width="4.8" height="4.8" fill="#fee89c"/><rect x="448.4" y="22.9" width="4.8" height="4.8" fill="#fee89c"/><rect x="452.7" y="22.9" width="4.8" height="4.8" fill="#fee89c"/><rect x="457.0" y="22.9" width="4.8" height="4.8" fill="#fee89c"/><rect x="461.3" y="22.9" width="4.8" height="4.8" fill="#fff5b0"/><rect x="465.6" y="22.9" width="4.8" height="4.8" fill="#eef8df"/><rect x="469.9" y="22.9" width="4.8" height="4.8" fill="#c6e6f0"/><rect x="474.2" y="22.9" width="4.8" height="4.8" fill="#90c3dd"/><rect x="478.5" y="22.9" width="4.8" height="4.8" fill="#82b8d7"/><rect x="482.8" y="22.9" width="4.8" height="4.8" fill="#9dcee3"/><rect x="487.1" y="22.9" width="4.8" height="4.8" fill="#b8dfed"/><rect x="491.5" y="22.9" width="4.8" height="4.8" fill="#d3ecf4"/><rect x="495.8" y="22.9" width="4.8" height="4.8" fill="#e8f6ea"/><rect x="500.1" y="22.9" width="4.8" height="4.8" fill="#f7fccd"/><rect x="504.4" y="22.9" width="4.8" height="4.8" fill="#fff9b6"/><rect x="508.7" y="22.9" width="4.8" height="4.8" fill="#feeea5"/><rect x="513.0" y="22.9" width="4.8" height="4.8" fill="#fee89c"/><rect x="517.3" y="22.9" width="4.8" height="4.8" fill="#fee89c"/><rect x="521.6" y="22.9" width="4.8" height="4.8" fill="#fee89c"/><rect x="525.9" y="22.9" width="4.8" height="4.8" fill="#fee89c"/><rect x="530.2" y="22.9" width="4.8" height="4.8" fill="#feeea5"/><rect x="534.5" y="22.9" width="4.8" height="4.8" fill="#fff9b6"/><rect x="538.8" y="22.9" width="4.8" height="4.8" fill="#ffffbf"/><rect x="543.1" y="22.9" width="4.8" height="4.8" fill="#ffffbf"/><rect x="547.4" y="22.9" width="4.8" height="4.8" fill="#ffffbf"/><rect x="551.8" y="22.9" width="4.8" height="4.8" fill="#ffffbf"/><rect x="556.1" y="22.9" width="4.8" height="4.8" fill="#ffffbf"/><rect x="560.4" y="22.9" width="4.8" height="4.8" fill="#ffffbf"/><rect x="564.7" y="22.9" width="4.8" height="4.8" fill="#ffffbf"/><rect x="569.0" y="22.9" width="4.8" height="4.8" fill="#ffffbf"/><rect x="573.3" y="22.9" width="4.8" height="4.8" fill="#ffffbf"/><rect x="577.6" y="22.9" width="4.8" height="4.8" fill="#ffffbf"/><rect x="581.9" y="22.9" width="4.8" height="4.8" fill="#ffffbf"/><rect x="396.7" y="27.2" width="4.8" height="4.8" fill="#ffffbf"/><rect x="401.0" y="27.2" width="4.8" height="4.8" fill="#ffffbf"/><rect x="405.3" y="27.2" width="4.8" height="4.8" fill="#ffffbf"/><rect x="409.6" y="27.2" width="4.8" height="4.8" fill="#fff0a8"/><rect x="413.9" y="27.2" width="4.8" height="4.8" fill="#fec97a"/><rect x="418.2" y="27.2" width="4.8" height="4.8" fill="#fdb063"/><rect x="422.5" y="27.2" width="4.8" height="4.8" fill="#fdb063"/><rect x="426.8" y="27.2" width="4.8" height="4.8" fill="#fdc071"/><rect x="431.1" y="27.2" width="4.8" height="4.8" fill="#fede8e"/><rect x="435.5" y="27.2" width="4.8" height="4.8" fill="#fee89c"/><rect x="439.8" y="27.2" width="4.8" height="4.8" fill="#fee89c"/><rect x="444.1" y="27.2" width="4.8" height="4.8" fill="#fee89c"/><rect x="448.4" y="27.2" width="4.8" height="4.8" fill="#fee89c"/><rect x="452.7" y="27.2" width="4.8" height="4.8" fill="#fee89c"/><rect x="457.0" y="27.2" width="4.8" height="4.8" fill="#fee89c"/><rect x="461.3" y="27.2" width="4.8" height="4.8" fill="#fff5b0"/><rect x="465.6" y="27.2" width="4.8" height="4.8" fill="#eef8df"/><rect x="469.9" y="27.2" width="4.8" height="4.8" fill="#c6e6f0"/><rect x="474.2" y="27.2" width="4.8" height="4.8" fill="#90c3dd"/><rect x="478.5" y="27.2" width="4.8" height="4.8" fill="#82b8d7"/><rect x="482.8" y="27.2" width="4.8" height="4.8" fill="#9dcee3"/><rect x="487.1" y="27.2" width="4.8" height="4.8" fill="#b8dfed"/><rect x="491.5" y="27.2" width="4.8" height="4.8" fill="#d3ecf4"/><rect x="495.8" y="27.2" width="4.8" height="4.8" fill="#e8f6ea"/><rect x="500.1" y="27.2" width="4.8" height="4.8" fill="#f7fccd"/><rect x="504.4" y="27.2" width="4.8" height="4.8" fill="#fff9b6"/><rect x="508.7" y="27.2" width="4.8" height="4.8" fill="#feeea5"/><rect x="513.0" y="27.2" width="4.8" height="4.8" fill="#fee89c"/><rect x="517.3" y="27.2" width="4.8" height="4.8" fill="#fee89c"/><rect x="521.6" y="27.2" width="4.8" height="4.8" fill="#fee89c"/><rect x="525.9" y="27.2" width="4.8" height="4.8" fill="#fee89c"/><rect x="530.2" y="27.2" width="4.8" height="4.8" fill="#feeea5"/><rect x="534.5" y="27.2" width="4.8" height="4.8" fill="#fff9b6"/><rect x="538.8" y="27.2" width="4.8" height="4.8" fill="#ffffbf"/><rect x="543.1" y="27.2" width="4.8" height="4.8" fill="#ffffbf"/><rect x="547.4" y="27.2" width="4.8" height="4.8" fill="#ffffbf"/><rect x="551.8" y="27.2" width="4.8" height="4.8" fill="#ffffbf"/><rect x="556.1" y="27.2" width="4.8" height="4.8" fill="#ffffbf"/><rect x="560.4" y="27.2" width="4.8" height="4.8" fill="#ffffbf"/><rect x="564.7" y="27.2" width="4.8" height="4.8" fill="#ffffbf"/><rect x="569.0" y="27.2" width="4.8" height="4.8" fill="#ffffbf"/><rect x="573.3" y="27.2" width="4.8" height="4.8" fill="#ffffbf"/><rect x="577.6" y="27.2" width="4.8" height="4.8" fill="#ffffbf"/><rect x="581.9" y="27.2" width="4.8" height="4.8" fill="#ffffbf"/><rect x="396.7" y="31.5" width="4.8" height="4.8" fill="#ffffbf"/><rect x="401.0" y="31.5" width="4.8" height="4.8" fill="#ffffbf"/><rect x="405.3" y="31.5" width="4.8" height="4.8" fill="#ffffbf"/><rect x="409.6" y="31.5" width="4.8" height="4.8" fill="#fff0a8"/><rect x="413.9" y="31.5" width="4.8" height="4.8" fill="#fec97a"/><rect x="418.2" y="31.5" width="4.8" height="4.8" fill="#fdb063"/><rect x="422.5" y="31.5" width="4.8" height="4.8" fill="#fdb063"/><rect x="426.8" y="31.5" width="4.8" height="4.8" fill="#fdc071"/><rect x="431.1" y="31.5" width="4.8" height="4.8" fill="#fede8e"/><rect x="435.5" y="31.5" width="4.8" height="4.8" fill="#fee89c"/><rect x="439.8" y="31.5" width="4.8" height="4.8" fill="#fee89c"/><rect x="444.1" y="31.5" width="4.8" height="4.8" fill="#fee89c"/><rect x="448.4" y="31.5" width="4.8" height="4.8" fill="#fee89c"/><rect x="452.7" y="31.5" width="4.8" height="4.8" fill="#fee89c"/><rect x="457.0" y="31.5" width="4.8" height="4.8" fill="#fee89c"/><rect x="461.3" y="31.5" width="4.8" height="4.8" fill="#fff5b0"/><rect x="465.6" y="31.5" width="4.8" height="4.8" fill="#eef8df"/><rect x="469.9" y="31.5" width="4.8" height="4.8" fill="#c6e6f0"/><rect x="474.2" y="31.5" width="4.8" height="4.8" fill="#90c3dd"/><rect x="478.5" y="31.5" width="4.8" height="4.8" fill="#82b8d7"/><rect x="482.8" y="31.5" width="4.8" height="4.8" fill="#9dcee3"/><rect x="487.1" y="31.5" width="4.8" height="4.8" fill="#b8dfed"/><rect x="491.5" y="31.5" width="4.8" height="4.8" fill="#d3ecf4"/><rect x="495.8" y="31.5" width="4.8" height="4.8" fill="#e8f6ea"/><rect x="500.1" y="31.5" width="4.8" height="4.8" fill="#f7fccd"/><rect x="504.4" y="31.5" width="4.8" height="4.8" fill="#fff9b6"/><rect x="508.7" y="31.5" width="4.8" height="4.8" fill="#feeea5"/><rect x="513.0" y="31.5" width="4.8" height="4.8" fill="#fee89c"/><rect x="517.3" y="31.5" width="4.8" height="4.8" fill="#fee89c"/><rect x="521.6" y="31.5" width="4.8" height="4.8" fill="#fee89c"/><rect x="525.9" y="31.5" width="4.8" height="4.8" fill="#fee89c"/><rect x="530.2" y="31.5" width="4.8" height="4.8" fill="#feeea5"/><rect x="534.5" y="31.5" width="4.8" height="4.8" fill="#fff9b6"/><rect x="538.8" y="31.5" width="4.8" height="4.8" fill="#ffffbf"/><rect x="543.1" y="31.5" width="4.8" height="4.8" fill="#ffffbf"/><rect x="547.4" y="31.5" width="4.8" height="4.8" fill="#ffffbf"/><rect x="551.8" y="31.5" width="4.8" height="4.8" fill="#ffffbf"/><rect x="556.1" y="31.5" width="4.8" height="4.8" fill="#ffffbf"/><rect x="560.4" y="31.5" width="4.8" height="4.8" fill="#ffffbf"/><rect x="564.7" y="31.5" width="4.8" height="4.8" fill="#ffffbf"/><rect x="569.0" y="31.5" width="4.8" height="4.8" fill="#ffffbf"/><rect x="573.3" y="31.5" width="4.8" height="4.8" fill="#ffffbf"/><rect x="577.6" y="31.5" width="4.8" height="4.8" fill="#ffffbf"/><rect x="581.9" y="31.5" width="4.8" height="4.8" fill="#ffffbf"/><rect x="396.7" y="35.8" width="4.8" height="4.8" fill="#ffffbf"/><rect x="401.0" y="35.8" width="4.8" height="4.8" fill="#ffffbf"/><rect x="405.3" y="35.8" width="4.8" height="4.8" fill="#ffffbf"/><rect x="409.6" y="35.8" width="4.8" height="4.8" fill="#fff0a8"/><rect x="413.9" y="35.8" width="4.8" height="4.8" fill="#fec97a"/><rect x="418.2" y="35.8" width="4.8" height="4.8" fill="#fdb063"/><rect x="422.5" y="35.8" width="4.8" height="4.8" fill="#fdb063"/><rect x="426.8" y="35.8" width="4.8" height="4.8" fill="#fdbe70"/><rect x="431.1" y="35.8" width="4.8" height="4.8" fill="#fed888"/><rect x="435.5" y="35.8" width="4.8" height="4.8" fill="#fee496"/><rect x="439.8" y="35.8" width="4.8" height="4.8" fill="#fee79a"/><rect x="444.1" y="35.8" width="4.8" height="4.8" fill="#fee99e"/><rect x="448.4" y="35.8" width="4.8" height="4.8" fill="#feeca2"/><rect x="452.7" y="35.8" width="4.8" height="4.8" fill="#feeea5"/><rect x="457.0" y="35.8" width="4.8" height="4.8" fill="#feeea5"/><rect x="461.3" y="35.8" width="4.8" height="4.8" fill="#fffcba"/><rect x="465.6" y="35.8" width="4.8" height="4.8" fill="#e6f5ec"/><rect x="469.9" y="35.8" width="4.8" height="4.8" fill="#b8e0ed"/><rect x="474.2" y="35.8" width="4.8" height="4.8" fill="#82b8d7"/><rect x="478.5" y="35.8" width="4.8" height="4.8" fill="#74add1"/><rect x="482.8" y="35.8" width="4.8" height="4.8" fill="#90c3dd"/><rect x="487.1" y="35.8" width="4.8" height="4.8" fill="#aedbea"/><rect x="491.5" y="35.8" width="4.8" height="4.8" fill="#cfebf3"/><rect x="495.8" y="35.8" width="4.8" height="4.8" fill="#e8f6ea"/><rect x="500.1" y="35.8" width="4.8" height="4.8" fill="#f7fccd"/><rect x="504.4" y="35.8" width="4.8" height="4.8" fill="#fffbb8"/><rect x="508.7" y="35.8" width="4.8" height="4.8" fill="#fff2ab"/><rect x="513.0" y="35.8" width="4.8" height="4.8" fill="#feeca2"/><rect x="517.3" y="35.8" width="4.8" height="4.8" fill="#fee99e"/><rect x="521.6" y="35.8" width="4.8" height="4.8" fill="#fee79a"/><rect x="525.9" y="35.8" width="4.8" height="4.8" fill="#fee496"/><rect x="530.2" y="35.8" width="4.8" height="4.8" fill="#fee99d"/><rect x="534.5" y="35.8" width="4.8" height="4.8" fill="#fff4ae"/><rect x="538.8" y="35.8" width="4.8" height="4.8" fill="#fffbb8"/><rect x="543.1" y="35.8" width="4.8" height="4.8" fill="#fffebd"/><rect x="547.4" y="35.8" width="4.8" height="4.8" fill="#ffffbf"/><rect x="551.8" y="35.8" width="4.8" height="4.8" fill="#ffffbf"/><rect x="556.1" y="35.8" width="4.8" height="4.8" fill="#fdfec3"/><rect x="560.4" y="35.8" width="4.8" height="4.8" fill="#f9fdca"/><rect x="564.7" y="35.8" width="4.8" height="4.8" fill="#f7fccd"/><rect x="569.0" y="35.8" width="4.8" height="4.8" fill="#f7fccd"/><rect x="573.3" y="35.8" width="4.8" height="4.8" fill="#f7fccd"/><rect x="577.6" y="35.8" width="4.8" height="4.8" fill="#f7fccd"/><rect x="581.9" y="35.8" width="4.8" height="4.8" fill="#f7fccd"/><rect x="396.7" y="40.1" width="4.8" height="4.8" fill="#ffffbf"/><rect x="401.0" y="40.1" width="4.8" height="4.8" fill="#ffffbf"/><rect x="405.3" y="40.1" width="4.8" height="4.8" fill="#ffffbf"/><rect x="409.6" y="40.1" width="4.8" height="4.8" fill="#fff0a8"/><rect x="413.9" y="40.1" width="4.8" height="4.8" fill="#fec97a"/><rect x="418.2" y="40.1" width="4.8" height="4.8" fill="#fdb063"/><rect x="422.5" y="40.1" width="4.8" height="4.8" fill="#fdb063"/><rect x="426.8" y="40.1" width="4.8" height="4.8" fill="#fdba6c"/><rect x="431.1" y="40.1" width="4.8" height="4.8" fill="#fecd7e"/><rect x="435.5" y="40.1" width="4.8" height="4.8" fill="#fedc8c"/><rect x="439.8" y="40.1" width="4.8" height="4.8" fill="#fee496"/><rect x="444.1" y="40.1" width="4.8" height="4.8" fill="#feeca2"/><rect x="448.4" y="40.1" width="4.8" height="4.8" fill="#fff5b0"/><rect x="452.7" y="40.1" width="4.8" height="4.8" fill="#fff9b6"/><rect x="457.0" y="40.1" width="4.8" height="4.8" fill="#fff9b6"/><rect x="461.3" y="40.1" width="4.8" height="4.8" fill="#f6fbd0"/><rect x="465.6" y="40.1" width="4.8" height="4.8" fill="#d2ecf4"/><rect x="469.9" y="40.1" width="4.8" height="4.8" fill="#9dcee3"/><rect x="474.2" y="40.1" width="4.8" height="4.8" fill="#689fca"/><rect x="478.5" y="40.1" width="4.8" height="4.8" fill="#5d91c2"/><rect x="482.8" y="40.1" width="4.8" height="4.8" fill="#74add1"/><rect x="487.1" y="40.1" width="4.8" height="4.8" fill="#9acbe2"/><rect x="491.5" y="40.1" width="4.8" height="4.8" fill="#c9e8f1"/><rect x="495.8" y="40.1" width="4.8" height="4.8" fill="#e8f6ea"/><rect x="500.1" y="40.1" width="4.8" height="4.8" fill="#f7fccd"/><rect x="504.4" y="40.1" width="4.8" height="4.8" fill="#fffebd"/><rect x="508.7" y="40.1" width="4.8" height="4.8" fill="#fffbb8"/><rect x="513.0" y="40.1" width="4.8" height="4.8" fill="#fff5b0"/><rect x="517.3" y="40.1" width="4.8" height="4.8" fill="#feeca2"/><rect x="521.6" y="40.1" width="4.8" height="4.8" fill="#fee496"/><rect x="525.9" y="40.1" width="4.8" height="4.8" fill="#fedc8c"/><rect x="530.2" y="40.1" width="4.8" height="4.8" fill="#fede8e"/><rect x="534.5" y="40.1" width="4.8" height="4.8" fill="#fee99d"/><rect x="538.8" y="40.1" width="4.8" height="4.8" fill="#fff2ab"/><rect x="543.1" y="40.1" width="4.8" height="4.8" fill="#fffbb8"/><rect x="547.4" y="40.1" width="4.8" height="4.8" fill="#ffffbf"/><rect x="551.8" y="40.1" width="4.8" height="4.8" fill="#ffffbf"/><rect x="556.1" y="40.1" width="4.8" height="4.8" fill="#f9fdca"/><rect x="560.4" y="40.1" width="4.8" height="4.8" fill="#eef8df"/><rect x="564.7" y="40.1" width="4.8" height="4.8" fill="#e8f6ea"/><rect x="569.0" y="40.1" width="4.8" height="4.8" fill="#e8f6ea"/><rect x="573.3" y="40.1" width="4.8" height="4.8" fill="#e8f6ea"/><rect x="577.6" y="40.1" width="4.8" height="4.8" fill="#e8f6ea"/><rect x="581.9" y="40.1" width="4.8" height="4.8" fill="#e8f6ea"/><rect x="396.7" y="44.4" width="4.8" height="4.8" fill="#ffffbf"/><rect x="401.0" y="44.4" width="4.8" height="4.8" fill="#ffffbf"/><rect x="405.3" y="44.4" width="4.8" height="4.8" fill="#ffffbf"/><rect x="409.6" y="44.4" width="4.8" height="4.8" fill="#fff2ac"/><rect x="413.9" y="44.4" width="4.8" height="4.8" fill="#fed485"/><rect x="418.2" y="44.4" width="4.8" height="4.8" fill="#fdc071"/><rect x="422.5" y="44.4" width="4.8" height="4.8" fill="#fdc071"/><rect x="426.8" y="44.4" width="4.8" height="4.8" fill="#fecb7c"/><rect x="431.1" y="44.4" width="4.8" height="4.8" fill="#fee091"/><rect x="435.5" y="44.4" width="4.8" height="4.8" fill="#feeda3"/><rect x="439.8" y="44.4" width="4.8" height="4.8" fill="#fff8b4"/><rect x="444.1" y="44.4" width="4.8" height="4.8" fill="#ffffc0"/><rect x="448.4" y="44.4" width="4.8" height="4.8" fill="#fafdc9"/><rect x="452.7" y="44.4" width="4.8" height="4.8" fill="#f9fdca"/><rect x="457.0" y="44.4" width="4.8" height="4.8" fill="#fdfec3"/><rect x="461.3" y="44.4" width="4.8" height="4.8" fill="#f0f9dc"/><rect x="465.6" y="44.4" width="4.8" height="4.8" fill="#c6e6f0"/><rect x="469.9" y="44.4" width="4.8" height="4.8" fill="#90c3dd"/><rect x="474.2" y="44.4" width="4.8" height="4.8" fill="#5d91c2"/><rect x="478.5" y="44.4" width="4.8" height="4.8" fill="#5486bd"/><rect x="482.8" y="44.4" width="4.8" height="4.8" fill="#71aacf"/><rect x="487.1" y="44.4" width="4.8" height="4.8" fill="#9acbe2"/><rect x="491.5" y="44.4" width="4.8" height="4.8" fill="#c9e8f1"/><rect x="495.8" y="44.4" width="4.8" height="4.8" fill="#e6f5ed"/><rect x="500.1" y="44.4" width="4.8" height="4.8" fill="#f1fad8"/><rect x="504.4" y="44.4" width="4.8" height="4.8" fill="#f9fdca"/><rect x="508.7" y="44.4" width="4.8" height="4.8" fill="#fdfec3"/><rect x="513.0" y="44.4" width="4.8" height="4.8" fill="#fff9b6"/><rect x="517.3" y="44.4" width="4.8" height="4.8" fill="#feeea5"/><rect x="521.6" y="44.4" width="4.8" height="4.8" fill="#fee395"/><rect x="525.9" y="44.4" width="4.8" height="4.8" fill="#fed687"/><rect x="530.2" y="44.4" width="4.8" height="4.8" fill="#fed889"/><rect x="534.5" y="44.4" width="4.8" height="4.8" fill="#fee79b"/><rect x="538.8" y="44.4" width="4.8" height="4.8" fill="#fff4ae"/><rect x="543.1" y="44.4" width="4.8" height="4.8" fill="#fefec2"/><rect x="547.4" y="44.4" width="4.8" height="4.8" fill="#f5fbd1"/><rect x="551.8" y="44.4" width="4.8" height="4.8" fill="#f1fad8"/><rect x="556.1" y="44.4" width="4.8" height="4.8" fill="#e8f6ea"/><rect x="560.4" y="44.4" width="4.8" height="4.8" fill="#d3ecf4"/><rect x="564.7" y="44.4" width="4.8" height="4.8" fill="#c6e6f0"/><rect x="569.0" y="44.4" width="4.8" height="4.8" fill="#c6e6f0"/><rect x="573.3" y="44.4" width="4.8" height="4.8" fill="#c6e6f0"/><rect x="577.6" y="44.4" width="4.8" height="4.8" fill="#c6e6f0"/><rect x="581.9" y="44.4" width="4.8" height="4.8" fill="#c6e6f0"/><rect x="396.7" y="48.7" width="4.8" height="4.8" fill="#ffffbf"/><rect x="401.0" y="48.7" width="4.8" height="4.8" fill="#ffffbf"/><rect x="405.3" y="48.7" width="4.8" height="4.8" fill="#ffffbf"/><rect x="409.6" y="48.7" width="4.8" height="4.8" fill="#fff7b3"/><rect x="413.9" y="48.7" width="4.8" height="4.8" fill="#fee79a"/><rect x="418.2" y="48.7" width="4.8" height="4.8" fill="#fede8e"/><rect x="422.5" y="48.7" width="4.8" height="4.8" fill="#fede8e"/><rect x="426.8" y="48.7" width="4.8" height="4.8" fill="#feea9f"/><rect x="431.1" y="48.7" width="4.8" height="4.8" fill="#fefec2"/><rect x="435.5" y="48.7" width="4.8" height="4.8" fill="#ebf7e3"/><rect x="439.8" y="48.7" width="4.8" height="4.8" fill="#dbf1f7"/><rect x="444.1" y="48.7" width="4.8" height="4.8" fill="#d7eff5"/><rect x="448.4" y="48.7" width="4.8" height="4.8" fill="#e3f4f2"/><rect x="452.7" y="48.7" width="4.8" height="4.8" fill="#eef8df"/><rect x="457.0" y="48.7" width="4.8" height="4.8" fill="#f9fdca"/><rect x="461.3" y="48.7" width="4.8" height="4.8" fill="#f0f9dc"/><rect x="465.6" y="48.7" width="4.8" height="4.8" fill="#c6e6f0"/><rect x="469.9" y="48.7" width="4.8" height="4.8" fill="#90c3dd"/><rect x="474.2" y="48.7" width="4.8" height="4.8" fill="#5d91c2"/><rect x="478.5" y="48.7" width="4.8" height="4.8" fill="#5a8ec1"/><rect x="482.8" y="48.7" width="4.8" height="4.8" fill="#85bbd8"/><rect x="487.1" y="48.7" width="4.8" height="4.8" fill="#aedbea"/><rect x="491.5" y="48.7" width="4.8" height="4.8" fill="#cfebf3"/><rect x="495.8" y="48.7" width="4.8" height="4.8" fill="#e2f4f4"/><rect x="500.1" y="48.7" width="4.8" height="4.8" fill="#e6f5ed"/><rect x="504.4" y="48.7" width="4.8" height="4.8" fill="#eef8df"/><rect x="508.7" y="48.7" width="4.8" height="4.8" fill="#f9fdca"/><rect x="513.0" y="48.7" width="4.8" height="4.8" fill="#fff9b6"/><rect x="517.3" y="48.7" width="4.8" height="4.8" fill="#feeea5"/><rect x="521.6" y="48.7" width="4.8" height="4.8" fill="#fee395"/><rect x="525.9" y="48.7" width="4.8" height="4.8" fill="#fed687"/><rect x="530.2" y="48.7" width="4.8" height="4.8" fill="#fedd8d"/><rect x="534.5" y="48.7" width="4.8" height="4.8" fill="#fff0a9"/><rect x="538.8" y="48.7" width="4.8" height="4.8" fill="#fefec2"/><rect x="543.1" y="48.7" width="4.8" height="4.8" fill="#eff9dc"/><rect x="547.4" y="48.7" width="4.8" height="4.8" fill="#e2f4f4"/><rect x="551.8" y="48.7" width="4.8" height="4.8" fill="#cfebf3"/><rect x="556.1" y="48.7" width="4.8" height="4.8" fill="#b8dfed"/><rect x="560.4" y="48.7" width="4.8" height="4.8" fill="#9dcee3"/><rect x="564.7" y="48.7" width="4.8" height="4.8" fill="#90c3dd"/><rect x="569.0" y="48.7" width="4.8" height="4.8" fill="#90c3dd"/><rect x="573.3" y="48.7" width="4.8" height="4.8" fill="#90c3dd"/><rect x="577.6" y="48.7" width="4.8" height="4.8" fill="#90c3dd"/><rect x="581.9" y="48.7" width="4.8" height="4.8" fill="#90c3dd"/><rect x="396.7" y="53.0" width="4.8" height="4.8" fill="#ffffbf"/><rect x="401.0" y="53.0" width="4.8" height="4.8" fill="#ffffbf"/><rect x="405.3" y="53.0" width="4.8" height="4.8" fill="#ffffbf"/><rect x="409.6" y="53.0" width="4.8" height="4.8" fill="#fffbb8"/><rect x="413.9" y="53.0" width="4.8" height="4.8" fill="#fff2ab"/><rect x="418.2" y="53.0" width="4.8" height="4.8" fill="#fef0a8"/><rect x="422.5" y="53.0" width="4.8" height="4.8" fill="#fff3ad"/><rect x="426.8" y="53.0" width="4.8" height="4.8" fill="#fdfec3"/><rect x="431.1" y="53.0" width="4.8" height="4.8" fill="#e4f5f0"/><rect x="435.5" y="53.0" width="4.8" height="4.8" fill="#c9e8f1"/><rect x="439.8" y="53.0" width="4.8" height="4.8" fill="#b5deec"/><rect x="444.1" y="53.0" width="4.8" height="4.8" fill="#b8e0ed"/><rect x="448.4" y="53.0" width="4.8" height="4.8" fill="#d3ecf4"/><rect x="452.7" y="53.0" width="4.8" height="4.8" fill="#e9f7e7"/><rect x="457.0" y="53.0" width="4.8" height="4.8" fill="#fcfec5"/><rect x="461.3" y="53.0" width="4.8" height="4.8" fill="#f6fbd0"/><rect x="465.6" y="53.0" width="4.8" height="4.8" fill="#d2ecf4"/><rect x="469.9" y="53.0" width="4.8" height="4.8" fill="#a1d1e4"/><rect x="474.2" y="53.0" width="4.8" height="4.8" fill="#71aacf"/><rect x="478.5" y="53.0" width="4.8" height="4.8" fill="#71aacf"/><rect x="482.8" y="53.0" width="4.8" height="4.8" fill="#a1d1e4"/><rect x="487.1" y="53.0" width="4.8" height="4.8" fill="#bfe3ef"/><rect x="491.5" y="53.0" width="4.8" height="4.8" fill="#cce9f2"/><rect x="495.8" y="53.0" width="4.8" height="4.8" fill="#d3ecf4"/><rect x="500.1" y="53.0" width="4.8" height="4.8" fill="#d3ecf4"/><rect x="504.4" y="53.0" width="4.8" height="4.8" fill="#e0f3f8"/><rect x="508.7" y="53.0" width="4.8" height="4.8" fill="#f0f9dc"/><rect x="513.0" y="53.0" width="4.8" height="4.8" fill="#fefec2"/><rect x="517.3" y="53.0" width="4.8" height="4.8" fill="#fff4ae"/><rect x="521.6" y="53.0" width="4.8" height="4.8" fill="#fee99d"/><rect x="525.9" y="53.0" width="4.8" height="4.8" fill="#fede8e"/><rect x="530.2" y="53.0" width="4.8" height="4.8" fill="#fee598"/><rect x="534.5" y="53.0" width="4.8" height="4.8" fill="#fffcba"/><rect x="538.8" y="53.0" width="4.8" height="4.8" fill="#f0f9dc"/><rect x="543.1" y="53.0" width="4.8" height="4.8" fill="#e0f3f8"/><rect x="547.4" y="53.0" width="4.8" height="4.8" fill="#c6e6f0"/><rect x="551.8" y="53.0" width="4.8" height="4.8" fill="#abd9e9"/><rect x="556.1" y="53.0" width="4.8" height="4.8" fill="#90c3dd"/><rect x="560.4" y="53.0" width="4.8" height="4.8" fill="#74add1"/><rect x="564.7" y="53.0" width="4.8" height="4.8" fill="#689fca"/><rect x="569.0" y="53.0" width="4.8" height="4.8" fill="#689fca"/><rect x="573.3" y="53.0" width="4.8" height="4.8" fill="#689fca"/><rect x="577.6" y="53.0" width="4.8" height="4.8" fill="#689fca"/><rect x="581.9" y="53.0" width="4.8" height="4.8" fill="#689fca"/><rect x="396.7" y="57.3" width="4.8" height="4.8" fill="#ffffbf"/><rect x="401.0" y="57.3" width="4.8" height="4.8" fill="#ffffbf"/><rect x="405.3" y="57.3" width="4.8" height="4.8" fill="#ffffbf"/><rect x="409.6" y="57.3" width="4.8" height="4.8" fill="#fffebd"/><rect x="413.9" y="57.3" width="4.8" height="4.8" fill="#fffbb8"/><rect x="418.2" y="57.3" width="4.8" height="4.8" fill="#ffffbf"/><rect x="422.5" y="57.3" width="4.8" height="4.8" fill="#f3fad4"/><rect x="426.8" y="57.3" width="4.8" height="4.8" fill="#e4f5f0"/><rect x="431.1" y="57.3" width="4.8" height="4.8" fill="#c8e7f1"/><rect x="435.5" y="57.3" width="4.8" height="4.8" fill="#b5deec"/><rect x="439.8" y="57.3" width="4.8" height="4.8" fill="#aedbea"/><rect x="444.1" y="57.3" width="4.8" height="4.8" fill="#b8dfed"/><rect x="448.4" y="57.3" width="4.8" height="4.8" fill="#d3ecf4"/><rect x="452.7" y="57.3" width="4.8" height="4.8" fill="#ecf8e2"/><rect x="457.0" y="57.3" width="4.8" height="4.8" fill="#fffab7"/><rect x="461.3" y="57.3" width="4.8" height="4.8" fill="#fffcba"/><rect x="465.6" y="57.3" width="4.8" height="4.8" fill="#e6f5ec"/><rect x="469.9" y="57.3" width="4.8" height="4.8" fill="#c2e4f0"/><rect x="474.2" y="57.3" width="4.8" height="4.8" fill="#a1d1e4"/><rect x="478.5" y="57.3" width="4.8" height="4.8" fill="#a1d1e4"/><rect x="482.8" y="57.3" width="4.8" height="4.8" fill="#c2e4f0"/><rect x="487.1" y="57.3" width="4.8" height="4.8" fill="#cce9f2"/><rect x="491.5" y="57.3" width="4.8" height="4.8" fill="#bfe3ef"/><rect x="495.8" y="57.3" width="4.8" height="4.8" fill="#b8dfed"/><rect x="500.1" y="57.3" width="4.8" height="4.8" fill="#b8dfed"/><rect x="504.4" y="57.3" width="4.8" height="4.8" fill="#c6e6f0"/><rect x="508.7" y="57.3" width="4.8" height="4.8" fill="#e0f3f8"/><rect x="513.0" y="57.3" width="4.8" height="4.8" fill="#eff9dc"/><rect x="517.3" y="57.3" width="4.8" height="4.8" fill="#fefec2"/><rect x="521.6" y="57.3" width="4.8" height="4.8" fill="#fff4ae"/><rect x="525.9" y="57.3" width="4.8" height="4.8" fill="#fee99d"/><rect x="530.2" y="57.3" width="4.8" height="4.8" fill="#fff0a8"/><rect x="534.5" y="57.3" width="4.8" height="4.8" fill="#f5fbd2"/><rect x="538.8" y="57.3" width="4.8" height="4.8" fill="#e0f3f8"/><rect x="543.1" y="57.3" width="4.8" height="4.8" fill="#c6e6f0"/><rect x="547.4" y="57.3" width="4.8" height="4.8" fill="#abd9e9"/><rect x="551.8" y="57.3" width="4.8" height="4.8" fill="#90c3dd"/><rect x="556.1" y="57.3" width="4.8" height="4.8" fill="#74add1"/><rect x="560.4" y="57.3" width="4.8" height="4.8" fill="#5d91c2"/><rect x="564.7" y="57.3" width="4.8" height="4.8" fill="#5183bb"/><rect x="569.0" y="57.3" width="4.8" height="4.8" fill="#5183bb"/><rect x="573.3" y="57.3" width="4.8" height="4.8" fill="#5183bb"/><rect x="577.6" y="57.3" width="4.8" height="4.8" fill="#5183bb"/><rect x="581.9" y="57.3" width="4.8" height="4.8" fill="#5183bb"/><rect x="396.7" y="61.7" width="4.8" height="4.8" fill="#fff9b6"/><rect x="401.0" y="61.7" width="4.8" height="4.8" fill="#fff9b6"/><rect x="405.3" y="61.7" width="4.8" height="4.8" fill="#fff9b6"/><rect x="409.6" y="61.7" width="4.8" height="4.8" fill="#fffbb8"/><rect x="413.9" y="61.7" width="4.8" height="4.8" fill="#fffebd"/><rect x="418.2" y="61.7" width="4.8" height="4.8" fill="#f7fccd"/><rect x="422.5" y="61.7" width="4.8" height="4.8" fill="#e8f6ea"/><rect x="426.8" y="61.7" width="4.8" height="4.8" fill="#d3ecf4"/><rect x="431.1" y="61.7" width="4.8" height="4.8" fill="#b8dfed"/><rect x="435.5" y="61.7" width="4.8" height="4.8" fill="#aedbea"/><rect x="439.8" y="61.7" width="4.8" height="4.8" fill="#b5deec"/><rect x="444.1" y="61.7" width="4.8" height="4.8" fill="#c8e7f1"/><rect x="448.4" y="61.7" width="4.8" height="4.8" fill="#e4f5f0"/><rect x="452.7" y="61.7" width="4.8" height="4.8" fill="#f9fdca"/><rect x="457.0" y="61.7" width="4.8" height="4.8" fill="#feeea6"/><rect x="461.3" y="61.7" width="4.8" height="4.8" fill="#fff0a8"/><rect x="465.6" y="61.7" width="4.8" height="4.8" fill="#f5fbd2"/><rect x="469.9" y="61.7" width="4.8" height="4.8" fill="#e0f3f8"/><rect x="474.2" y="61.7" width="4.8" height="4.8" fill="#c6e6f0"/><rect x="478.5" y="61.7" width="4.8" height="4.8" fill="#bfe3ef"/><rect x="482.8" y="61.7" width="4.8" height="4.8" fill="#cce9f2"/><rect x="487.1" y="61.7" width="4.8" height="4.8" fill="#c9e8f1"/><rect x="491.5" y="61.7" width="4.8" height="4.8" fill="#b5deec"/><rect x="495.8" y="61.7" width="4.8" height="4.8" fill="#abd9e9"/><rect x="500.1" y="61.7" width="4.8" height="4.8" fill="#abd9e9"/><rect x="504.4" y="61.7" width="4.8" height="4.8" fill="#b5deec"/><rect x="508.7" y="61.7" width="4.8" height="4.8" fill="#c9e8f1"/><rect x="513.0" y="61.7" width="4.8" height="4.8" fill="#e0f3f8"/><rect x="517.3" y="61.7" width="4.8" height="4.8" fill="#f0f9dc"/><rect x="521.6" y="61.7" width="4.8" height="4.8" fill="#fefec2"/><rect x="525.9" y="61.7" width="4.8" height="4.8" fill="#fff4ae"/><rect x="530.2" y="61.7" width="4.8" height="4.8" fill="#fffab7"/><rect x="534.5" y="61.7" width="4.8" height="4.8" fill="#ecf8e2"/><rect x="538.8" y="61.7" width="4.8" height="4.8" fill="#d3ecf4"/><rect x="543.1" y="61.7" width="4.8" height="4.8" fill="#b8dfed"/><rect x="547.4" y="61.7" width="4.8" height="4.8" fill="#9dcee3"/><rect x="551.8" y="61.7" width="4.8" height="4.8" fill="#82b8d7"/><rect x="556.1" y="61.7" width="4.8" height="4.8" fill="#689fca"/><rect x="560.4" y="61.7" width="4.8" height="4.8" fill="#5183bb"/><rect x="564.7" y="61.7" width="4.8" height="4.8" fill="#4878b6"/><rect x="569.0" y="61.7" width="4.8" height="4.8" fill="#4e80b9"/><rect x="573.3" y="61.7" width="4.8" height="4.8" fill="#5183bb"/><rect x="577.6" y="61.7" width="4.8" height="4.8" fill="#5183bb"/><rect x="581.9" y="61.7" width="4.8" height="4.8" fill="#5183bb"/><rect x="396.7" y="66.0" width="4.8" height="4.8" fill="#feeea5"/><rect x="401.0" y="66.0" width="4.8" height="4.8" fill="#feeea5"/><rect x="405.3" y="66.0" width="4.8" height="4.8" fill="#feeea5"/><rect x="409.6" y="66.0" width="4.8" height="4.8" fill="#fff2ab"/><rect x="413.9" y="66.0" width="4.8" height="4.8" fill="#fffbb8"/><rect x="418.2" y="66.0" width="4.8" height="4.8" fill="#f7fccd"/><rect x="422.5" y="66.0" width="4.8" height="4.8" fill="#e8f6ea"/><rect x="426.8" y="66.0" width="4.8" height="4.8" fill="#d3ecf4"/><rect x="431.1" y="66.0" width="4.8" height="4.8" fill="#b8dfed"/><rect x="435.5" y="66.0" width="4.8" height="4.8" fill="#b5deec"/><rect x="439.8" y="66.0" width="4.8" height="4.8" fill="#c9e8f1"/><rect x="444.1" y="66.0" width="4.8" height="4.8" fill="#e4f5f0"/><rect x="448.4" y="66.0" width="4.8" height="4.8" fill="#fdfec3"/><rect x="452.7" y="66.0" width="4.8" height="4.8" fill="#feeea6"/><rect x="457.0" y="66.0" width="4.8" height="4.8" fill="#fee191"/><rect x="461.3" y="66.0" width="4.8" height="4.8" fill="#fee598"/><rect x="465.6" y="66.0" width="4.8" height="4.8" fill="#fffcba"/><rect x="469.9" y="66.0" width="4.8" height="4.8" fill="#f0f9dc"/><rect x="474.2" y="66.0" width="4.8" height="4.8" fill="#e0f3f8"/><rect x="478.5" y="66.0" width="4.8" height="4.8" fill="#cce9f2"/><rect x="482.8" y="66.0" width="4.8" height="4.8" fill="#bfe3ef"/><rect x="487.1" y="66.0" width="4.8" height="4.8" fill="#b5deec"/><rect x="491.5" y="66.0" width="4.8" height="4.8" fill="#aedbea"/><rect x="495.8" y="66.0" width="4.8" height="4.8" fill="#abd9e9"/><rect x="500.1" y="66.0" width="4.8" height="4.8" fill="#abd9e9"/><rect x="504.4" y="66.0" width="4.8" height="4.8" fill="#aedbea"/><rect x="508.7" y="66.0" width="4.8" height="4.8" fill="#b5deec"/><rect x="513.0" y="66.0" width="4.8" height="4.8" fill="#c6e6f0"/><rect x="517.3" y="66.0" width="4.8" height="4.8" fill="#e0f3f8"/><rect x="521.6" y="66.0" width="4.8" height="4.8" fill="#eff9dc"/><rect x="525.9" y="66.0" width="4.8" height="4.8" fill="#fefec2"/><rect x="530.2" y="66.0" width="4.8" height="4.8" fill="#fcfec5"/><rect x="534.5" y="66.0" width="4.8" height="4.8" fill="#e9f7e7"/><rect x="538.8" y="66.0" width="4.8" height="4.8" fill="#d3ecf4"/><rect x="543.1" y="66.0" width="4.8" height="4.8" fill="#b8dfed"/><rect x="547.4" y="66.0" width="4.8" height="4.8" fill="#9dcee3"/><rect x="551.8" y="66.0" width="4.8" height="4.8" fill="#82b8d7"/><rect x="556.1" y="66.0" width="4.8" height="4.8" fill="#689fca"/><rect x="560.4" y="66.0" width="4.8" height="4.8" fill="#5183bb"/><rect x="564.7" y="66.0" width="4.8" height="4.8" fill="#4e80b9"/><rect x="569.0" y="66.0" width="4.8" height="4.8" fill="#5f94c4"/><rect x="573.3" y="66.0" width="4.8" height="4.8" fill="#689fca"/><rect x="577.6" y="66.0" width="4.8" height="4.8" fill="#689fca"/><rect x="581.9" y="66.0" width="4.8" height="4.8" fill="#689fca"/><rect x="396.7" y="70.3" width="4.8" height="4.8" fill="#fee395"/><rect x="401.0" y="70.3" width="4.8" height="4.8" fill="#fee395"/><rect x="405.3" y="70.3" width="4.8" height="4.8" fill="#fee395"/><rect x="409.6" y="70.3" width="4.8" height="4.8" fill="#fee99d"/><rect x="413.9" y="70.3" width="4.8" height="4.8" fill="#fff4ae"/><rect x="418.2" y="70.3" width="4.8" height="4.8" fill="#fcfec5"/><rect x="422.5" y="70.3" width="4.8" height="4.8" fill="#e9f7e7"/><rect x="426.8" y="70.3" width="4.8" height="4.8" fill="#d3ecf4"/><rect x="431.1" y="70.3" width="4.8" height="4.8" fill="#b8dfed"/><rect x="435.5" y="70.3" width="4.8" height="4.8" fill="#b8e0ed"/><rect x="439.8" y="70.3" width="4.8" height="4.8" fill="#d3ecf4"/><rect x="444.1" y="70.3" width="4.8" height="4.8" fill="#eaf7e5"/><rect x="448.4" y="70.3" width="4.8" height="4.8" fill="#ffffc0"/><rect x="452.7" y="70.3" width="4.8" height="4.8" fill="#fff0a8"/><rect x="457.0" y="70.3" width="4.8" height="4.8" fill="#fee598"/><rect x="461.3" y="70.3" width="4.8" height="4.8" fill="#fee79b"/><rect x="465.6" y="70.3" width="4.8" height="4.8" fill="#fff7b3"/><rect x="469.9" y="70.3" width="4.8" height="4.8" fill="#f7fccd"/><rect x="474.2" y="70.3" width="4.8" height="4.8" fill="#e8f6ea"/><rect x="478.5" y="70.3" width="4.8" height="4.8" fill="#d3ecf4"/><rect x="482.8" y="70.3" width="4.8" height="4.8" fill="#b8dfed"/><rect x="487.1" y="70.3" width="4.8" height="4.8" fill="#abd9e9"/><rect x="491.5" y="70.3" width="4.8" height="4.8" fill="#abd9e9"/><rect x="495.8" y="70.3" width="4.8" height="4.8" fill="#a8d6e8"/><rect x="500.1" y="70.3" width="4.8" height="4.8" fill="#a1d1e4"/><rect x="504.4" y="70.3" width="4.8" height="4.8" fill="#a1d1e4"/><rect x="508.7" y="70.3" width="4.8" height="4.8" fill="#a8d6e7"/><rect x="513.0" y="70.3" width="4.8" height="4.8" fill="#b8e0ed"/><rect x="517.3" y="70.3" width="4.8" height="4.8" fill="#d3ecf4"/><rect x="521.6" y="70.3" width="4.8" height="4.8" fill="#e6f5ed"/><rect x="525.9" y="70.3" width="4.8" height="4.8" fill="#f1fad8"/><rect x="530.2" y="70.3" width="4.8" height="4.8" fill="#f1fad8"/><rect x="534.5" y="70.3" width="4.8" height="4.8" fill="#e6f5ed"/><rect x="538.8" y="70.3" width="4.8" height="4.8" fill="#d3ecf4"/><rect x="543.1" y="70.3" width="4.8" height="4.8" fill="#b8dfed"/><rect x="547.4" y="70.3" width="4.8" height="4.8" fill="#a1d1e4"/><rect x="551.8" y="70.3" width="4.8" height="4.8" fill="#8cc0dc"/><rect x="556.1" y="70.3" width="4.8" height="4.8" fill="#77b0d2"/><rect x="560.4" y="70.3" width="4.8" height="4.8" fill="#659cc8"/><rect x="564.7" y="70.3" width="4.8" height="4.8" fill="#659cc8"/><rect x="569.0" y="70.3" width="4.8" height="4.8" fill="#77b0d2"/><rect x="573.3" y="70.3" width="4.8" height="4.8" fill="#82b8d7"/><rect x="577.6" y="70.3" width="4.8" height="4.8" fill="#82b8d7"/><rect x="581.9" y="70.3" width="4.8" height="4.8" fill="#82b8d7"/><rect x="396.7" y="74.6" width="4.8" height="4.8" fill="#fed687"/><rect x="401.0" y="74.6" width="4.8" height="4.8" fill="#fed687"/><rect x="405.3" y="74.6" width="4.8" height="4.8" fill="#fed687"/><rect x="409.6" y="74.6" width="4.8" height="4.8" fill="#fede8e"/><rect x="413.9" y="74.6" width="4.8" height="4.8" fill="#fee99d"/><rect x="418.2" y="74.6" width="4.8" height="4.8" fill="#fffab7"/><rect x="422.5" y="74.6" width="4.8" height="4.8" fill="#ecf8e2"/><rect x="426.8" y="74.6" width="4.8" height="4.8" fill="#d3ecf4"/><rect x="431.1" y="74.6" width="4.8" height="4.8" fill="#b8dfed"/><rect x="435.5" y="74.6" width="4.8" height="4.8" fill="#b8dfed"/><rect x="439.8" y="74.6" width="4.8" height="4.8" fill="#d3ecf4"/><rect x="444.1" y="74.6" width="4.8" height="4.8" fill="#e3f4f2"/><rect x="448.4" y="74.6" width="4.8" height="4.8" fill="#eaf7e5"/><rect x="452.7" y="74.6" width="4.8" height="4.8" fill="#f5fbd2"/><rect x="457.0" y="74.6" width="4.8" height="4.8" fill="#fffcba"/><rect x="461.3" y="74.6" width="4.8" height="4.8" fill="#fff7b3"/><rect x="465.6" y="74.6" width="4.8" height="4.8" fill="#fffcbb"/><rect x="469.9" y="74.6" width="4.8" height="4.8" fill="#f7fccd"/><rect x="474.2" y="74.6" width="4.8" height="4.8" fill="#e8f6ea"/><rect x="478.5" y="74.6" width="4.8" height="4.8" fill="#d3ecf4"/><rect x="482.8" y="74.6" width="4.8" height="4.8" fill="#b8dfed"/><rect x="487.1" y="74.6" width="4.8" height="4.8" fill="#abd9e9"/><rect x="491.5" y="74.6" width="4.8" height="4.8" fill="#abd9e9"/><rect x="495.8" y="74.6" width="4.8" height="4.8" fill="#a1d1e4"/><rect x="500.1" y="74.6" width="4.8" height="4.8" fill="#8cc0dc"/><rect x="504.4" y="74.6" width="4.8" height="4.8" fill="#8cc0dc"/><rect x="508.7" y="74.6" width="4.8" height="4.8" fill="#a1d1e4"/><rect x="513.0" y="74.6" width="4.8" height="4.8" fill="#b8dfed"/><rect x="517.3" y="74.6" width="4.8" height="4.8" fill="#d3ecf4"/><rect x="521.6" y="74.6" width="4.8" height="4.8" fill="#e2f4f4"/><rect x="525.9" y="74.6" width="4.8" height="4.8" fill="#e6f5ed"/><rect x="530.2" y="74.6" width="4.8" height="4.8" fill="#e6f5ed"/><rect x="534.5" y="74.6" width="4.8" height="4.8" fill="#e2f4f4"/><rect x="538.8" y="74.6" width="4.8" height="4.8" fill="#d3ecf4"/><rect x="543.1" y="74.6" width="4.8" height="4.8" fill="#b8dfed"/><rect x="547.4" y="74.6" width="4.8" height="4.8" fill="#a8d6e7"/><rect x="551.8" y="74.6" width="4.8" height="4.8" fill="#a1d1e4"/><rect x="556.1" y="74.6" width="4.8" height="4.8" fill="#9acbe2"/><rect x="560.4" y="74.6" width="4.8" height="4.8" fill="#93c6de"/><rect x="564.7" y="74.6" width="4.8" height="4.8" fill="#93c6de"/><rect x="569.0" y="74.6" width="4.8" height="4.8" fill="#9acbe2"/><rect x="573.3" y="74.6" width="4.8" height="4.8" fill="#9dcee3"/><rect x="577.6" y="74.6" width="4.8" height="4.8" fill="#9dcee3"/><rect x="581.9" y="74.6" width="4.8" height="4.8" fill="#9dcee3"/><rect x="396.7" y="78.9" width="4.8" height="4.8" fill="#fec779"/><rect x="401.0" y="78.9" width="4.8" height="4.8" fill="#fec779"/><rect x="405.3" y="78.9" width="4.8" height="4.8" fill="#fec779"/><rect x="409.6" y="78.9" width="4.8" height="4.8" fill="#fed081"/><rect x="413.9" y="78.9" width="4.8" height="4.8" fill="#fee293"/><rect x="418.2" y="78.9" width="4.8" height="4.8" fill="#fff3ad"/><rect x="422.5" y="78.9" width="4.8" height="4.8" fill="#f3fad4"/><rect x="426.8" y="78.9" width="4.8" height="4.8" fill="#e0f3f8"/><rect x="431.1" y="78.9" width="4.8" height="4.8" fill="#c6e6f0"/><rect x="435.5" y="78.9" width="4.8" height="4.8" fill="#bfe3ef"/><rect x="439.8" y="78.9" width="4.8" height="4.8" fill="#cce9f2"/><rect x="444.1" y="78.9" width="4.8" height="4.8" fill="#d3ecf4"/><rect x="448.4" y="78.9" width="4.8" height="4.8" fill="#d3ecf4"/><rect x="452.7" y="78.9" width="4.8" height="4.8" fill="#e0f3f8"/><rect x="457.0" y="78.9" width="4.8" height="4.8" fill="#f0f9dc"/><rect x="461.3" y="78.9" width="4.8" height="4.8" fill="#f9fdca"/><rect x="465.6" y="78.9" width="4.8" height="4.8" fill="#fdfec3"/><rect x="469.9" y="78.9" width="4.8" height="4.8" fill="#f7fccd"/><rect x="474.2" y="78.9" width="4.8" height="4.8" fill="#e8f6ea"/><rect x="478.5" y="78.9" width="4.8" height="4.8" fill="#d6eef5"/><rect x="482.8" y="78.9" width="4.8" height="4.8" fill="#c2e4f0"/><rect x="487.1" y="78.9" width="4.8" height="4.8" fill="#b5deec"/><rect x="491.5" y="78.9" width="4.8" height="4.8" fill="#aedbea"/><rect x="495.8" y="78.9" width="4.8" height="4.8" fill="#a1d1e4"/><rect x="500.1" y="78.9" width="4.8" height="4.8" fill="#8cc0dc"/><rect x="504.4" y="78.9" width="4.8" height="4.8" fill="#90c3dd"/><rect x="508.7" y="78.9" width="4.8" height="4.8" fill="#abd9e9"/><rect x="513.0" y="78.9" width="4.8" height="4.8" fill="#c2e4f0"/><rect x="517.3" y="78.9" width="4.8" height="4.8" fill="#d6eef5"/><rect x="521.6" y="78.9" width="4.8" height="4.8" fill="#e0f3f8"/><rect x="525.9" y="78.9" width="4.8" height="4.8" fill="#e0f3f8"/><rect x="530.2" y="78.9" width="4.8" height="4.8" fill="#e0f3f8"/><rect x="534.5" y="78.9" width="4.8" height="4.8" fill="#e0f3f8"/><rect x="538.8" y="78.9" width="4.8" height="4.8" fill="#d6eef5"/><rect x="543.1" y="78.9" width="4.8" height="4.8" fill="#c2e4f0"/><rect x="547.4" y="78.9" width="4.8" height="4.8" fill="#b8e0ed"/><rect x="551.8" y="78.9" width="4.8" height="4.8" fill="#b8dfed"/><rect x="556.1" y="78.9" width="4.8" height="4.8" fill="#b8e0ed"/><rect x="560.4" y="78.9" width="4.8" height="4.8" fill="#b8dfed"/><rect x="564.7" y="78.9" width="4.8" height="4.8" fill="#bce1ee"/><rect x="569.0" y="78.9" width="4.8" height="4.8" fill="#c2e4f0"/><rect x="573.3" y="78.9" width="4.8" height="4.8" fill="#c6e6f0"/><rect x="577.6" y="78.9" width="4.8" height="4.8" fill="#c6e6f0"/><rect x="581.9" y="78.9" width="4.8" height="4.8" fill="#c6e6f0"/><rect x="396.7" y="83.2" width="4.8" height="4.8" fill="#fdb86a"/><rect x="401.0" y="83.2" width="4.8" height="4.8" fill="#fdb86a"/><rect x="405.3" y="83.2" width="4.8" height="4.8" fill="#fdb86a"/><rect x="409.6" y="83.2" width="4.8" height="4.8" fill="#fdc577"/><rect x="413.9" y="83.2" width="4.8" height="4.8" fill="#fedf8f"/><rect x="418.2" y="83.2" width="4.8" height="4.8" fill="#fef0a8"/><rect x="422.5" y="83.2" width="4.8" height="4.8" fill="#ffffbf"/><rect x="426.8" y="83.2" width="4.8" height="4.8" fill="#f0f9dc"/><rect x="431.1" y="83.2" width="4.8" height="4.8" fill="#e0f3f8"/><rect x="435.5" y="83.2" width="4.8" height="4.8" fill="#cce9f2"/><rect x="439.8" y="83.2" width="4.8" height="4.8" fill="#bfe3ef"/><rect x="444.1" y="83.2" width="4.8" height="4.8" fill="#b8dfed"/><rect x="448.4" y="83.2" width="4.8" height="4.8" fill="#b8dfed"/><rect x="452.7" y="83.2" width="4.8" height="4.8" fill="#c6e6f0"/><rect x="457.0" y="83.2" width="4.8" height="4.8" fill="#e0f3f8"/><rect x="461.3" y="83.2" width="4.8" height="4.8" fill="#eef8df"/><rect x="465.6" y="83.2" width="4.8" height="4.8" fill="#f9fdca"/><rect x="469.9" y="83.2" width="4.8" height="4.8" fill="#f7fccd"/><rect x="474.2" y="83.2" width="4.8" height="4.8" fill="#e8f6ea"/><rect x="478.5" y="83.2" width="4.8" height="4.8" fill="#ddf1f7"/><rect x="482.8" y="83.2" width="4.8" height="4.8" fill="#d6eef5"/><rect x="487.1" y="83.2" width="4.8" height="4.8" fill="#c9e8f1"/><rect x="491.5" y="83.2" width="4.8" height="4.8" fill="#b5deec"/><rect x="495.8" y="83.2" width="4.8" height="4.8" fill="#a8d6e7"/><rect x="500.1" y="83.2" width="4.8" height="4.8" fill="#a1d1e4"/><rect x="504.4" y="83.2" width="4.8" height="4.8" fill="#abd9e9"/><rect x="508.7" y="83.2" width="4.8" height="4.8" fill="#c6e6f0"/><rect x="513.0" y="83.2" width="4.8" height="4.8" fill="#d6eef5"/><rect x="517.3" y="83.2" width="4.8" height="4.8" fill="#ddf1f7"/><rect x="521.6" y="83.2" width="4.8" height="4.8" fill="#e0f3f8"/><rect x="525.9" y="83.2" width="4.8" height="4.8" fill="#e0f3f8"/><rect x="530.2" y="83.2" width="4.8" height="4.8" fill="#e0f3f8"/><rect x="534.5" y="83.2" width="4.8" height="4.8" fill="#e0f3f8"/><rect x="538.8" y="83.2" width="4.8" height="4.8" fill="#ddf1f7"/><rect x="543.1" y="83.2" width="4.8" height="4.8" fill="#d6eef5"/><rect x="547.4" y="83.2" width="4.8" height="4.8" fill="#d3ecf4"/><rect x="551.8" y="83.2" width="4.8" height="4.8" fill="#d3ecf4"/><rect x="556.1" y="83.2" width="4.8" height="4.8" fill="#d3ecf4"/><rect x="560.4" y="83.2" width="4.8" height="4.8" fill="#d3ecf4"/><rect x="564.7" y="83.2" width="4.8" height="4.8" fill="#ddf1f7"/><rect x="569.0" y="83.2" width="4.8" height="4.8" fill="#eaf7e6"/><rect x="573.3" y="83.2" width="4.8" height="4.8" fill="#f0f9dc"/><rect x="577.6" y="83.2" width="4.8" height="4.8" fill="#f0f9dc"/><rect x="581.9" y="83.2" width="4.8" height="4.8" fill="#f0f9dc"/><rect x="396.7" y="87.5" width="4.8" height="4.8" fill="#fec97a"/><rect x="401.0" y="87.5" width="4.8" height="4.8" fill="#fec97a"/><rect x="405.3" y="87.5" width="4.8" height="4.8" fill="#fec97a"/><rect x="409.6" y="87.5" width="4.8" height="4.8" fill="#fed485"/><rect x="413.9" y="87.5" width="4.8" height="4.8" fill="#fee79a"/><rect x="418.2" y="87.5" width="4.8" height="4.8" fill="#fff4ae"/><rect x="422.5" y="87.5" width="4.8" height="4.8" fill="#fefec2"/><rect x="426.8" y="87.5" width="4.8" height="4.8" fill="#f1fad8"/><rect x="431.1" y="87.5" width="4.8" height="4.8" fill="#e6f5ed"/><rect x="435.5" y="87.5" width="4.8" height="4.8" fill="#cfebf3"/><rect x="439.8" y="87.5" width="4.8" height="4.8" fill="#aedbea"/><rect x="444.1" y="87.5" width="4.8" height="4.8" fill="#9acbe2"/><rect x="448.4" y="87.5" width="4.8" height="4.8" fill="#93c6de"/><rect x="452.7" y="87.5" width="4.8" height="4.8" fill="#a1d1e4"/><rect x="457.0" y="87.5" width="4.8" height="4.8" fill="#c2e4f0"/><rect x="461.3" y="87.5" width="4.8" height="4.8" fill="#e0f3f8"/><rect x="465.6" y="87.5" width="4.8" height="4.8" fill="#f0f9dc"/><rect x="469.9" y="87.5" width="4.8" height="4.8" fill="#f3fad4"/><rect x="474.2" y="87.5" width="4.8" height="4.8" fill="#ecf8e3"/><rect x="478.5" y="87.5" width="4.8" height="4.8" fill="#e9f7e7"/><rect x="482.8" y="87.5" width="4.8" height="4.8" fill="#ecf8e2"/><rect x="487.1" y="87.5" width="4.8" height="4.8" fill="#e4f5f0"/><rect x="491.5" y="87.5" width="4.8" height="4.8" fill="#c8e7f1"/><rect x="495.8" y="87.5" width="4.8" height="4.8" fill="#b8e0ed"/><rect x="500.1" y="87.5" width="4.8" height="4.8" fill="#b8dfed"/><rect x="504.4" y="87.5" width="4.8" height="4.8" fill="#c6e6f0"/><rect x="508.7" y="87.5" width="4.8" height="4.8" fill="#e0f3f8"/><rect x="513.0" y="87.5" width="4.8" height="4.8" fill="#e8f6ea"/><rect x="517.3" y="87.5" width="4.8" height="4.8" fill="#e8f6ea"/><rect x="521.6" y="87.5" width="4.8" height="4.8" fill="#e8f6ea"/><rect x="525.9" y="87.5" width="4.8" height="4.8" fill="#e8f6ea"/><rect x="530.2" y="87.5" width="4.8" height="4.8" fill="#e8f6ea"/><rect x="534.5" y="87.5" width="4.8" height="4.8" fill="#e8f6ea"/><rect x="538.8" y="87.5" width="4.8" height="4.8" fill="#e6f5ed"/><rect x="543.1" y="87.5" width="4.8" height="4.8" fill="#e2f4f4"/><rect x="547.4" y="87.5" width="4.8" height="4.8" fill="#e0f3f8"/><rect x="551.8" y="87.5" width="4.8" height="4.8" fill="#e0f3f8"/><rect x="556.1" y="87.5" width="4.8" height="4.8" fill="#e2f4f4"/><rect x="560.4" y="87.5" width="4.8" height="4.8" fill="#e6f5ed"/><rect x="564.7" y="87.5" width="4.8" height="4.8" fill="#eef8df"/><rect x="569.0" y="87.5" width="4.8" height="4.8" fill="#f9fdca"/><rect x="573.3" y="87.5" width="4.8" height="4.8" fill="#ffffbf"/><rect x="577.6" y="87.5" width="4.8" height="4.8" fill="#ffffbf"/><rect x="581.9" y="87.5" width="4.8" height="4.8" fill="#ffffbf"/><rect x="396.7" y="91.8" width="4.8" height="4.8" fill="#fff0a8"/><rect x="401.0" y="91.8" width="4.8" height="4.8" fill="#fff0a8"/><rect x="405.3" y="91.8" width="4.8" height="4.8" fill="#fff0a8"/><rect x="409.6" y="91.8" width="4.8" height="4.8" fill="#fff2ac"/><rect x="413.9" y="91.8" width="4.8" height="4.8" fill="#fff7b3"/><rect x="418.2" y="91.8" width="4.8" height="4.8" fill="#fefec2"/><rect x="422.5" y="91.8" width="4.8" height="4.8" fill="#eff9dc"/><rect x="426.8" y="91.8" width="4.8" height="4.8" fill="#e6f5ed"/><rect x="431.1" y="91.8" width="4.8" height="4.8" fill="#e2f4f4"/><rect x="435.5" y="91.8" width="4.8" height="4.8" fill="#c9e8f1"/><rect x="439.8" y="91.8" width="4.8" height="4.8" fill="#9acbe2"/><rect x="444.1" y="91.8" width="4.8" height="4.8" fill="#77b0d2"/><rect x="448.4" y="91.8" width="4.8" height="4.8" fill="#659cc8"/><rect x="452.7" y="91.8" width="4.8" height="4.8" fill="#71aacf"/><rect x="457.0" y="91.8" width="4.8" height="4.8" fill="#a1d1e4"/><rect x="461.3" y="91.8" width="4.8" height="4.8" fill="#c6e6f0"/><rect x="465.6" y="91.8" width="4.8" height="4.8" fill="#e0f3f8"/><rect x="469.9" y="91.8" width="4.8" height="4.8" fill="#ecf8e3"/><rect x="474.2" y="91.8" width="4.8" height="4.8" fill="#f3fad4"/><rect x="478.5" y="91.8" width="4.8" height="4.8" fill="#fcfec5"/><rect x="482.8" y="91.8" width="4.8" height="4.8" fill="#fffab7"/><rect x="487.1" y="91.8" width="4.8" height="4.8" fill="#fdfec3"/><rect x="491.5" y="91.8" width="4.8" height="4.8" fill="#e4f5f0"/><rect x="495.8" y="91.8" width="4.8" height="4.8" fill="#d3ecf4"/><rect x="500.1" y="91.8" width="4.8" height="4.8" fill="#d3ecf4"/><rect x="504.4" y="91.8" width="4.8" height="4.8" fill="#e0f3f8"/><rect x="508.7" y="91.8" width="4.8" height="4.8" fill="#f0f9dc"/><rect x="513.0" y="91.8" width="4.8" height="4.8" fill="#f7fccd"/><rect x="517.3" y="91.8" width="4.8" height="4.8" fill="#f7fccd"/><rect x="521.6" y="91.8" width="4.8" height="4.8" fill="#f7fccd"/><rect x="525.9" y="91.8" width="4.8" height="4.8" fill="#f7fccd"/><rect x="530.2" y="91.8" width="4.8" height="4.8" fill="#f7fccd"/><rect x="534.5" y="91.8" width="4.8" height="4.8" fill="#f7fccd"/><rect x="538.8" y="91.8" width="4.8" height="4.8" fill="#f1fad8"/><rect x="543.1" y="91.8" width="4.8" height="4.8" fill="#e6f5ed"/><rect x="547.4" y="91.8" width="4.8" height="4.8" fill="#e0f3f8"/><rect x="551.8" y="91.8" width="4.8" height="4.8" fill="#e0f3f8"/><rect x="556.1" y="91.8" width="4.8" height="4.8" fill="#e6f5ed"/><rect x="560.4" y="91.8" width="4.8" height="4.8" fill="#f1fad8"/><rect x="564.7" y="91.8" width="4.8" height="4.8" fill="#f9fdca"/><rect x="569.0" y="91.8" width="4.8" height="4.8" fill="#fdfec3"/><rect x="573.3" y="91.8" width="4.8" height="4.8" fill="#ffffbf"/><rect x="577.6" y="91.8" width="4.8" height="4.8" fill="#ffffbf"/><rect x="581.9" y="91.8" width="4.8" height="4.8" fill="#ffffbf"/><rect x="396.7" y="96.1" width="4.8" height="4.8" fill="#f7fccd"/><rect x="401.0" y="96.1" width="4.8" height="4.8" fill="#f7fccd"/><rect x="405.3" y="96.1" width="4.8" height="4.8" fill="#f7fccd"/><rect x="409.6" y="96.1" width="4.8" height="4.8" fill="#f9fdca"/><rect x="413.9" y="96.1" width="4.8" height="4.8" fill="#fdfec3"/><rect x="418.2" y="96.1" width="4.8" height="4.8" fill="#f7fccd"/><rect x="422.5" y="96.1" width="4.8" height="4.8" fill="#e8f6ea"/><rect x="426.8" y="96.1" width="4.8" height="4.8" fill="#e0f3f8"/><rect x="431.1" y="96.1" width="4.8" height="4.8" fill="#e0f3f8"/><rect x="435.5" y="96.1" width="4.8" height="4.8" fill="#c2e4f0"/><rect x="439.8" y="96.1" width="4.8" height="4.8" fill="#85bbd8"/><rect x="444.1" y="96.1" width="4.8" height="4.8" fill="#5f94c4"/><rect x="448.4" y="96.1" width="4.8" height="4.8" fill="#4e80b9"/><rect x="452.7" y="96.1" width="4.8" height="4.8" fill="#5c91c2"/><rect x="457.0" y="96.1" width="4.8" height="4.8" fill="#90c3dd"/><rect x="461.3" y="96.1" width="4.8" height="4.8" fill="#bee2ee"/><rect x="465.6" y="96.1" width="4.8" height="4.8" fill="#e2f4f4"/><rect x="469.9" y="96.1" width="4.8" height="4.8" fill="#f3fad4"/><rect x="474.2" y="96.1" width="4.8" height="4.8" fill="#ffffbf"/><rect x="478.5" y="96.1" width="4.8" height="4.8" fill="#fff3ac"/><rect x="482.8" y="96.1" width="4.8" height="4.8" fill="#fee598"/><rect x="487.1" y="96.1" width="4.8" height="4.8" fill="#fee99d"/><rect x="491.5" y="96.1" width="4.8" height="4.8" fill="#fffdbc"/><rect x="495.8" y="96.1" width="4.8" height="4.8" fill="#f7fcce"/><rect x="500.1" y="96.1" width="4.8" height="4.8" fill="#f7fcce"/><rect x="504.4" y="96.1" width="4.8" height="4.8" fill="#fafdc8"/><rect x="508.7" y="96.1" width="4.8" height="4.8" fill="#fffdbb"/><rect x="513.0" y="96.1" width="4.8" height="4.8" fill="#fff8b4"/><rect x="517.3" y="96.1" width="4.8" height="4.8" fill="#fff6b1"/><rect x="521.6" y="96.1" width="4.8" height="4.8" fill="#fff3ad"/><rect x="525.9" y="96.1" width="4.8" height="4.8" fill="#fff1aa"/><rect x="530.2" y="96.1" width="4.8" height="4.8" fill="#feefa6"/><rect x="534.5" y="96.1" width="4.8" height="4.8" fill="#feeca2"/><rect x="538.8" y="96.1" width="4.8" height="4.8" fill="#fff2ab"/><rect x="543.1" y="96.1" width="4.8" height="4.8" fill="#feffc1"/><rect x="547.4" y="96.1" width="4.8" height="4.8" fill="#f5fbd2"/><rect x="551.8" y="96.1" width="4.8" height="4.8" fill="#f0f9db"/><rect x="556.1" y="96.1" width="4.8" height="4.8" fill="#f2fad7"/><rect x="560.4" y="96.1" width="4.8" height="4.8" fill="#fbfdc7"/><rect x="564.7" y="96.1" width="4.8" height="4.8" fill="#ffffbf"/><rect x="569.0" y="96.1" width="4.8" height="4.8" fill="#ffffbf"/><rect x="573.3" y="96.1" width="4.8" height="4.8" fill="#ffffbf"/><rect x="577.6" y="96.1" width="4.8" height="4.8" fill="#ffffbf"/><rect x="581.9" y="96.1" width="4.8" height="4.8" fill="#ffffbf"/><rect x="396.7" y="100.4" width="4.8" height="4.8" fill="#e8f6ea"/><rect x="401.0" y="100.4" width="4.8" height="4.8" fill="#e8f6ea"/><rect x="405.3" y="100.4" width="4.8" height="4.8" fill="#e8f6ea"/><rect x="409.6" y="100.4" width="4.8" height="4.8" fill="#eef8df"/><rect x="413.9" y="100.4" width="4.8" height="4.8" fill="#f9fdca"/><rect x="418.2" y="100.4" width="4.8" height="4.8" fill="#f7fccd"/><rect x="422.5" y="100.4" width="4.8" height="4.8" fill="#e8f6ea"/><rect x="426.8" y="100.4" width="4.8" height="4.8" fill="#e0f3f8"/><rect x="431.1" y="100.4" width="4.8" height="4.8" fill="#e0f3f8"/><rect x="435.5" y="100.4" width="4.8" height="4.8" fill="#bce1ee"/><rect x="439.8" y="100.4" width="4.8" height="4.8" fill="#71aacf"/><rect x="444.1" y="100.4" width="4.8" height="4.8" fill="#4e80b9"/><rect x="448.4" y="100.4" width="4.8" height="4.8" fill="#4878b6"/><rect x="452.7" y="100.4" width="4.8" height="4.8" fill="#5d91c2"/><rect x="457.0" y="100.4" width="4.8" height="4.8" fill="#8fc3dd"/><rect x="461.3" y="100.4" width="4.8" height="4.8" fill="#cae8f2"/><rect x="465.6" y="100.4" width="4.8" height="4.8" fill="#f7fcce"/><rect x="469.9" y="100.4" width="4.8" height="4.8" fill="#fff3ad"/><rect x="474.2" y="100.4" width="4.8" height="4.8" fill="#fef0a8"/><rect x="478.5" y="100.4" width="4.8" height="4.8" fill="#fee598"/><rect x="482.8" y="100.4" width="4.8" height="4.8" fill="#fecd7e"/><rect x="487.1" y="100.4" width="4.8" height="4.8" fill="#fdc577"/><rect x="491.5" y="100.4" width="4.8" height="4.8" fill="#fed081"/><rect x="495.8" y="100.4" width="4.8" height="4.8" fill="#fed586"/><rect x="500.1" y="100.4" width="4.8" height="4.8" fill="#fed586"/><rect x="504.4" y="100.4" width="4.8" height="4.8" fill="#fede8e"/><rect x="508.7" y="100.4" width="4.8" height="4.8" fill="#fee99d"/><rect x="513.0" y="100.4" width="4.8" height="4.8" fill="#feea9f"/><rect x="517.3" y="100.4" width="4.8" height="4.8" fill="#fee395"/><rect x="521.6" y="100.4" width="4.8" height="4.8" fill="#feda8a"/><rect x="525.9" y="100.4" width="4.8" height="4.8" fill="#fece80"/><rect x="530.2" y="100.4" width="4.8" height="4.8" fill="#fdc274"/><rect x="534.5" y="100.4" width="4.8" height="4.8" fill="#fdb568"/><rect x="538.8" y="100.4" width="4.8" height="4.8" fill="#fdb86b"/><rect x="543.1" y="100.4" width="4.8" height="4.8" fill="#fecc7d"/><rect x="547.4" y="100.4" width="4.8" height="4.8" fill="#fee091"/><rect x="551.8" y="100.4" width="4.8" height="4.8" fill="#feeea6"/><rect x="556.1" y="100.4" width="4.8" height="4.8" fill="#fff8b4"/><rect x="560.4" y="100.4" width="4.8" height="4.8" fill="#fffdbb"/><rect x="564.7" y="100.4" width="4.8" height="4.8" fill="#ffffbf"/><rect x="569.0" y="100.4" width="4.8" height="4.8" fill="#ffffbf"/><rect x="573.3" y="100.4" width="4.8" height="4.8" fill="#ffffbf"/><rect x="577.6" y="100.4" width="4.8" height="4.8" fill="#ffffbf"/><rect x="581.9" y="100.4" width="4.8" height="4.8" fill="#ffffbf"/><rect x="396.7" y="104.7" width="4.8" height="4.8" fill="#e0f3f8"/><rect x="401.0" y="104.7" width="4.8" height="4.8" fill="#e0f3f8"/><rect x="405.3" y="104.7" width="4.8" height="4.8" fill="#e0f3f8"/><rect x="409.6" y="104.7" width="4.8" height="4.8" fill="#e8f6ea"/><rect x="413.9" y="104.7" width="4.8" height="4.8" fill="#f7fccd"/><rect x="418.2" y="104.7" width="4.8" height="4.8" fill="#f7fccd"/><rect x="422.5" y="104.7" width="4.8" height="4.8" fill="#e8f6ea"/><rect x="426.8" y="104.7" width="4.8" height="4.8" fill="#e0f3f8"/><rect x="431.1" y="104.7" width="4.8" height="4.8" fill="#e0f3f8"/><rect x="435.5" y="104.7" width="4.8" height="4.8" fill="#bfe3ef"/><rect x="439.8" y="104.7" width="4.8" height="4.8" fill="#7bb2d4"/><rect x="444.1" y="104.7" width="4.8" height="4.8" fill="#5f94c4"/><rect x="448.4" y="104.7" width="4.8" height="4.8" fill="#659cc8"/><rect x="452.7" y="104.7" width="4.8" height="4.8" fill="#81b7d7"/><rect x="457.0" y="104.7" width="4.8" height="4.8" fill="#b6deec"/><rect x="461.3" y="104.7" width="4.8" height="4.8" fill="#e9f6e8"/><rect x="465.6" y="104.7" width="4.8" height="4.8" fill="#fff1a9"/><rect x="469.9" y="104.7" width="4.8" height="4.8" fill="#fedb8c"/><rect x="474.2" y="104.7" width="4.8" height="4.8" fill="#fed787"/><rect x="478.5" y="104.7" width="4.8" height="4.8" fill="#feca7b"/><rect x="482.8" y="104.7" width="4.8" height="4.8" fill="#fdb366"/><rect x="487.1" y="104.7" width="4.8" height="4.8" fill="#fca45c"/><rect x="491.5" y="104.7" width="4.8" height="4.8" fill="#fb9f5a"/><rect x="495.8" y="104.7" width="4.8" height="4.8" fill="#fb9f5a"/><rect x="500.1" y="104.7" width="4.8" height="4.8" fill="#fca45c"/><rect x="504.4" y="104.7" width="4.8" height="4.8" fill="#fdb568"/><rect x="508.7" y="104.7" width="4.8" height="4.8" fill="#fed081"/><rect x="513.0" y="104.7" width="4.8" height="4.8" fill="#fed686"/><rect x="517.3" y="104.7" width="4.8" height="4.8" fill="#fdc678"/><rect x="521.6" y="104.7" width="4.8" height="4.8" fill="#fdb96b"/><rect x="525.9" y="104.7" width="4.8" height="4.8" fill="#fdad61"/><rect x="530.2" y="104.7" width="4.8" height="4.8" fill="#fa9b58"/><rect x="534.5" y="104.7" width="4.8" height="4.8" fill="#f7864e"/><rect x="538.8" y="104.7" width="4.8" height="4.8" fill="#f7864e"/><rect x="543.1" y="104.7" width="4.8" height="4.8" fill="#fa9b58"/><rect x="547.4" y="104.7" width="4.8" height="4.8" fill="#fdb76a"/><rect x="551.8" y="104.7" width="4.8" height="4.8" fill="#fed686"/><rect x="556.1" y="104.7" width="4.8" height="4.8" fill="#feea9f"/><rect x="560.4" y="104.7" width="4.8" height="4.8" fill="#fff8b4"/><rect x="564.7" y="104.7" width="4.8" height="4.8" fill="#ffffbf"/><rect x="569.0" y="104.7" width="4.8" height="4.8" fill="#ffffbf"/><rect x="573.3" y="104.7" width="4.8" height="4.8" fill="#ffffbf"/><rect x="577.6" y="104.7" width="4.8" height="4.8" fill="#ffffbf"/><rect x="581.9" y="104.7" width="4.8" height="4.8" fill="#ffffbf"/><rect x="396.7" y="109.0" width="4.8" height="4.8" fill="#e0f3f8"/><rect x="401.0" y="109.0" width="4.8" height="4.8" fill="#e0f3f8"/><rect x="405.3" y="109.0" width="4.8" height="4.8" fill="#e0f3f8"/><rect x="409.6" y="109.0" width="4.8" height="4.8" fill="#e8f6ea"/><rect x="413.9" y="109.0" width="4.8" height="4.8" fill="#f7fccd"/><rect x="418.2" y="109.0" width="4.8" height="4.8" fill="#f7fccd"/><rect x="422.5" y="109.0" width="4.8" height="4.8" fill="#e8f6ea"/><rect x="426.8" y="109.0" width="4.8" height="4.8" fill="#e0f3f8"/><rect x="431.1" y="109.0" width="4.8" height="4.8" fill="#e0f3f8"/><rect x="435.5" y="109.0" width="4.8" height="4.8" fill="#cce9f2"/><rect x="439.8" y="109.0" width="4.8" height="4.8" fill="#a4d4e6"/><rect x="444.1" y="109.0" width="4.8" height="4.8" fill="#9acbe2"/><rect x="448.4" y="109.0" width="4.8" height="4.8" fill="#aedbea"/><rect x="452.7" y="109.0" width="4.8" height="4.8" fill="#d0ebf4"/><rect x="457.0" y="109.0" width="4.8" height="4.8" fill="#f3fad5"/><rect x="461.3" y="109.0" width="4.8" height="4.8" fill="#fff1a9"/><rect x="465.6" y="109.0" width="4.8" height="4.8" fill="#fed384"/><rect x="469.9" y="109.0" width="4.8" height="4.8" fill="#fdb96b"/><rect x="474.2" y="109.0" width="4.8" height="4.8" fill="#fdab60"/><rect x="478.5" y="109.0" width="4.8" height="4.8" fill="#fb9e5a"/><rect x="482.8" y="109.0" width="4.8" height="4.8" fill="#f99455"/><rect x="487.1" y="109.0" width="4.8" height="4.8" fill="#f88850"/><rect x="491.5" y="109.0" width="4.8" height="4.8" fill="#f67b49"/><rect x="495.8" y="109.0" width="4.8" height="4.8" fill="#f67b49"/><rect x="500.1" y="109.0" width="4.8" height="4.8" fill="#f88850"/><rect x="504.4" y="109.0" width="4.8" height="4.8" fill="#fb9d59"/><rect x="508.7" y="109.0" width="4.8" height="4.8" fill="#fdb568"/><rect x="513.0" y="109.0" width="4.8" height="4.8" fill="#fdb76a"/><rect x="517.3" y="109.0" width="4.8" height="4.8" fill="#fca45c"/><rect x="521.6" y="109.0" width="4.8" height="4.8" fill="#fa9656"/><rect x="525.9" y="109.0" width="4.8" height="4.8" fill="#f99254"/><rect x="530.2" y="109.0" width="4.8" height="4.8" fill="#f7864e"/><rect x="534.5" y="109.0" width="4.8" height="4.8" fill="#f57246"/><rect x="538.8" y="109.0" width="4.8" height="4.8" fill="#f57246"/><rect x="543.1" y="109.0" width="4.8" height="4.8" fill="#f7864e"/><rect x="547.4" y="109.0" width="4.8" height="4.8" fill="#fca45c"/><rect x="551.8" y="109.0" width="4.8" height="4.8" fill="#fdc678"/><rect x="556.1" y="109.0" width="4.8" height="4.8" fill="#fee395"/><rect x="560.4" y="109.0" width="4.8" height="4.8" fill="#fff6b1"/><rect x="564.7" y="109.0" width="4.8" height="4.8" fill="#ffffbf"/><rect x="569.0" y="109.0" width="4.8" height="4.8" fill="#ffffbf"/><rect x="573.3" y="109.0" width="4.8" height="4.8" fill="#ffffbf"/><rect x="577.6" y="109.0" width="4.8" height="4.8" fill="#ffffbf"/><rect x="581.9" y="109.0" width="4.8" height="4.8" fill="#ffffbf"/><rect x="396.7" y="113.3" width="4.8" height="4.8" fill="#e0f3f8"/><rect x="401.0" y="113.3" width="4.8" height="4.8" fill="#e0f3f8"/><rect x="405.3" y="113.3" width="4.8" height="4.8" fill="#e0f3f8"/><rect x="409.6" y="113.3" width="4.8" height="4.8" fill="#e8f6ea"/><rect x="413.9" y="113.3" width="4.8" height="4.8" fill="#f7fccd"/><rect x="418.2" y="113.3" width="4.8" height="4.8" fill="#f9fdca"/><rect x="422.5" y="113.3" width="4.8" height="4.8" fill="#eef8df"/><rect x="426.8" y="113.3" width="4.8" height="4.8" fill="#e6f5ed"/><rect x="431.1" y="113.3" width="4.8" height="4.8" fill="#e2f4f4"/><rect x="435.5" y="113.3" width="4.8" height="4.8" fill="#d6eef5"/><rect x="439.8" y="113.3" width="4.8" height="4.8" fill="#c2e4f0"/><rect x="444.1" y="113.3" width="4.8" height="4.8" fill="#bfe3ef"/><rect x="448.4" y="113.3" width="4.8" height="4.8" fill="#cce9f2"/><rect x="452.7" y="113.3" width="4.8" height="4.8" fill="#e4f5f0"/><rect x="457.0" y="113.3" width="4.8" height="4.8" fill="#fdfec3"/><rect x="461.3" y="113.3" width="4.8" height="4.8" fill="#feeba1"/><rect x="465.6" y="113.3" width="4.8" height="4.8" fill="#fed081"/><rect x="469.9" y="113.3" width="4.8" height="4.8" fill="#fdb366"/><rect x="474.2" y="113.3" width="4.8" height="4.8" fill="#f99455"/><rect x="478.5" y="113.3" width="4.8" height="4.8" fill="#f7824c"/><rect x="482.8" y="113.3" width="4.8" height="4.8" fill="#f67d4a"/><rect x="487.1" y="113.3" width="4.8" height="4.8" fill="#f57145"/><rect x="491.5" y="113.3" width="4.8" height="4.8" fill="#ed5e3c"/><rect x="495.8" y="113.3" width="4.8" height="4.8" fill="#ed5e3c"/><rect x="500.1" y="113.3" width="4.8" height="4.8" fill="#f57145"/><rect x="504.4" y="113.3" width="4.8" height="4.8" fill="#f7864e"/><rect x="508.7" y="113.3" width="4.8" height="4.8" fill="#fa9b58"/><rect x="513.0" y="113.3" width="4.8" height="4.8" fill="#fba05b"/><rect x="517.3" y="113.3" width="4.8" height="4.8" fill="#fa9555"/><rect x="521.6" y="113.3" width="4.8" height="4.8" fill="#f88c51"/><rect x="525.9" y="113.3" width="4.8" height="4.8" fill="#f8874f"/><rect x="530.2" y="113.3" width="4.8" height="4.8" fill="#f67d4a"/><rect x="534.5" y="113.3" width="4.8" height="4.8" fill="#f47044"/><rect x="538.8" y="113.3" width="4.8" height="4.8" fill="#f57246"/><rect x="543.1" y="113.3" width="4.8" height="4.8" fill="#f7864e"/><rect x="547.4" y="113.3" width="4.8" height="4.8" fill="#fca45c"/><rect x="551.8" y="113.3" width="4.8" height="4.8" fill="#fdc678"/><rect x="556.1" y="113.3" width="4.8" height="4.8" fill="#fee395"/><rect x="560.4" y="113.3" width="4.8" height="4.8" fill="#fff6b1"/><rect x="564.7" y="113.3" width="4.8" height="4.8" fill="#fdfec3"/><rect x="569.0" y="113.3" width="4.8" height="4.8" fill="#f9fdca"/><rect x="573.3" y="113.3" width="4.8" height="4.8" fill="#f7fccd"/><rect x="577.6" y="113.3" width="4.8" height="4.8" fill="#f7fccd"/><rect x="581.9" y="113.3" width="4.8" height="4.8" fill="#f7fccd"/><rect x="396.7" y="117.7" width="4.8" height="4.8" fill="#e0f3f8"/><rect x="401.0" y="117.7" width="4.8" height="4.8" fill="#e0f3f8"/><rect x="405.3" y="117.7" width="4.8" height="4.8" fill="#e0f3f8"/><rect x="409.6" y="117.7" width="4.8" height="4.8" fill="#e8f6ea"/><rect x="413.9" y="117.7" width="4.8" height="4.8" fill="#f7fccd"/><rect x="418.2" y="117.7" width="4.8" height="4.8" fill="#fdfec3"/><rect x="422.5" y="117.7" width="4.8" height="4.8" fill="#f9fdca"/><rect x="426.8" y="117.7" width="4.8" height="4.8" fill="#f1fad8"/><rect x="431.1" y="117.7" width="4.8" height="4.8" fill="#e6f5ed"/><rect x="435.5" y="117.7" width="4.8" height="4.8" fill="#ddf1f7"/><rect x="439.8" y="117.7" width="4.8" height="4.8" fill="#d6eef5"/><rect x="444.1" y="117.7" width="4.8" height="4.8" fill="#cce9f2"/><rect x="448.4" y="117.7" width="4.8" height="4.8" fill="#bfe3ef"/><rect x="452.7" y="117.7" width="4.8" height="4.8" fill="#c8e7f1"/><rect x="457.0" y="117.7" width="4.8" height="4.8" fill="#e4f5f0"/><rect x="461.3" y="117.7" width="4.8" height="4.8" fill="#fafdc8"/><rect x="465.6" y="117.7" width="4.8" height="4.8" fill="#feeba1"/><rect x="469.9" y="117.7" width="4.8" height="4.8" fill="#feca7b"/><rect x="474.2" y="117.7" width="4.8" height="4.8" fill="#fb9e5a"/><rect x="478.5" y="117.7" width="4.8" height="4.8" fill="#f67d4a"/><rect x="482.8" y="117.7" width="4.8" height="4.8" fill="#f47044"/><rect x="487.1" y="117.7" width="4.8" height="4.8" fill="#ed5e3c"/><rect x="491.5" y="117.7" width="4.8" height="4.8" fill="#e24732"/><rect x="495.8" y="117.7" width="4.8" height="4.8" fill="#e24732"/><rect x="500.1" y="117.7" width="4.8" height="4.8" fill="#ed5e3c"/><rect x="504.4" y="117.7" width="4.8" height="4.8" fill="#f57246"/><rect x="508.7" y="117.7" width="4.8" height="4.8" fill="#f7864e"/><rect x="513.0" y="117.7" width="4.8" height="4.8" fill="#fa9555"/><rect x="517.3" y="117.7" width="4.8" height="4.8" fill="#fba05b"/><rect x="521.6" y="117.7" width="4.8" height="4.8" fill="#fb9d59"/><rect x="525.9" y="117.7" width="4.8" height="4.8" fill="#f88c51"/><rect x="530.2" y="117.7" width="4.8" height="4.8" fill="#f7824c"/><rect x="534.5" y="117.7" width="4.8" height="4.8" fill="#f67d4a"/><rect x="538.8" y="117.7" width="4.8" height="4.8" fill="#f7864e"/><rect x="543.1" y="117.7" width="4.8" height="4.8" fill="#fa9b58"/><rect x="547.4" y="117.7" width="4.8" height="4.8" fill="#fdb76a"/><rect x="551.8" y="117.7" width="4.8" height="4.8" fill="#fed686"/><rect x="556.1" y="117.7" width="4.8" height="4.8" fill="#feea9f"/><rect x="560.4" y="117.7" width="4.8" height="4.8" fill="#fff8b4"/><rect x="564.7" y="117.7" width="4.8" height="4.8" fill="#f9fdca"/><rect x="569.0" y="117.7" width="4.8" height="4.8" fill="#eef8df"/><rect x="573.3" y="117.7" width="4.8" height="4.8" fill="#e8f6ea"/><rect x="577.6" y="117.7" width="4.8" height="4.8" fill="#e8f6ea"/><rect x="581.9" y="117.7" width="4.8" height="4.8" fill="#e8f6ea"/><rect x="396.7" y="122.0" width="4.8" height="4.8" fill="#d3ecf4"/><rect x="401.0" y="122.0" width="4.8" height="4.8" fill="#d3ecf4"/><rect x="405.3" y="122.0" width="4.8" height="4.8" fill="#d3ecf4"/><rect x="409.6" y="122.0" width="4.8" height="4.8" fill="#e0f3f8"/><rect x="413.9" y="122.0" width="4.8" height="4.8" fill="#f0f9dc"/><rect x="418.2" y="122.0" width="4.8" height="4.8" fill="#f9fdca"/><rect x="422.5" y="122.0" width="4.8" height="4.8" fill="#fdfec3"/><rect x="426.8" y="122.0" width="4.8" height="4.8" fill="#f9fdca"/><rect x="431.1" y="122.0" width="4.8" height="4.8" fill="#eef8df"/><rect x="435.5" y="122.0" width="4.8" height="4.8" fill="#e6f5ed"/><rect x="439.8" y="122.0" width="4.8" height="4.8" fill="#e2f4f4"/><rect x="444.1" y="122.0" width="4.8" height="4.8" fill="#cfebf3"/><rect x="448.4" y="122.0" width="4.8" height="4.8" fill="#aedbea"/><rect x="452.7" y="122.0" width="4.8" height="4.8" fill="#aedbea"/><rect x="457.0" y="122.0" width="4.8" height="4.8" fill="#cfebf3"/><rect x="461.3" y="122.0" width="4.8" height="4.8" fill="#f0f9db"/><rect x="465.6" y="122.0" width="4.8" height="4.8" fill="#feeea6"/><rect x="469.9" y="122.0" width="4.8" height="4.8" fill="#feca7b"/><rect x="474.2" y="122.0" width="4.8" height="4.8" fill="#fb9e5a"/><rect x="478.5" y="122.0" width="4.8" height="4.8" fill="#f67b49"/><rect x="482.8" y="122.0" width="4.8" height="4.8" fill="#f26941"/><rect x="487.1" y="122.0" width="4.8" height="4.8" fill="#e85538"/><rect x="491.5" y="122.0" width="4.8" height="4.8" fill="#dd3c2d"/><rect x="495.8" y="122.0" width="4.8" height="4.8" fill="#dd3c2d"/><rect x="500.1" y="122.0" width="4.8" height="4.8" fill="#e85538"/><rect x="504.4" y="122.0" width="4.8" height="4.8" fill="#f16740"/><rect x="508.7" y="122.0" width="4.8" height="4.8" fill="#f57446"/><rect x="513.0" y="122.0" width="4.8" height="4.8" fill="#f88850"/><rect x="517.3" y="122.0" width="4.8" height="4.8" fill="#fca45c"/><rect x="521.6" y="122.0" width="4.8" height="4.8" fill="#fdae61"/><rect x="525.9" y="122.0" width="4.8" height="4.8" fill="#fca65d"/><rect x="530.2" y="122.0" width="4.8" height="4.8" fill="#fb9e5a"/><rect x="534.5" y="122.0" width="4.8" height="4.8" fill="#f99455"/><rect x="538.8" y="122.0" width="4.8" height="4.8" fill="#fa9857"/><rect x="543.1" y="122.0" width="4.8" height="4.8" fill="#fca95f"/><rect x="547.4" y="122.0" width="4.8" height="4.8" fill="#fdc071"/><rect x="551.8" y="122.0" width="4.8" height="4.8" fill="#fede8e"/><rect x="556.1" y="122.0" width="4.8" height="4.8" fill="#feeea5"/><rect x="560.4" y="122.0" width="4.8" height="4.8" fill="#fff9b6"/><rect x="564.7" y="122.0" width="4.8" height="4.8" fill="#f7fccd"/><rect x="569.0" y="122.0" width="4.8" height="4.8" fill="#e8f6ea"/><rect x="573.3" y="122.0" width="4.8" height="4.8" fill="#e0f3f8"/><rect x="577.6" y="122.0" width="4.8" height="4.8" fill="#e0f3f8"/><rect x="581.9" y="122.0" width="4.8" height="4.8" fill="#e0f3f8"/><rect x="396.7" y="126.3" width="4.8" height="4.8" fill="#b8dfed"/><rect x="401.0" y="126.3" width="4.8" height="4.8" fill="#b8dfed"/><rect x="405.3" y="126.3" width="4.8" height="4.8" fill="#b8dfed"/><rect x="409.6" y="126.3" width="4.8" height="4.8" fill="#c6e6f0"/><rect x="413.9" y="126.3" width="4.8" height="4.8" fill="#e0f3f8"/><rect x="418.2" y="126.3" width="4.8" height="4.8" fill="#eef8df"/><rect x="422.5" y="126.3" width="4.8" height="4.8" fill="#f9fdca"/><rect x="426.8" y="126.3" width="4.8" height="4.8" fill="#fdfec3"/><rect x="431.1" y="126.3" width="4.8" height="4.8" fill="#f9fdca"/><rect x="435.5" y="126.3" width="4.8" height="4.8" fill="#f1fad8"/><rect x="439.8" y="126.3" width="4.8" height="4.8" fill="#e6f5ed"/><rect x="444.1" y="126.3" width="4.8" height="4.8" fill="#c9e8f1"/><rect x="448.4" y="126.3" width="4.8" height="4.8" fill="#9acbe2"/><rect x="452.7" y="126.3" width="4.8" height="4.8" fill="#9acbe2"/><rect x="457.0" y="126.3" width="4.8" height="4.8" fill="#c9e8f1"/><rect x="461.3" y="126.3" width="4.8" height="4.8" fill="#f5fbd2"/><rect x="465.6" y="126.3" width="4.8" height="4.8" fill="#fee091"/><rect x="469.9" y="126.3" width="4.8" height="4.8" fill="#fdb366"/><rect x="474.2" y="126.3" width="4.8" height="4.8" fill="#f99455"/><rect x="478.5" y="126.3" width="4.8" height="4.8" fill="#f67b49"/><rect x="482.8" y="126.3" width="4.8" height="4.8" fill="#f26941"/><rect x="487.1" y="126.3" width="4.8" height="4.8" fill="#e85538"/><rect x="491.5" y="126.3" width="4.8" height="4.8" fill="#dd3c2d"/><rect x="495.8" y="126.3" width="4.8" height="4.8" fill="#dd3c2d"/><rect x="500.1" y="126.3" width="4.8" height="4.8" fill="#e85538"/><rect x="504.4" y="126.3" width="4.8" height="4.8" fill="#ef633e"/><rect x="508.7" y="126.3" width="4.8" height="4.8" fill="#f16740"/><rect x="513.0" y="126.3" width="4.8" height="4.8" fill="#f67b49"/><rect x="517.3" y="126.3" width="4.8" height="4.8" fill="#fb9f5a"/><rect x="521.6" y="126.3" width="4.8" height="4.8" fill="#fdba6c"/><rect x="525.9" y="126.3" width="4.8" height="4.8" fill="#fecc7d"/><rect x="530.2" y="126.3" width="4.8" height="4.8" fill="#feca7b"/><rect x="534.5" y="126.3" width="4.8" height="4.8" fill="#fdb366"/><rect x="538.8" y="126.3" width="4.8" height="4.8" fill="#fca95f"/><rect x="543.1" y="126.3" width="4.8" height="4.8" fill="#fdae61"/><rect x="547.4" y="126.3" width="4.8" height="4.8" fill="#fdc071"/><rect x="551.8" y="126.3" width="4.8" height="4.8" fill="#fede8e"/><rect x="556.1" y="126.3" width="4.8" height="4.8" fill="#feeea5"/><rect x="560.4" y="126.3" width="4.8" height="4.8" fill="#fff9b6"/><rect x="564.7" y="126.3" width="4.8" height="4.8" fill="#f7fccd"/><rect x="569.0" y="126.3" width="4.8" height="4.8" fill="#e8f6ea"/><rect x="573.3" y="126.3" width="4.8" height="4.8" fill="#e0f3f8"/><rect x="577.6" y="126.3" width="4.8" height="4.8" fill="#e0f3f8"/><rect x="581.9" y="126.3" width="4.8" height="4.8" fill="#e0f3f8"/><rect x="396.7" y="130.6" width="4.8" height="4.8" fill="#90c3dd"/><rect x="401.0" y="130.6" width="4.8" height="4.8" fill="#90c3dd"/><rect x="405.3" y="130.6" width="4.8" height="4.8" fill="#90c3dd"/><rect x="409.6" y="130.6" width="4.8" height="4.8" fill="#a1d1e4"/><rect x="413.9" y="130.6" width="4.8" height="4.8" fill="#c2e4f0"/><rect x="418.2" y="130.6" width="4.8" height="4.8" fill="#e0f3f8"/><rect x="422.5" y="130.6" width="4.8" height="4.8" fill="#f0f9dc"/><rect x="426.8" y="130.6" width="4.8" height="4.8" fill="#f9fdca"/><rect x="431.1" y="130.6" width="4.8" height="4.8" fill="#fdfec3"/><rect x="435.5" y="130.6" width="4.8" height="4.8" fill="#f9fdca"/><rect x="439.8" y="130.6" width="4.8" height="4.8" fill="#eef8df"/><rect x="444.1" y="130.6" width="4.8" height="4.8" fill="#d3ecf4"/><rect x="448.4" y="130.6" width="4.8" height="4.8" fill="#9dcee3"/><rect x="452.7" y="130.6" width="4.8" height="4.8" fill="#9dcee3"/><rect x="457.0" y="130.6" width="4.8" height="4.8" fill="#d3ecf4"/><rect x="461.3" y="130.6" width="4.8" height="4.8" fill="#fdfec3"/><rect x="465.6" y="130.6" width="4.8" height="4.8" fill="#fed283"/><rect x="469.9" y="130.6" width="4.8" height="4.8" fill="#fca65d"/><rect x="474.2" y="130.6" width="4.8" height="4.8" fill="#f98f53"/><rect x="478.5" y="130.6" width="4.8" height="4.8" fill="#f67b49"/><rect x="482.8" y="130.6" width="4.8" height="4.8" fill="#f26941"/><rect x="487.1" y="130.6" width="4.8" height="4.8" fill="#ea5839"/><rect x="491.5" y="130.6" width="4.8" height="4.8" fill="#e14531"/><rect x="495.8" y="130.6" width="4.8" height="4.8" fill="#e14531"/><rect x="500.1" y="130.6" width="4.8" height="4.8" fill="#ea5839"/><rect x="504.4" y="130.6" width="4.8" height="4.8" fill="#ef633e"/><rect x="508.7" y="130.6" width="4.8" height="4.8" fill="#f16740"/><rect x="513.0" y="130.6" width="4.8" height="4.8" fill="#f7804c"/><rect x="517.3" y="130.6" width="4.8" height="4.8" fill="#fdae61"/><rect x="521.6" y="130.6" width="4.8" height="4.8" fill="#fed081"/><rect x="525.9" y="130.6" width="4.8" height="4.8" fill="#feeba1"/><rect x="530.2" y="130.6" width="4.8" height="4.8" fill="#feeea6"/><rect x="534.5" y="130.6" width="4.8" height="4.8" fill="#fee091"/><rect x="538.8" y="130.6" width="4.8" height="4.8" fill="#fed889"/><rect x="543.1" y="130.6" width="4.8" height="4.8" fill="#fedf8f"/><rect x="547.4" y="130.6" width="4.8" height="4.8" fill="#fee699"/><rect x="551.8" y="130.6" width="4.8" height="4.8" fill="#fff0a9"/><rect x="556.1" y="130.6" width="4.8" height="4.8" fill="#fffab7"/><rect x="560.4" y="130.6" width="4.8" height="4.8" fill="#fcfec5"/><rect x="564.7" y="130.6" width="4.8" height="4.8" fill="#f1fad8"/><rect x="569.0" y="130.6" width="4.8" height="4.8" fill="#e6f5ed"/><rect x="573.3" y="130.6" width="4.8" height="4.8" fill="#e0f3f8"/><rect x="577.6" y="130.6" width="4.8" height="4.8" fill="#e0f3f8"/><rect x="581.9" y="130.6" width="4.8" height="4.8" fill="#e0f3f8"/><rect x="396.7" y="134.9" width="4.8" height="4.8" fill="#5d91c2"/><rect x="401.0" y="134.9" width="4.8" height="4.8" fill="#5d91c2"/><rect x="405.3" y="134.9" width="4.8" height="4.8" fill="#5d91c2"/><rect x="409.6" y="134.9" width="4.8" height="4.8" fill="#71aacf"/><rect x="413.9" y="134.9" width="4.8" height="4.8" fill="#a1d1e4"/><rect x="418.2" y="134.9" width="4.8" height="4.8" fill="#c6e6f0"/><rect x="422.5" y="134.9" width="4.8" height="4.8" fill="#e0f3f8"/><rect x="426.8" y="134.9" width="4.8" height="4.8" fill="#eef8df"/><rect x="431.1" y="134.9" width="4.8" height="4.8" fill="#f9fdca"/><rect x="435.5" y="134.9" width="4.8" height="4.8" fill="#fdfec3"/><rect x="439.8" y="134.9" width="4.8" height="4.8" fill="#f9fdca"/><rect x="444.1" y="134.9" width="4.8" height="4.8" fill="#e8f6ea"/><rect x="448.4" y="134.9" width="4.8" height="4.8" fill="#b8dfed"/><rect x="452.7" y="134.9" width="4.8" height="4.8" fill="#b8dfed"/><rect x="457.0" y="134.9" width="4.8" height="4.8" fill="#e8f6ea"/><rect x="461.3" y="134.9" width="4.8" height="4.8" fill="#fff6b1"/><rect x="465.6" y="134.9" width="4.8" height="4.8" fill="#fecc7d"/><rect x="469.9" y="134.9" width="4.8" height="4.8" fill="#fca65d"/><rect x="474.2" y="134.9" width="4.8" height="4.8" fill="#f98f53"/><rect x="478.5" y="134.9" width="4.8" height="4.8" fill="#f67b49"/><rect x="482.8" y="134.9" width="4.8" height="4.8" fill="#f26941"/><rect x="487.1" y="134.9" width="4.8" height="4.8" fill="#ed5e3c"/><rect x="491.5" y="134.9" width="4.8" height="4.8" fill="#ea5839"/><rect x="495.8" y="134.9" width="4.8" height="4.8" fill="#ea5839"/><rect x="500.1" y="134.9" width="4.8" height="4.8" fill="#ed5e3c"/><rect x="504.4" y="134.9" width="4.8" height="4.8" fill="#f16740"/><rect x="508.7" y="134.9" width="4.8" height="4.8" fill="#f57446"/><rect x="513.0" y="134.9" width="4.8" height="4.8" fill="#fa9756"/><rect x="517.3" y="134.9" width="4.8" height="4.8" fill="#fec879"/><rect x="521.6" y="134.9" width="4.8" height="4.8" fill="#feeba1"/><rect x="525.9" y="134.9" width="4.8" height="4.8" fill="#fafdc8"/><rect x="530.2" y="134.9" width="4.8" height="4.8" fill="#f0f9db"/><rect x="534.5" y="134.9" width="4.8" height="4.8" fill="#f5fbd2"/><rect x="538.8" y="134.9" width="4.8" height="4.8" fill="#f1fad9"/><rect x="543.1" y="134.9" width="4.8" height="4.8" fill="#e5f5ee"/><rect x="547.4" y="134.9" width="4.8" height="4.8" fill="#e3f4f2"/><rect x="551.8" y="134.9" width="4.8" height="4.8" fill="#eaf7e5"/><rect x="556.1" y="134.9" width="4.8" height="4.8" fill="#ecf8e2"/><rect x="560.4" y="134.9" width="4.8" height="4.8" fill="#e9f7e7"/><rect x="564.7" y="134.9" width="4.8" height="4.8" fill="#e6f5ed"/><rect x="569.0" y="134.9" width="4.8" height="4.8" fill="#e2f4f4"/><rect x="573.3" y="134.9" width="4.8" height="4.8" fill="#e0f3f8"/><rect x="577.6" y="134.9" width="4.8" height="4.8" fill="#e0f3f8"/><rect x="581.9" y="134.9" width="4.8" height="4.8" fill="#e0f3f8"/><rect x="396.7" y="139.2" width="4.8" height="4.8" fill="#4575b4"/><rect x="401.0" y="139.2" width="4.8" height="4.8" fill="#4575b4"/><rect x="405.3" y="139.2" width="4.8" height="4.8" fill="#4575b4"/><rect x="409.6" y="139.2" width="4.8" height="4.8" fill="#5a8ec1"/><rect x="413.9" y="139.2" width="4.8" height="4.8" fill="#85bbd8"/><rect x="418.2" y="139.2" width="4.8" height="4.8" fill="#aedbea"/><rect x="422.5" y="139.2" width="4.8" height="4.8" fill="#cfebf3"/><rect x="426.8" y="139.2" width="4.8" height="4.8" fill="#e6f5ed"/><rect x="431.1" y="139.2" width="4.8" height="4.8" fill="#f1fad8"/><rect x="435.5" y="139.2" width="4.8" height="4.8" fill="#f9fdca"/><rect x="439.8" y="139.2" width="4.8" height="4.8" fill="#fdfec3"/><rect x="444.1" y="139.2" width="4.8" height="4.8" fill="#f3fad4"/><rect x="448.4" y="139.2" width="4.8" height="4.8" fill="#d9f0f6"/><rect x="452.7" y="139.2" width="4.8" height="4.8" fill="#dcf1f7"/><rect x="457.0" y="139.2" width="4.8" height="4.8" fill="#f8fccc"/><rect x="461.3" y="139.2" width="4.8" height="4.8" fill="#feeca1"/><rect x="465.6" y="139.2" width="4.8" height="4.8" fill="#fdc778"/><rect x="469.9" y="139.2" width="4.8" height="4.8" fill="#fca65d"/><rect x="474.2" y="139.2" width="4.8" height="4.8" fill="#f98f53"/><rect x="478.5" y="139.2" width="4.8" height="4.8" fill="#f67d4a"/><rect x="482.8" y="139.2" width="4.8" height="4.8" fill="#f47044"/><rect x="487.1" y="139.2" width="4.8" height="4.8" fill="#f26941"/><rect x="491.5" y="139.2" width="4.8" height="4.8" fill="#f26941"/><rect x="495.8" y="139.2" width="4.8" height="4.8" fill="#f36c42"/><rect x="500.1" y="139.2" width="4.8" height="4.8" fill="#f57145"/><rect x="504.4" y="139.2" width="4.8" height="4.8" fill="#f7804c"/><rect x="508.7" y="139.2" width="4.8" height="4.8" fill="#fa9756"/><rect x="513.0" y="139.2" width="4.8" height="4.8" fill="#fdc072"/><rect x="517.3" y="139.2" width="4.8" height="4.8" fill="#feeda3"/><rect x="521.6" y="139.2" width="4.8" height="4.8" fill="#f5fbd2"/><rect x="525.9" y="139.2" width="4.8" height="4.8" fill="#daf0f6"/><rect x="530.2" y="139.2" width="4.8" height="4.8" fill="#c6e6f0"/><rect x="534.5" y="139.2" width="4.8" height="4.8" fill="#c6e6f0"/><rect x="538.8" y="139.2" width="4.8" height="4.8" fill="#bfe3ef"/><rect x="543.1" y="139.2" width="4.8" height="4.8" fill="#b2dceb"/><rect x="547.4" y="139.2" width="4.8" height="4.8" fill="#b5deec"/><rect x="551.8" y="139.2" width="4.8" height="4.8" fill="#c9e8f1"/><rect x="556.1" y="139.2" width="4.8" height="4.8" fill="#d3ecf4"/><rect x="560.4" y="139.2" width="4.8" height="4.8" fill="#d3ecf4"/><rect x="564.7" y="139.2" width="4.8" height="4.8" fill="#d6eef5"/><rect x="569.0" y="139.2" width="4.8" height="4.8" fill="#ddf1f7"/><rect x="573.3" y="139.2" width="4.8" height="4.8" fill="#e0f3f8"/><rect x="577.6" y="139.2" width="4.8" height="4.8" fill="#e0f3f8"/><rect x="581.9" y="139.2" width="4.8" height="4.8" fill="#e0f3f8"/><rect x="396.7" y="143.5" width="4.8" height="4.8" fill="#4575b4"/><rect x="401.0" y="143.5" width="4.8" height="4.8" fill="#4575b4"/><rect x="405.3" y="143.5" width="4.8" height="4.8" fill="#4575b4"/><rect x="409.6" y="143.5" width="4.8" height="4.8" fill="#5487bd"/><rect x="413.9" y="143.5" width="4.8" height="4.8" fill="#71aacf"/><rect x="418.2" y="143.5" width="4.8" height="4.8" fill="#9acbe2"/><rect x="422.5" y="143.5" width="4.8" height="4.8" fill="#c9e8f1"/><rect x="426.8" y="143.5" width="4.8" height="4.8" fill="#e2f4f4"/><rect x="431.1" y="143.5" width="4.8" height="4.8" fill="#e6f5ed"/><rect x="435.5" y="143.5" width="4.8" height="4.8" fill="#eef8df"/><rect x="439.8" y="143.5" width="4.8" height="4.8" fill="#f9fdca"/><rect x="444.1" y="143.5" width="4.8" height="4.8" fill="#fbfec6"/><rect x="448.4" y="143.5" width="4.8" height="4.8" fill="#f3fad4"/><rect x="452.7" y="143.5" width="4.8" height="4.8" fill="#f8fccc"/><rect x="457.0" y="143.5" width="4.8" height="4.8" fill="#fff6b1"/><rect x="461.3" y="143.5" width="4.8" height="4.8" fill="#fee394"/><rect x="465.6" y="143.5" width="4.8" height="4.8" fill="#fdc274"/><rect x="469.9" y="143.5" width="4.8" height="4.8" fill="#fca65d"/><rect x="474.2" y="143.5" width="4.8" height="4.8" fill="#f98f53"/><rect x="478.5" y="143.5" width="4.8" height="4.8" fill="#f7824c"/><rect x="482.8" y="143.5" width="4.8" height="4.8" fill="#f67d4a"/><rect x="487.1" y="143.5" width="4.8" height="4.8" fill="#f67b49"/><rect x="491.5" y="143.5" width="4.8" height="4.8" fill="#f67b49"/><rect x="495.8" y="143.5" width="4.8" height="4.8" fill="#f7834d"/><rect x="500.1" y="143.5" width="4.8" height="4.8" fill="#f99455"/><rect x="504.4" y="143.5" width="4.8" height="4.8" fill="#fdae61"/><rect x="508.7" y="143.5" width="4.8" height="4.8" fill="#fec879"/><rect x="513.0" y="143.5" width="4.8" height="4.8" fill="#feeda3"/><rect x="517.3" y="143.5" width="4.8" height="4.8" fill="#eaf7e6"/><rect x="521.6" y="143.5" width="4.8" height="4.8" fill="#c0e3ef"/><rect x="525.9" y="143.5" width="4.8" height="4.8" fill="#a0d0e4"/><rect x="530.2" y="143.5" width="4.8" height="4.8" fill="#90c3dd"/><rect x="534.5" y="143.5" width="4.8" height="4.8" fill="#90c3dd"/><rect x="538.8" y="143.5" width="4.8" height="4.8" fill="#96c9e0"/><rect x="543.1" y="143.5" width="4.8" height="4.8" fill="#a4d4e6"/><rect x="547.4" y="143.5" width="4.8" height="4.8" fill="#aedbea"/><rect x="551.8" y="143.5" width="4.8" height="4.8" fill="#b5deec"/><rect x="556.1" y="143.5" width="4.8" height="4.8" fill="#b8dfed"/><rect x="560.4" y="143.5" width="4.8" height="4.8" fill="#b8dfed"/><rect x="564.7" y="143.5" width="4.8" height="4.8" fill="#c2e4f0"/><rect x="569.0" y="143.5" width="4.8" height="4.8" fill="#d6eef5"/><rect x="573.3" y="143.5" width="4.8" height="4.8" fill="#e0f3f8"/><rect x="577.6" y="143.5" width="4.8" height="4.8" fill="#e0f3f8"/><rect x="581.9" y="143.5" width="4.8" height="4.8" fill="#e0f3f8"/><rect x="396.7" y="147.8" width="4.8" height="4.8" fill="#5183bb"/><rect x="401.0" y="147.8" width="4.8" height="4.8" fill="#5183bb"/><rect x="405.3" y="147.8" width="4.8" height="4.8" fill="#5183bb"/><rect x="409.6" y="147.8" width="4.8" height="4.8" fill="#5d91c2"/><rect x="413.9" y="147.8" width="4.8" height="4.8" fill="#74add1"/><rect x="418.2" y="147.8" width="4.8" height="4.8" fill="#9acbe2"/><rect x="422.5" y="147.8" width="4.8" height="4.8" fill="#c9e8f1"/><rect x="426.8" y="147.8" width="4.8" height="4.8" fill="#e0f3f8"/><rect x="431.1" y="147.8" width="4.8" height="4.8" fill="#e0f3f8"/><rect x="435.5" y="147.8" width="4.8" height="4.8" fill="#e8f6ea"/><rect x="439.8" y="147.8" width="4.8" height="4.8" fill="#f7fccd"/><rect x="444.1" y="147.8" width="4.8" height="4.8" fill="#ffffbf"/><rect x="448.4" y="147.8" width="4.8" height="4.8" fill="#ffffbf"/><rect x="452.7" y="147.8" width="4.8" height="4.8" fill="#fff9b6"/><rect x="457.0" y="147.8" width="4.8" height="4.8" fill="#feeea5"/><rect x="461.3" y="147.8" width="4.8" height="4.8" fill="#fedb8c"/><rect x="465.6" y="147.8" width="4.8" height="4.8" fill="#fdb96b"/><rect x="469.9" y="147.8" width="4.8" height="4.8" fill="#fb9d59"/><rect x="474.2" y="147.8" width="4.8" height="4.8" fill="#f88c51"/><rect x="478.5" y="147.8" width="4.8" height="4.8" fill="#f8874f"/><rect x="482.8" y="147.8" width="4.8" height="4.8" fill="#f88c51"/><rect x="487.1" y="147.8" width="4.8" height="4.8" fill="#f98f53"/><rect x="491.5" y="147.8" width="4.8" height="4.8" fill="#f98f53"/><rect x="495.8" y="147.8" width="4.8" height="4.8" fill="#fb9d59"/><rect x="500.1" y="147.8" width="4.8" height="4.8" fill="#fdb568"/><rect x="504.4" y="147.8" width="4.8" height="4.8" fill="#fed081"/><rect x="508.7" y="147.8" width="4.8" height="4.8" fill="#feeba1"/><rect x="513.0" y="147.8" width="4.8" height="4.8" fill="#f7fcce"/><rect x="517.3" y="147.8" width="4.8" height="4.8" fill="#cae8f2"/><rect x="521.6" y="147.8" width="4.8" height="4.8" fill="#9dcee3"/><rect x="525.9" y="147.8" width="4.8" height="4.8" fill="#82b8d7"/><rect x="530.2" y="147.8" width="4.8" height="4.8" fill="#71aacf"/><rect x="534.5" y="147.8" width="4.8" height="4.8" fill="#6ba2cc"/><rect x="538.8" y="147.8" width="4.8" height="4.8" fill="#74add1"/><rect x="543.1" y="147.8" width="4.8" height="4.8" fill="#90c3dd"/><rect x="547.4" y="147.8" width="4.8" height="4.8" fill="#a1d1e4"/><rect x="551.8" y="147.8" width="4.8" height="4.8" fill="#a8d6e7"/><rect x="556.1" y="147.8" width="4.8" height="4.8" fill="#abd9e9"/><rect x="560.4" y="147.8" width="4.8" height="4.8" fill="#abd9e9"/><rect x="564.7" y="147.8" width="4.8" height="4.8" fill="#b8e0ed"/><rect x="569.0" y="147.8" width="4.8" height="4.8" fill="#d3ecf4"/><rect x="573.3" y="147.8" width="4.8" height="4.8" fill="#e0f3f8"/><rect x="577.6" y="147.8" width="4.8" height="4.8" fill="#e0f3f8"/><rect x="581.9" y="147.8" width="4.8" height="4.8" fill="#e0f3f8"/><rect x="396.7" y="152.1" width="4.8" height="4.8" fill="#689fca"/><rect x="401.0" y="152.1" width="4.8" height="4.8" fill="#689fca"/><rect x="405.3" y="152.1" width="4.8" height="4.8" fill="#689fca"/><rect x="409.6" y="152.1" width="4.8" height="4.8" fill="#74add1"/><rect x="413.9" y="152.1" width="4.8" height="4.8" fill="#90c3dd"/><rect x="418.2" y="152.1" width="4.8" height="4.8" fill="#aedbea"/><rect x="422.5" y="152.1" width="4.8" height="4.8" fill="#cfebf3"/><rect x="426.8" y="152.1" width="4.8" height="4.8" fill="#e0f3f8"/><rect x="431.1" y="152.1" width="4.8" height="4.8" fill="#e0f3f8"/><rect x="435.5" y="152.1" width="4.8" height="4.8" fill="#e8f6ea"/><rect x="439.8" y="152.1" width="4.8" height="4.8" fill="#f7fccd"/><rect x="444.1" y="152.1" width="4.8" height="4.8" fill="#ffffbf"/><rect x="448.4" y="152.1" width="4.8" height="4.8" fill="#ffffbf"/><rect x="452.7" y="152.1" width="4.8" height="4.8" fill="#fff9b6"/><rect x="457.0" y="152.1" width="4.8" height="4.8" fill="#feeea5"/><rect x="461.3" y="152.1" width="4.8" height="4.8" fill="#fed787"/><rect x="465.6" y="152.1" width="4.8" height="4.8" fill="#fdab60"/><rect x="469.9" y="152.1" width="4.8" height="4.8" fill="#f88c51"/><rect x="474.2" y="152.1" width="4.8" height="4.8" fill="#f8874f"/><rect x="478.5" y="152.1" width="4.8" height="4.8" fill="#f88c51"/><rect x="482.8" y="152.1" width="4.8" height="4.8" fill="#fb9d59"/><rect x="487.1" y="152.1" width="4.8" height="4.8" fill="#fca65d"/><rect x="491.5" y="152.1" width="4.8" height="4.8" fill="#fca65d"/><rect x="495.8" y="152.1" width="4.8" height="4.8" fill="#fdb568"/><rect x="500.1" y="152.1" width="4.8" height="4.8" fill="#fed081"/><rect x="504.4" y="152.1" width="4.8" height="4.8" fill="#feeba1"/><rect x="508.7" y="152.1" width="4.8" height="4.8" fill="#fafdc8"/><rect x="513.0" y="152.1" width="4.8" height="4.8" fill="#e2f4f4"/><rect x="517.3" y="152.1" width="4.8" height="4.8" fill="#bee2ee"/><rect x="521.6" y="152.1" width="4.8" height="4.8" fill="#9dcee3"/><rect x="525.9" y="152.1" width="4.8" height="4.8" fill="#82b8d7"/><rect x="530.2" y="152.1" width="4.8" height="4.8" fill="#6ba2cc"/><rect x="534.5" y="152.1" width="4.8" height="4.8" fill="#5a8ec1"/><rect x="538.8" y="152.1" width="4.8" height="4.8" fill="#5d91c2"/><rect x="543.1" y="152.1" width="4.8" height="4.8" fill="#74add1"/><rect x="547.4" y="152.1" width="4.8" height="4.8" fill="#8cc0dc"/><rect x="551.8" y="152.1" width="4.8" height="4.8" fill="#a1d1e4"/><rect x="556.1" y="152.1" width="4.8" height="4.8" fill="#abd9e9"/><rect x="560.4" y="152.1" width="4.8" height="4.8" fill="#abd9e9"/><rect x="564.7" y="152.1" width="4.8" height="4.8" fill="#b8dfed"/><rect x="569.0" y="152.1" width="4.8" height="4.8" fill="#d3ecf4"/><rect x="573.3" y="152.1" width="4.8" height="4.8" fill="#e0f3f8"/><rect x="577.6" y="152.1" width="4.8" height="4.8" fill="#e0f3f8"/><rect x="581.9" y="152.1" width="4.8" height="4.8" fill="#e0f3f8"/><rect x="396.7" y="156.4" width="4.8" height="4.8" fill="#82b8d7"/><rect x="401.0" y="156.4" width="4.8" height="4.8" fill="#82b8d7"/><rect x="405.3" y="156.4" width="4.8" height="4.8" fill="#82b8d7"/><rect x="409.6" y="156.4" width="4.8" height="4.8" fill="#8cc0dc"/><rect x="413.9" y="156.4" width="4.8" height="4.8" fill="#a1d1e4"/><rect x="418.2" y="156.4" width="4.8" height="4.8" fill="#b5deec"/><rect x="422.5" y="156.4" width="4.8" height="4.8" fill="#c9e8f1"/><rect x="426.8" y="156.4" width="4.8" height="4.8" fill="#d6eef5"/><rect x="431.1" y="156.4" width="4.8" height="4.8" fill="#ddf1f7"/><rect x="435.5" y="156.4" width="4.8" height="4.8" fill="#e6f5ed"/><rect x="439.8" y="156.4" width="4.8" height="4.8" fill="#f1fad8"/><rect x="444.1" y="156.4" width="4.8" height="4.8" fill="#f9fdca"/><rect x="448.4" y="156.4" width="4.8" height="4.8" fill="#fdfec3"/><rect x="452.7" y="156.4" width="4.8" height="4.8" fill="#fff7b3"/><rect x="457.0" y="156.4" width="4.8" height="4.8" fill="#fee79a"/><rect x="461.3" y="156.4" width="4.8" height="4.8" fill="#feca7b"/><rect x="465.6" y="156.4" width="4.8" height="4.8" fill="#fb9e5a"/><rect x="469.9" y="156.4" width="4.8" height="4.8" fill="#f88b51"/><rect x="474.2" y="156.4" width="4.8" height="4.8" fill="#fa9b58"/><rect x="478.5" y="156.4" width="4.8" height="4.8" fill="#fdae61"/><rect x="482.8" y="156.4" width="4.8" height="4.8" fill="#fdc072"/><rect x="487.1" y="156.4" width="4.8" height="4.8" fill="#fdc778"/><rect x="491.5" y="156.4" width="4.8" height="4.8" fill="#fdc274"/><rect x="495.8" y="156.4" width="4.8" height="4.8" fill="#fed081"/><rect x="500.1" y="156.4" width="4.8" height="4.8" fill="#feeba1"/><rect x="504.4" y="156.4" width="4.8" height="4.8" fill="#fdfec3"/><rect x="508.7" y="156.4" width="4.8" height="4.8" fill="#e4f5f0"/><rect x="513.0" y="156.4" width="4.8" height="4.8" fill="#c9e8f1"/><rect x="517.3" y="156.4" width="4.8" height="4.8" fill="#b5deec"/><rect x="521.6" y="156.4" width="4.8" height="4.8" fill="#a1d1e4"/><rect x="525.9" y="156.4" width="4.8" height="4.8" fill="#8cc0dc"/><rect x="530.2" y="156.4" width="4.8" height="4.8" fill="#77b0d2"/><rect x="534.5" y="156.4" width="4.8" height="4.8" fill="#659cc8"/><rect x="538.8" y="156.4" width="4.8" height="4.8" fill="#689fca"/><rect x="543.1" y="156.4" width="4.8" height="4.8" fill="#82b8d7"/><rect x="547.4" y="156.4" width="4.8" height="4.8" fill="#9dcee3"/><rect x="551.8" y="156.4" width="4.8" height="4.8" fill="#b8dfed"/><rect x="556.1" y="156.4" width="4.8" height="4.8" fill="#c2e4f0"/><rect x="560.4" y="156.4" width="4.8" height="4.8" fill="#bce1ee"/><rect x="564.7" y="156.4" width="4.8" height="4.8" fill="#c2e4f0"/><rect x="569.0" y="156.4" width="4.8" height="4.8" fill="#d6eef5"/><rect x="573.3" y="156.4" width="4.8" height="4.8" fill="#e0f3f8"/><rect x="577.6" y="156.4" width="4.8" height="4.8" fill="#e0f3f8"/><rect x="581.9" y="156.4" width="4.8" height="4.8" fill="#e0f3f8"/><rect x="396.7" y="160.7" width="4.8" height="4.8" fill="#9dcee3"/><rect x="401.0" y="160.7" width="4.8" height="4.8" fill="#9dcee3"/><rect x="405.3" y="160.7" width="4.8" height="4.8" fill="#9dcee3"/><rect x="409.6" y="160.7" width="4.8" height="4.8" fill="#a1d1e4"/><rect x="413.9" y="160.7" width="4.8" height="4.8" fill="#a8d6e7"/><rect x="418.2" y="160.7" width="4.8" height="4.8" fill="#aedbea"/><rect x="422.5" y="160.7" width="4.8" height="4.8" fill="#b5deec"/><rect x="426.8" y="160.7" width="4.8" height="4.8" fill="#c2e4f0"/><rect x="431.1" y="160.7" width="4.8" height="4.8" fill="#d6eef5"/><rect x="435.5" y="160.7" width="4.8" height="4.8" fill="#e2f4f4"/><rect x="439.8" y="160.7" width="4.8" height="4.8" fill="#e6f5ed"/><rect x="444.1" y="160.7" width="4.8" height="4.8" fill="#eef8df"/><rect x="448.4" y="160.7" width="4.8" height="4.8" fill="#f9fdca"/><rect x="452.7" y="160.7" width="4.8" height="4.8" fill="#fff2ac"/><rect x="457.0" y="160.7" width="4.8" height="4.8" fill="#fed485"/><rect x="461.3" y="160.7" width="4.8" height="4.8" fill="#fdb366"/><rect x="465.6" y="160.7" width="4.8" height="4.8" fill="#f99455"/><rect x="469.9" y="160.7" width="4.8" height="4.8" fill="#fa9b58"/><rect x="474.2" y="160.7" width="4.8" height="4.8" fill="#fdc375"/><rect x="478.5" y="160.7" width="4.8" height="4.8" fill="#fede8e"/><rect x="482.8" y="160.7" width="4.8" height="4.8" fill="#feea9f"/><rect x="487.1" y="160.7" width="4.8" height="4.8" fill="#feeca1"/><rect x="491.5" y="160.7" width="4.8" height="4.8" fill="#fee394"/><rect x="495.8" y="160.7" width="4.8" height="4.8" fill="#feeba1"/><rect x="500.1" y="160.7" width="4.8" height="4.8" fill="#fafdc8"/><rect x="504.4" y="160.7" width="4.8" height="4.8" fill="#e4f5f0"/><rect x="508.7" y="160.7" width="4.8" height="4.8" fill="#c8e7f1"/><rect x="513.0" y="160.7" width="4.8" height="4.8" fill="#b5deec"/><rect x="517.3" y="160.7" width="4.8" height="4.8" fill="#aedbea"/><rect x="521.6" y="160.7" width="4.8" height="4.8" fill="#a8d6e7"/><rect x="525.9" y="160.7" width="4.8" height="4.8" fill="#a1d1e4"/><rect x="530.2" y="160.7" width="4.8" height="4.8" fill="#9acbe2"/><rect x="534.5" y="160.7" width="4.8" height="4.8" fill="#93c6de"/><rect x="538.8" y="160.7" width="4.8" height="4.8" fill="#9dcee3"/><rect x="543.1" y="160.7" width="4.8" height="4.8" fill="#b8e0ed"/><rect x="547.4" y="160.7" width="4.8" height="4.8" fill="#d3ecf4"/><rect x="551.8" y="160.7" width="4.8" height="4.8" fill="#e8f6ea"/><rect x="556.1" y="160.7" width="4.8" height="4.8" fill="#eaf7e6"/><rect x="560.4" y="160.7" width="4.8" height="4.8" fill="#ddf1f7"/><rect x="564.7" y="160.7" width="4.8" height="4.8" fill="#d6eef5"/><rect x="569.0" y="160.7" width="4.8" height="4.8" fill="#ddf1f7"/><rect x="573.3" y="160.7" width="4.8" height="4.8" fill="#e0f3f8"/><rect x="577.6" y="160.7" width="4.8" height="4.8" fill="#e0f3f8"/><rect x="581.9" y="160.7" width="4.8" height="4.8" fill="#e0f3f8"/><rect x="396.7" y="165.0" width="4.8" height="4.8" fill="#b8dfed"/><rect x="401.0" y="165.0" width="4.8" height="4.8" fill="#b8dfed"/><rect x="405.3" y="165.0" width="4.8" height="4.8" fill="#b8dfed"/><rect x="409.6" y="165.0" width="4.8" height="4.8" fill="#b5deec"/><rect x="413.9" y="165.0" width="4.8" height="4.8" fill="#aedbea"/><rect x="418.2" y="165.0" width="4.8" height="4.8" fill="#abd9e9"/><rect x="422.5" y="165.0" width="4.8" height="4.8" fill="#abd9e9"/><rect x="426.8" y="165.0" width="4.8" height="4.8" fill="#b5deec"/><rect x="431.1" y="165.0" width="4.8" height="4.8" fill="#c9e8f1"/><rect x="435.5" y="165.0" width="4.8" height="4.8" fill="#d3ecf4"/><rect x="439.8" y="165.0" width="4.8" height="4.8" fill="#d3ecf4"/><rect x="444.1" y="165.0" width="4.8" height="4.8" fill="#e0f3f8"/><rect x="448.4" y="165.0" width="4.8" height="4.8" fill="#f0f9dc"/><rect x="452.7" y="165.0" width="4.8" height="4.8" fill="#fff9b7"/><rect x="457.0" y="165.0" width="4.8" height="4.8" fill="#fede8e"/><rect x="461.3" y="165.0" width="4.8" height="4.8" fill="#fdc577"/><rect x="465.6" y="165.0" width="4.8" height="4.8" fill="#fdbf71"/><rect x="469.9" y="165.0" width="4.8" height="4.8" fill="#fed081"/><rect x="474.2" y="165.0" width="4.8" height="4.8" fill="#fff0a8"/><rect x="478.5" y="165.0" width="4.8" height="4.8" fill="#fffebd"/><rect x="482.8" y="165.0" width="4.8" height="4.8" fill="#ffffbe"/><rect x="487.1" y="165.0" width="4.8" height="4.8" fill="#fff9b6"/><rect x="491.5" y="165.0" width="4.8" height="4.8" fill="#feeea5"/><rect x="495.8" y="165.0" width="4.8" height="4.8" fill="#fff5b0"/><rect x="500.1" y="165.0" width="4.8" height="4.8" fill="#eef8df"/><rect x="504.4" y="165.0" width="4.8" height="4.8" fill="#d3ecf4"/><rect x="508.7" y="165.0" width="4.8" height="4.8" fill="#b8dfed"/><rect x="513.0" y="165.0" width="4.8" height="4.8" fill="#b2dceb"/><rect x="517.3" y="165.0" width="4.8" height="4.8" fill="#bfe3ef"/><rect x="521.6" y="165.0" width="4.8" height="4.8" fill="#c8e7f1"/><rect x="525.9" y="165.0" width="4.8" height="4.8" fill="#cdeaf3"/><rect x="530.2" y="165.0" width="4.8" height="4.8" fill="#d3edf4"/><rect x="534.5" y="165.0" width="4.8" height="4.8" fill="#dbf1f7"/><rect x="538.8" y="165.0" width="4.8" height="4.8" fill="#e5f5ee"/><rect x="543.1" y="165.0" width="4.8" height="4.8" fill="#f1fad9"/><rect x="547.4" y="165.0" width="4.8" height="4.8" fill="#fafdc8"/><rect x="551.8" y="165.0" width="4.8" height="4.8" fill="#fffdbb"/><rect x="556.1" y="165.0" width="4.8" height="4.8" fill="#fefec2"/><rect x="560.4" y="165.0" width="4.8" height="4.8" fill="#eff9dc"/><rect x="564.7" y="165.0" width="4.8" height="4.8" fill="#e6f5ed"/><rect x="569.0" y="165.0" width="4.8" height="4.8" fill="#e2f4f4"/><rect x="573.3" y="165.0" width="4.8" height="4.8" fill="#e0f3f8"/><rect x="577.6" y="165.0" width="4.8" height="4.8" fill="#e0f3f8"/><rect x="581.9" y="165.0" width="4.8" height="4.8" fill="#e0f3f8"/><rect x="396.7" y="169.3" width="4.8" height="4.8" fill="#d3ecf4"/><rect x="401.0" y="169.3" width="4.8" height="4.8" fill="#d3ecf4"/><rect x="405.3" y="169.3" width="4.8" height="4.8" fill="#d3ecf4"/><rect x="409.6" y="169.3" width="4.8" height="4.8" fill="#c9e8f1"/><rect x="413.9" y="169.3" width="4.8" height="4.8" fill="#b5deec"/><rect x="418.2" y="169.3" width="4.8" height="4.8" fill="#abd9e9"/><rect x="422.5" y="169.3" width="4.8" height="4.8" fill="#abd9e9"/><rect x="426.8" y="169.3" width="4.8" height="4.8" fill="#aedbea"/><rect x="431.1" y="169.3" width="4.8" height="4.8" fill="#b5deec"/><rect x="435.5" y="169.3" width="4.8" height="4.8" fill="#b8dfed"/><rect x="439.8" y="169.3" width="4.8" height="4.8" fill="#b8dfed"/><rect x="444.1" y="169.3" width="4.8" height="4.8" fill="#c6e6f0"/><rect x="448.4" y="169.3" width="4.8" height="4.8" fill="#e0f3f8"/><rect x="452.7" y="169.3" width="4.8" height="4.8" fill="#f1fad8"/><rect x="457.0" y="169.3" width="4.8" height="4.8" fill="#fff9b7"/><rect x="461.3" y="169.3" width="4.8" height="4.8" fill="#fff4af"/><rect x="465.6" y="169.3" width="4.8" height="4.8" fill="#fffdbc"/><rect x="469.9" y="169.3" width="4.8" height="4.8" fill="#f3fad5"/><rect x="474.2" y="169.3" width="4.8" height="4.8" fill="#e0f3f8"/><rect x="478.5" y="169.3" width="4.8" height="4.8" fill="#e0f3f7"/><rect x="482.8" y="169.3" width="4.8" height="4.8" fill="#f5fbd2"/><rect x="487.1" y="169.3" width="4.8" height="4.8" fill="#fff9b6"/><rect x="491.5" y="169.3" width="4.8" height="4.8" fill="#feeea5"/><rect x="495.8" y="169.3" width="4.8" height="4.8" fill="#fff5b0"/><rect x="500.1" y="169.3" width="4.8" height="4.8" fill="#eef8df"/><rect x="504.4" y="169.3" width="4.8" height="4.8" fill="#d3ecf4"/><rect x="508.7" y="169.3" width="4.8" height="4.8" fill="#b8dfed"/><rect x="513.0" y="169.3" width="4.8" height="4.8" fill="#bfe3ef"/><rect x="517.3" y="169.3" width="4.8" height="4.8" fill="#e4f4f1"/><rect x="521.6" y="169.3" width="4.8" height="4.8" fill="#f4fbd3"/><rect x="525.9" y="169.3" width="4.8" height="4.8" fill="#fdfec3"/><rect x="530.2" y="169.3" width="4.8" height="4.8" fill="#fff6b1"/><rect x="534.5" y="169.3" width="4.8" height="4.8" fill="#fee89c"/><rect x="538.8" y="169.3" width="4.8" height="4.8" fill="#fedf8f"/><rect x="543.1" y="169.3" width="4.8" height="4.8" fill="#fed889"/><rect x="547.4" y="169.3" width="4.8" height="4.8" fill="#fede8e"/><rect x="551.8" y="169.3" width="4.8" height="4.8" fill="#fee99d"/><rect x="556.1" y="169.3" width="4.8" height="4.8" fill="#fff4ae"/><rect x="560.4" y="169.3" width="4.8" height="4.8" fill="#fefec2"/><rect x="564.7" y="169.3" width="4.8" height="4.8" fill="#f1fad8"/><rect x="569.0" y="169.3" width="4.8" height="4.8" fill="#e6f5ed"/><rect x="573.3" y="169.3" width="4.8" height="4.8" fill="#e0f3f8"/><rect x="577.6" y="169.3" width="4.8" height="4.8" fill="#e0f3f8"/><rect x="581.9" y="169.3" width="4.8" height="4.8" fill="#e0f3f8"/><rect x="396.7" y="173.6" width="4.8" height="4.8" fill="#e0f3f8"/><rect x="401.0" y="173.6" width="4.8" height="4.8" fill="#e0f3f8"/><rect x="405.3" y="173.6" width="4.8" height="4.8" fill="#e0f3f8"/><rect x="409.6" y="173.6" width="4.8" height="4.8" fill="#d3ecf4"/><rect x="413.9" y="173.6" width="4.8" height="4.8" fill="#b8dfed"/><rect x="418.2" y="173.6" width="4.8" height="4.8" fill="#abd9e9"/><rect x="422.5" y="173.6" width="4.8" height="4.8" fill="#abd9e9"/><rect x="426.8" y="173.6" width="4.8" height="4.8" fill="#abd9e9"/><rect x="431.1" y="173.6" width="4.8" height="4.8" fill="#abd9e9"/><rect x="435.5" y="173.6" width="4.8" height="4.8" fill="#aedbea"/><rect x="439.8" y="173.6" width="4.8" height="4.8" fill="#b5deec"/><rect x="444.1" y="173.6" width="4.8" height="4.8" fill="#c2e4f0"/><rect x="448.4" y="173.6" width="4.8" height="4.8" fill="#d6eef5"/><rect x="452.7" y="173.6" width="4.8" height="4.8" fill="#e8f6ea"/><rect x="457.0" y="173.6" width="4.8" height="4.8" fill="#f7fccd"/><rect x="461.3" y="173.6" width="4.8" height="4.8" fill="#f7fccd"/><rect x="465.6" y="173.6" width="4.8" height="4.8" fill="#e8f6ea"/><rect x="469.9" y="173.6" width="4.8" height="4.8" fill="#d9f0f6"/><rect x="474.2" y="173.6" width="4.8" height="4.8" fill="#cce9f2"/><rect x="478.5" y="173.6" width="4.8" height="4.8" fill="#d9f0f6"/><rect x="482.8" y="173.6" width="4.8" height="4.8" fill="#f3fad4"/><rect x="487.1" y="173.6" width="4.8" height="4.8" fill="#fffbb8"/><rect x="491.5" y="173.6" width="4.8" height="4.8" fill="#fff2ab"/><rect x="495.8" y="173.6" width="4.8" height="4.8" fill="#fffab7"/><rect x="500.1" y="173.6" width="4.8" height="4.8" fill="#ecf8e2"/><rect x="504.4" y="173.6" width="4.8" height="4.8" fill="#d3ecf4"/><rect x="508.7" y="173.6" width="4.8" height="4.8" fill="#b8dfed"/><rect x="513.0" y="173.6" width="4.8" height="4.8" fill="#c6e6f0"/><rect x="517.3" y="173.6" width="4.8" height="4.8" fill="#f0f9dc"/><rect x="521.6" y="173.6" width="4.8" height="4.8" fill="#fff7b3"/><rect x="525.9" y="173.6" width="4.8" height="4.8" fill="#fee79a"/><rect x="530.2" y="173.6" width="4.8" height="4.8" fill="#fed081"/><rect x="534.5" y="173.6" width="4.8" height="4.8" fill="#fdb568"/><rect x="538.8" y="173.6" width="4.8" height="4.8" fill="#fca95f"/><rect x="543.1" y="173.6" width="4.8" height="4.8" fill="#fdae61"/><rect x="547.4" y="173.6" width="4.8" height="4.8" fill="#fdc071"/><rect x="551.8" y="173.6" width="4.8" height="4.8" fill="#fede8e"/><rect x="556.1" y="173.6" width="4.8" height="4.8" fill="#fef0a8"/><rect x="560.4" y="173.6" width="4.8" height="4.8" fill="#ffffbf"/><rect x="564.7" y="173.6" width="4.8" height="4.8" fill="#f1fad8"/><rect x="569.0" y="173.6" width="4.8" height="4.8" fill="#e6f5ed"/><rect x="573.3" y="173.6" width="4.8" height="4.8" fill="#e0f3f8"/><rect x="577.6" y="173.6" width="4.8" height="4.8" fill="#e0f3f8"/><rect x="581.9" y="173.6" width="4.8" height="4.8" fill="#e0f3f8"/><rect x="396.7" y="178.0" width="4.8" height="4.8" fill="#e0f3f8"/><rect x="401.0" y="178.0" width="4.8" height="4.8" fill="#e0f3f8"/><rect x="405.3" y="178.0" width="4.8" height="4.8" fill="#e0f3f8"/><rect x="409.6" y="178.0" width="4.8" height="4.8" fill="#d3ecf4"/><rect x="413.9" y="178.0" width="4.8" height="4.8" fill="#b8dfed"/><rect x="418.2" y="178.0" width="4.8" height="4.8" fill="#abd9e9"/><rect x="422.5" y="178.0" width="4.8" height="4.8" fill="#abd9e9"/><rect x="426.8" y="178.0" width="4.8" height="4.8" fill="#abd9e9"/><rect x="431.1" y="178.0" width="4.8" height="4.8" fill="#abd9e9"/><rect x="435.5" y="178.0" width="4.8" height="4.8" fill="#b5deec"/><rect x="439.8" y="178.0" width="4.8" height="4.8" fill="#c9e8f1"/><rect x="444.1" y="178.0" width="4.8" height="4.8" fill="#d6eef5"/><rect x="448.4" y="178.0" width="4.8" height="4.8" fill="#ddf1f7"/><rect x="452.7" y="178.0" width="4.8" height="4.8" fill="#e8f6ea"/><rect x="457.0" y="178.0" width="4.8" height="4.8" fill="#f7fccd"/><rect x="461.3" y="178.0" width="4.8" height="4.8" fill="#f7fccd"/><rect x="465.6" y="178.0" width="4.8" height="4.8" fill="#e8f6ea"/><rect x="469.9" y="178.0" width="4.8" height="4.8" fill="#e4f4f1"/><rect x="474.2" y="178.0" width="4.8" height="4.8" fill="#ecf8e3"/><rect x="478.5" y="178.0" width="4.8" height="4.8" fill="#f3fad4"/><rect x="482.8" y="178.0" width="4.8" height="4.8" fill="#fbfec6"/><rect x="487.1" y="178.0" width="4.8" height="4.8" fill="#fffebd"/><rect x="491.5" y="178.0" width="4.8" height="4.8" fill="#fffbb8"/><rect x="495.8" y="178.0" width="4.8" height="4.8" fill="#fcfec5"/><rect x="500.1" y="178.0" width="4.8" height="4.8" fill="#e9f7e7"/><rect x="504.4" y="178.0" width="4.8" height="4.8" fill="#d3ecf4"/><rect x="508.7" y="178.0" width="4.8" height="4.8" fill="#b8dfed"/><rect x="513.0" y="178.0" width="4.8" height="4.8" fill="#c6e6f0"/><rect x="517.3" y="178.0" width="4.8" height="4.8" fill="#f0f9dc"/><rect x="521.6" y="178.0" width="4.8" height="4.8" fill="#fff2ac"/><rect x="525.9" y="178.0" width="4.8" height="4.8" fill="#fed485"/><rect x="530.2" y="178.0" width="4.8" height="4.8" fill="#fdb568"/><rect x="534.5" y="178.0" width="4.8" height="4.8" fill="#fb9d59"/><rect x="538.8" y="178.0" width="4.8" height="4.8" fill="#fa9857"/><rect x="543.1" y="178.0" width="4.8" height="4.8" fill="#fca95f"/><rect x="547.4" y="178.0" width="4.8" height="4.8" fill="#fdc071"/><rect x="551.8" y="178.0" width="4.8" height="4.8" fill="#fede8e"/><rect x="556.1" y="178.0" width="4.8" height="4.8" fill="#fff3ad"/><rect x="560.4" y="178.0" width="4.8" height="4.8" fill="#f3fad4"/><rect x="564.7" y="178.0" width="4.8" height="4.8" fill="#e6f5ed"/><rect x="569.0" y="178.0" width="4.8" height="4.8" fill="#e2f4f4"/><rect x="573.3" y="178.0" width="4.8" height="4.8" fill="#e0f3f8"/><rect x="577.6" y="178.0" width="4.8" height="4.8" fill="#e0f3f8"/><rect x="581.9" y="178.0" width="4.8" height="4.8" fill="#e0f3f8"/><rect x="396.7" y="182.3" width="4.8" height="4.8" fill="#e8f6ea"/><rect x="401.0" y="182.3" width="4.8" height="4.8" fill="#e8f6ea"/><rect x="405.3" y="182.3" width="4.8" height="4.8" fill="#e8f6ea"/><rect x="409.6" y="182.3" width="4.8" height="4.8" fill="#e0f3f8"/><rect x="413.9" y="182.3" width="4.8" height="4.8" fill="#c6e6f0"/><rect x="418.2" y="182.3" width="4.8" height="4.8" fill="#bce1ee"/><rect x="422.5" y="182.3" width="4.8" height="4.8" fill="#c2e4f0"/><rect x="426.8" y="182.3" width="4.8" height="4.8" fill="#c2e4f0"/><rect x="431.1" y="182.3" width="4.8" height="4.8" fill="#bce1ee"/><rect x="435.5" y="182.3" width="4.8" height="4.8" fill="#c2e4f0"/><rect x="439.8" y="182.3" width="4.8" height="4.8" fill="#d6eef5"/><rect x="444.1" y="182.3" width="4.8" height="4.8" fill="#e0f3f8"/><rect x="448.4" y="182.3" width="4.8" height="4.8" fill="#e0f3f8"/><rect x="452.7" y="182.3" width="4.8" height="4.8" fill="#e8f6ea"/><rect x="457.0" y="182.3" width="4.8" height="4.8" fill="#f7fccd"/><rect x="461.3" y="182.3" width="4.8" height="4.8" fill="#f9fdca"/><rect x="465.6" y="182.3" width="4.8" height="4.8" fill="#eef8df"/><rect x="469.9" y="182.3" width="4.8" height="4.8" fill="#eef8df"/><rect x="474.2" y="182.3" width="4.8" height="4.8" fill="#f9fdca"/><rect x="478.5" y="182.3" width="4.8" height="4.8" fill="#ffffbf"/><rect x="482.8" y="182.3" width="4.8" height="4.8" fill="#ffffbf"/><rect x="487.1" y="182.3" width="4.8" height="4.8" fill="#fdfec3"/><rect x="491.5" y="182.3" width="4.8" height="4.8" fill="#f9fdca"/><rect x="495.8" y="182.3" width="4.8" height="4.8" fill="#f0f9dc"/><rect x="500.1" y="182.3" width="4.8" height="4.8" fill="#e0f3f8"/><rect x="504.4" y="182.3" width="4.8" height="4.8" fill="#c6e6f0"/><rect x="508.7" y="182.3" width="4.8" height="4.8" fill="#abd9e9"/><rect x="513.0" y="182.3" width="4.8" height="4.8" fill="#b8dfed"/><rect x="517.3" y="182.3" width="4.8" height="4.8" fill="#e8f6ea"/><rect x="521.6" y="182.3" width="4.8" height="4.8" fill="#fff9b7"/><rect x="525.9" y="182.3" width="4.8" height="4.8" fill="#fede8e"/><rect x="530.2" y="182.3" width="4.8" height="4.8" fill="#fdc072"/><rect x="534.5" y="182.3" width="4.8" height="4.8" fill="#fdae61"/><rect x="538.8" y="182.3" width="4.8" height="4.8" fill="#fdab60"/><rect x="543.1" y="182.3" width="4.8" height="4.8" fill="#fdb96b"/><rect x="547.4" y="182.3" width="4.8" height="4.8" fill="#fecb7c"/><rect x="551.8" y="182.3" width="4.8" height="4.8" fill="#fee191"/><rect x="556.1" y="182.3" width="4.8" height="4.8" fill="#fff1a9"/><rect x="560.4" y="182.3" width="4.8" height="4.8" fill="#fbfec6"/><rect x="564.7" y="182.3" width="4.8" height="4.8" fill="#f1fad9"/><rect x="569.0" y="182.3" width="4.8" height="4.8" fill="#eff9dd"/><rect x="573.3" y="182.3" width="4.8" height="4.8" fill="#eef8df"/><rect x="577.6" y="182.3" width="4.8" height="4.8" fill="#eef8df"/><rect x="581.9" y="182.3" width="4.8" height="4.8" fill="#eef8df"/><rect x="396.7" y="186.6" width="4.8" height="4.8" fill="#f7fccd"/><rect x="401.0" y="186.6" width="4.8" height="4.8" fill="#f7fccd"/><rect x="405.3" y="186.6" width="4.8" height="4.8" fill="#f7fccd"/><rect x="409.6" y="186.6" width="4.8" height="4.8" fill="#f0f9dc"/><rect x="413.9" y="186.6" width="4.8" height="4.8" fill="#e0f3f8"/><rect x="418.2" y="186.6" width="4.8" height="4.8" fill="#ddf1f7"/><rect x="422.5" y="186.6" width="4.8" height="4.8" fill="#eaf7e6"/><rect x="426.8" y="186.6" width="4.8" height="4.8" fill="#eaf7e6"/><rect x="431.1" y="186.6" width="4.8" height="4.8" fill="#ddf1f7"/><rect x="435.5" y="186.6" width="4.8" height="4.8" fill="#d6eef5"/><rect x="439.8" y="186.6" width="4.8" height="4.8" fill="#ddf1f7"/><rect x="444.1" y="186.6" width="4.8" height="4.8" fill="#e0f3f8"/><rect x="448.4" y="186.6" width="4.8" height="4.8" fill="#e0f3f8"/><rect x="452.7" y="186.6" width="4.8" height="4.8" fill="#e8f6ea"/><rect x="457.0" y="186.6" width="4.8" height="4.8" fill="#f7fccd"/><rect x="461.3" y="186.6" width="4.8" height="4.8" fill="#fdfec3"/><rect x="465.6" y="186.6" width="4.8" height="4.8" fill="#f9fdca"/><rect x="469.9" y="186.6" width="4.8" height="4.8" fill="#f9fdca"/><rect x="474.2" y="186.6" width="4.8" height="4.8" fill="#fdfec3"/><rect x="478.5" y="186.6" width="4.8" height="4.8" fill="#ffffbf"/><rect x="482.8" y="186.6" width="4.8" height="4.8" fill="#ffffbf"/><rect x="487.1" y="186.6" width="4.8" height="4.8" fill="#f9fdca"/><rect x="491.5" y="186.6" width="4.8" height="4.8" fill="#eef8df"/><rect x="495.8" y="186.6" width="4.8" height="4.8" fill="#e0f3f8"/><rect x="500.1" y="186.6" width="4.8" height="4.8" fill="#c6e6f0"/><rect x="504.4" y="186.6" width="4.8" height="4.8" fill="#abd9e9"/><rect x="508.7" y="186.6" width="4.8" height="4.8" fill="#90c3dd"/><rect x="513.0" y="186.6" width="4.8" height="4.8" fill="#9dcee3"/><rect x="517.3" y="186.6" width="4.8" height="4.8" fill="#d3ecf4"/><rect x="521.6" y="186.6" width="4.8" height="4.8" fill="#f1fad8"/><rect x="525.9" y="186.6" width="4.8" height="4.8" fill="#fff9b7"/><rect x="530.2" y="186.6" width="4.8" height="4.8" fill="#feea9f"/><rect x="534.5" y="186.6" width="4.8" height="4.8" fill="#fede8e"/><rect x="538.8" y="186.6" width="4.8" height="4.8" fill="#fed787"/><rect x="543.1" y="186.6" width="4.8" height="4.8" fill="#fedb8c"/><rect x="547.4" y="186.6" width="4.8" height="4.8" fill="#fee191"/><rect x="551.8" y="186.6" width="4.8" height="4.8" fill="#fee598"/><rect x="556.1" y="186.6" width="4.8" height="4.8" fill="#fee89c"/><rect x="560.4" y="186.6" width="4.8" height="4.8" fill="#fee79b"/><rect x="564.7" y="186.6" width="4.8" height="4.8" fill="#feeba0"/><rect x="569.0" y="186.6" width="4.8" height="4.8" fill="#fff2ab"/><rect x="573.3" y="186.6" width="4.8" height="4.8" fill="#fff5b0"/><rect x="577.6" y="186.6" width="4.8" height="4.8" fill="#fff5b0"/><rect x="581.9" y="186.6" width="4.8" height="4.8" fill="#fff5b0"/><rect x="396.7" y="190.9" width="4.8" height="4.8" fill="#fff5af"/><rect x="401.0" y="190.9" width="4.8" height="4.8" fill="#fff5af"/><rect x="405.3" y="190.9" width="4.8" height="4.8" fill="#fff5af"/><rect x="409.6" y="190.9" width="4.8" height="4.8" fill="#fffcba"/><rect x="413.9" y="190.9" width="4.8" height="4.8" fill="#f5fbd2"/><rect x="418.2" y="190.9" width="4.8" height="4.8" fill="#f2fad7"/><rect x="422.5" y="190.9" width="4.8" height="4.8" fill="#fbfdc7"/><rect x="426.8" y="190.9" width="4.8" height="4.8" fill="#f7fccd"/><rect x="431.1" y="190.9" width="4.8" height="4.8" fill="#e8f6ea"/><rect x="435.5" y="190.9" width="4.8" height="4.8" fill="#e0f3f8"/><rect x="439.8" y="190.9" width="4.8" height="4.8" fill="#e0f3f8"/><rect x="444.1" y="190.9" width="4.8" height="4.8" fill="#e0f3f8"/><rect x="448.4" y="190.9" width="4.8" height="4.8" fill="#e0f3f8"/><rect x="452.7" y="190.9" width="4.8" height="4.8" fill="#e8f6ea"/><rect x="457.0" y="190.9" width="4.8" height="4.8" fill="#f7fccd"/><rect x="461.3" y="190.9" width="4.8" height="4.8" fill="#ffffbf"/><rect x="465.6" y="190.9" width="4.8" height="4.8" fill="#ffffbf"/><rect x="469.9" y="190.9" width="4.8" height="4.8" fill="#ffffbf"/><rect x="474.2" y="190.9" width="4.8" height="4.8" fill="#ffffbf"/><rect x="478.5" y="190.9" width="4.8" height="4.8" fill="#fdfec3"/><rect x="482.8" y="190.9" width="4.8" height="4.8" fill="#f9fdca"/><rect x="487.1" y="190.9" width="4.8" height="4.8" fill="#f0f9dc"/><rect x="491.5" y="190.9" width="4.8" height="4.8" fill="#e0f3f8"/><rect x="495.8" y="190.9" width="4.8" height="4.8" fill="#c6e6f0"/><rect x="500.1" y="190.9" width="4.8" height="4.8" fill="#abd9e9"/><rect x="504.4" y="190.9" width="4.8" height="4.8" fill="#96c8e0"/><rect x="508.7" y="190.9" width="4.8" height="4.8" fill="#89beda"/><rect x="513.0" y="190.9" width="4.8" height="4.8" fill="#9acbe2"/><rect x="517.3" y="190.9" width="4.8" height="4.8" fill="#c9e8f1"/><rect x="521.6" y="190.9" width="4.8" height="4.8" fill="#e6f5ed"/><rect x="525.9" y="190.9" width="4.8" height="4.8" fill="#f1fad8"/><rect x="530.2" y="190.9" width="4.8" height="4.8" fill="#fefec2"/><rect x="534.5" y="190.9" width="4.8" height="4.8" fill="#fff4ae"/><rect x="538.8" y="190.9" width="4.8" height="4.8" fill="#feeea5"/><rect x="543.1" y="190.9" width="4.8" height="4.8" fill="#feeea5"/><rect x="547.4" y="190.9" width="4.8" height="4.8" fill="#feeca2"/><rect x="551.8" y="190.9" width="4.8" height="4.8" fill="#fee99e"/><rect x="556.1" y="190.9" width="4.8" height="4.8" fill="#fee496"/><rect x="560.4" y="190.9" width="4.8" height="4.8" fill="#fedc8c"/><rect x="564.7" y="190.9" width="4.8" height="4.8" fill="#feda8a"/><rect x="569.0" y="190.9" width="4.8" height="4.8" fill="#fee191"/><rect x="573.3" y="190.9" width="4.8" height="4.8" fill="#fee395"/><rect x="577.6" y="190.9" width="4.8" height="4.8" fill="#fee395"/><rect x="581.9" y="190.9" width="4.8" height="4.8" fill="#fee395"/><rect x="396.7" y="195.2" width="4.8" height="4.8" fill="#fedf8f"/><rect x="401.0" y="195.2" width="4.8" height="4.8" fill="#fedf8f"/><rect x="405.3" y="195.2" width="4.8" height="4.8" fill="#fedf8f"/><rect x="409.6" y="195.2" width="4.8" height="4.8" fill="#fee598"/><rect x="413.9" y="195.2" width="4.8" height="4.8" fill="#fff0a8"/><rect x="418.2" y="195.2" width="4.8" height="4.8" fill="#fff8b4"/><rect x="422.5" y="195.2" width="4.8" height="4.8" fill="#fffdbb"/><rect x="426.8" y="195.2" width="4.8" height="4.8" fill="#f7fccd"/><rect x="431.1" y="195.2" width="4.8" height="4.8" fill="#e8f6ea"/><rect x="435.5" y="195.2" width="4.8" height="4.8" fill="#e0f3f8"/><rect x="439.8" y="195.2" width="4.8" height="4.8" fill="#e0f3f8"/><rect x="444.1" y="195.2" width="4.8" height="4.8" fill="#e0f3f8"/><rect x="448.4" y="195.2" width="4.8" height="4.8" fill="#e0f3f8"/><rect x="452.7" y="195.2" width="4.8" height="4.8" fill="#e8f6ea"/><rect x="457.0" y="195.2" width="4.8" height="4.8" fill="#f7fccd"/><rect x="461.3" y="195.2" width="4.8" height="4.8" fill="#ffffbf"/><rect x="465.6" y="195.2" width="4.8" height="4.8" fill="#ffffbf"/><rect x="469.9" y="195.2" width="4.8" height="4.8" fill="#ffffbf"/><rect x="474.2" y="195.2" width="4.8" height="4.8" fill="#ffffbf"/><rect x="478.5" y="195.2" width="4.8" height="4.8" fill="#f9fdca"/><rect x="482.8" y="195.2" width="4.8" height="4.8" fill="#eef8df"/><rect x="487.1" y="195.2" width="4.8" height="4.8" fill="#e0f3f8"/><rect x="491.5" y="195.2" width="4.8" height="4.8" fill="#c6e6f0"/><rect x="495.8" y="195.2" width="4.8" height="4.8" fill="#abd9e9"/><rect x="500.1" y="195.2" width="4.8" height="4.8" fill="#90c3dd"/><rect x="504.4" y="195.2" width="4.8" height="4.8" fill="#89beda"/><rect x="508.7" y="195.2" width="4.8" height="4.8" fill="#96c8e0"/><rect x="513.0" y="195.2" width="4.8" height="4.8" fill="#aedbea"/><rect x="517.3" y="195.2" width="4.8" height="4.8" fill="#cfebf3"/><rect x="521.6" y="195.2" width="4.8" height="4.8" fill="#e2f4f4"/><rect x="525.9" y="195.2" width="4.8" height="4.8" fill="#e6f5ed"/><rect x="530.2" y="195.2" width="4.8" height="4.8" fill="#eff9dc"/><rect x="534.5" y="195.2" width="4.8" height="4.8" fill="#fefec2"/><rect x="538.8" y="195.2" width="4.8" height="4.8" fill="#fff9b6"/><rect x="543.1" y="195.2" width="4.8" height="4.8" fill="#fff9b6"/><rect x="547.4" y="195.2" width="4.8" height="4.8" fill="#fff5b0"/><rect x="551.8" y="195.2" width="4.8" height="4.8" fill="#feeca2"/><rect x="556.1" y="195.2" width="4.8" height="4.8" fill="#fee79a"/><rect x="560.4" y="195.2" width="4.8" height="4.8" fill="#fee496"/><rect x="564.7" y="195.2" width="4.8" height="4.8" fill="#fee191"/><rect x="569.0" y="195.2" width="4.8" height="4.8" fill="#feda8a"/><rect x="573.3" y="195.2" width="4.8" height="4.8" fill="#fed687"/><rect x="577.6" y="195.2" width="4.8" height="4.8" fill="#fed687"/><rect x="581.9" y="195.2" width="4.8" height="4.8" fill="#fed687"/><rect x="396.7" y="199.5" width="4.8" height="4.8" fill="#fece80"/><rect x="401.0" y="199.5" width="4.8" height="4.8" fill="#fece80"/><rect x="405.3" y="199.5" width="4.8" height="4.8" fill="#fece80"/><rect x="409.6" y="199.5" width="4.8" height="4.8" fill="#fed687"/><rect x="413.9" y="199.5" width="4.8" height="4.8" fill="#fee395"/><rect x="418.2" y="199.5" width="4.8" height="4.8" fill="#feeea5"/><rect x="422.5" y="199.5" width="4.8" height="4.8" fill="#fff9b6"/><rect x="426.8" y="199.5" width="4.8" height="4.8" fill="#f7fccd"/><rect x="431.1" y="199.5" width="4.8" height="4.8" fill="#e8f6ea"/><rect x="435.5" y="199.5" width="4.8" height="4.8" fill="#e0f3f8"/><rect x="439.8" y="199.5" width="4.8" height="4.8" fill="#e0f3f8"/><rect x="444.1" y="199.5" width="4.8" height="4.8" fill="#e0f3f8"/><rect x="448.4" y="199.5" width="4.8" height="4.8" fill="#e0f3f8"/><rect x="452.7" y="199.5" width="4.8" height="4.8" fill="#e8f6ea"/><rect x="457.0" y="199.5" width="4.8" height="4.8" fill="#f7fccd"/><rect x="461.3" y="199.5" width="4.8" height="4.8" fill="#ffffbf"/><rect x="465.6" y="199.5" width="4.8" height="4.8" fill="#ffffbf"/><rect x="469.9" y="199.5" width="4.8" height="4.8" fill="#ffffbf"/><rect x="474.2" y="199.5" width="4.8" height="4.8" fill="#ffffbf"/><rect x="478.5" y="199.5" width="4.8" height="4.8" fill="#f7fccd"/><rect x="482.8" y="199.5" width="4.8" height="4.8" fill="#e8f6ea"/><rect x="487.1" y="199.5" width="4.8" height="4.8" fill="#d3ecf4"/><rect x="491.5" y="199.5" width="4.8" height="4.8" fill="#b8dfed"/><rect x="495.8" y="199.5" width="4.8" height="4.8" fill="#9dcee3"/><rect x="500.1" y="199.5" width="4.8" height="4.8" fill="#82b8d7"/><rect x="504.4" y="199.5" width="4.8" height="4.8" fill="#82b8d7"/><rect x="508.7" y="199.5" width="4.8" height="4.8" fill="#9dcee3"/><rect x="513.0" y="199.5" width="4.8" height="4.8" fill="#b8e0ed"/><rect x="517.3" y="199.5" width="4.8" height="4.8" fill="#d3ecf4"/><rect x="521.6" y="199.5" width="4.8" height="4.8" fill="#e0f3f8"/><rect x="525.9" y="199.5" width="4.8" height="4.8" fill="#e0f3f8"/><rect x="530.2" y="199.5" width="4.8" height="4.8" fill="#e8f6ea"/><rect x="534.5" y="199.5" width="4.8" height="4.8" fill="#f7fccd"/><rect x="538.8" y="199.5" width="4.8" height="4.8" fill="#ffffbf"/><rect x="543.1" y="199.5" width="4.8" height="4.8" fill="#ffffbf"/><rect x="547.4" y="199.5" width="4.8" height="4.8" fill="#fff9b6"/><rect x="551.8" y="199.5" width="4.8" height="4.8" fill="#feeea5"/><rect x="556.1" y="199.5" width="4.8" height="4.8" fill="#fee89c"/><rect x="560.4" y="199.5" width="4.8" height="4.8" fill="#fee89c"/><rect x="564.7" y="199.5" width="4.8" height="4.8" fill="#fee395"/><rect x="569.0" y="199.5" width="4.8" height="4.8" fill="#fed687"/><rect x="573.3" y="199.5" width="4.8" height="4.8" fill="#fece80"/><rect x="577.6" y="199.5" width="4.8" height="4.8" fill="#fece80"/><rect x="581.9" y="199.5" width="4.8" height="4.8" fill="#fece80"/><rect x="396.7" y="203.8" width="4.8" height="4.8" fill="#fece80"/><rect x="401.0" y="203.8" width="4.8" height="4.8" fill="#fece80"/><rect x="405.3" y="203.8" width="4.8" height="4.8" fill="#fece80"/><rect x="409.6" y="203.8" width="4.8" height="4.8" fill="#fed687"/><rect x="413.9" y="203.8" width="4.8" height="4.8" fill="#fee395"/><rect x="418.2" y="203.8" width="4.8" height="4.8" fill="#feeea5"/><rect x="422.5" y="203.8" width="4.8" height="4.8" fill="#fff9b6"/><rect x="426.8" y="203.8" width="4.8" height="4.8" fill="#f7fccd"/><rect x="431.1" y="203.8" width="4.8" height="4.8" fill="#e8f6ea"/><rect x="435.5" y="203.8" width="4.8" height="4.8" fill="#e0f3f8"/><rect x="439.8" y="203.8" width="4.8" height="4.8" fill="#e0f3f8"/><rect x="444.1" y="203.8" width="4.8" height="4.8" fill="#e0f3f8"/><rect x="448.4" y="203.8" width="4.8" height="4.8" fill="#e0f3f8"/><rect x="452.7" y="203.8" width="4.8" height="4.8" fill="#e8f6ea"/><rect x="457.0" y="203.8" width="4.8" height="4.8" fill="#f7fccd"/><rect x="461.3" y="203.8" width="4.8" height="4.8" fill="#ffffbf"/><rect x="465.6" y="203.8" width="4.8" height="4.8" fill="#ffffbf"/><rect x="469.9" y="203.8" width="4.8" height="4.8" fill="#ffffbf"/><rect x="474.2" y="203.8" width="4.8" height="4.8" fill="#ffffbf"/><rect x="478.5" y="203.8" width="4.8" height="4.8" fill="#f7fccd"/><rect x="482.8" y="203.8" width="4.8" height="4.8" fill="#e8f6ea"/><rect x="487.1" y="203.8" width="4.8" height="4.8" fill="#d3ecf4"/><rect x="491.5" y="203.8" width="4.8" height="4.8" fill="#b8dfed"/><rect x="495.8" y="203.8" width="4.8" height="4.8" fill="#9dcee3"/><rect x="500.1" y="203.8" width="4.8" height="4.8" fill="#82b8d7"/><rect x="504.4" y="203.8" width="4.8" height="4.8" fill="#82b8d7"/><rect x="508.7" y="203.8" width="4.8" height="4.8" fill="#9dcee3"/><rect x="513.0" y="203.8" width="4.8" height="4.8" fill="#b8e0ed"/><rect x="517.3" y="203.8" width="4.8" height="4.8" fill="#d3ecf4"/><rect x="521.6" y="203.8" width="4.8" height="4.8" fill="#e0f3f8"/><rect x="525.9" y="203.8" width="4.8" height="4.8" fill="#e0f3f8"/><rect x="530.2" y="203.8" width="4.8" height="4.8" fill="#e8f6ea"/><rect x="534.5" y="203.8" width="4.8" height="4.8" fill="#f7fccd"/><rect x="538.8" y="203.8" width="4.8" height="4.8" fill="#ffffbf"/><rect x="543.1" y="203.8" width="4.8" height="4.8" fill="#ffffbf"/><rect x="547.4" y="203.8" width="4.8" height="4.8" fill="#fff9b6"/><rect x="551.8" y="203.8" width="4.8" height="4.8" fill="#feeea5"/><rect x="556.1" y="203.8" width="4.8" height="4.8" fill="#fee89c"/><rect x="560.4" y="203.8" width="4.8" height="4.8" fill="#fee89c"/><rect x="564.7" y="203.8" width="4.8" height="4.8" fill="#fee395"/><rect x="569.0" y="203.8" width="4.8" height="4.8" fill="#fed687"/><rect x="573.3" y="203.8" width="4.8" height="4.8" fill="#fece80"/><rect x="577.6" y="203.8" width="4.8" height="4.8" fill="#fece80"/><rect x="581.9" y="203.8" width="4.8" height="4.8" fill="#fece80"/><rect x="396.7" y="208.1" width="4.8" height="4.8" fill="#fece80"/><rect x="401.0" y="208.1" width="4.8" height="4.8" fill="#fece80"/><rect x="405.3" y="208.1" width="4.8" height="4.8" fill="#fece80"/><rect x="409.6" y="208.1" width="4.8" height="4.8" fill="#fed687"/><rect x="413.9" y="208.1" width="4.8" height="4.8" fill="#fee395"/><rect x="418.2" y="208.1" width="4.8" height="4.8" fill="#feeea5"/><rect x="422.5" y="208.1" width="4.8" height="4.8" fill="#fff9b6"/><rect x="426.8" y="208.1" width="4.8" height="4.8" fill="#f7fccd"/><rect x="431.1" y="208.1" width="4.8" height="4.8" fill="#e8f6ea"/><rect x="435.5" y="208.1" width="4.8" height="4.8" fill="#e0f3f8"/><rect x="439.8" y="208.1" width="4.8" height="4.8" fill="#e0f3f8"/><rect x="444.1" y="208.1" width="4.8" height="4.8" fill="#e0f3f8"/><rect x="448.4" y="208.1" width="4.8" height="4.8" fill="#e0f3f8"/><rect x="452.7" y="208.1" width="4.8" height="4.8" fill="#e8f6ea"/><rect x="457.0" y="208.1" width="4.8" height="4.8" fill="#f7fccd"/><rect x="461.3" y="208.1" width="4.8" height="4.8" fill="#ffffbf"/><rect x="465.6" y="208.1" width="4.8" height="4.8" fill="#ffffbf"/><rect x="469.9" y="208.1" width="4.8" height="4.8" fill="#ffffbf"/><rect x="474.2" y="208.1" width="4.8" height="4.8" fill="#ffffbf"/><rect x="478.5" y="208.1" width="4.8" height="4.8" fill="#f7fccd"/><rect x="482.8" y="208.1" width="4.8" height="4.8" fill="#e8f6ea"/><rect x="487.1" y="208.1" width="4.8" height="4.8" fill="#d3ecf4"/><rect x="491.5" y="208.1" width="4.8" height="4.8" fill="#b8dfed"/><rect x="495.8" y="208.1" width="4.8" height="4.8" fill="#9dcee3"/><rect x="500.1" y="208.1" width="4.8" height="4.8" fill="#82b8d7"/><rect x="504.4" y="208.1" width="4.8" height="4.8" fill="#82b8d7"/><rect x="508.7" y="208.1" width="4.8" height="4.8" fill="#9dcee3"/><rect x="513.0" y="208.1" width="4.8" height="4.8" fill="#b8e0ed"/><rect x="517.3" y="208.1" width="4.8" height="4.8" fill="#d3ecf4"/><rect x="521.6" y="208.1" width="4.8" height="4.8" fill="#e0f3f8"/><rect x="525.9" y="208.1" width="4.8" height="4.8" fill="#e0f3f8"/><rect x="530.2" y="208.1" width="4.8" height="4.8" fill="#e8f6ea"/><rect x="534.5" y="208.1" width="4.8" height="4.8" fill="#f7fccd"/><rect x="538.8" y="208.1" width="4.8" height="4.8" fill="#ffffbf"/><rect x="543.1" y="208.1" width="4.8" height="4.8" fill="#ffffbf"/><rect x="547.4" y="208.1" width="4.8" height="4.8" fill="#fff9b6"/><rect x="551.8" y="208.1" width="4.8" height="4.8" fill="#feeea5"/><rect x="556.1" y="208.1" width="4.8" height="4.8" fill="#fee89c"/><rect x="560.4" y="208.1" width="4.8" height="4.8" fill="#fee89c"/><rect x="564.7" y="208.1" width="4.8" height="4.8" fill="#fee395"/><rect x="569.0" y="208.1" width="4.8" height="4.8" fill="#fed687"/><rect x="573.3" y="208.1" width="4.8" height="4.8" fill="#fece80"/><rect x="577.6" y="208.1" width="4.8" height="4.8" fill="#fece80"/><rect x="581.9" y="208.1" width="4.8" height="4.8" fill="#fece80"/></g></g><g clip-path="url(#c1)"><radialGradient id="rg1" cx="169" cy="121" r="27" gradientUnits="userSpaceOnUse"><stop offset="0.6" stop-color="#f4f1c8"/><stop offset="0.8" stop-color="#d9eee6"/><stop offset="1" stop-color="#b9dfec"/></radialGradient><path d="M139.8,101.3 C141.32,98.52 146.10,97.32 150.4,96.7 C154.70,96.08 160.53,96.83 165.6,97.6 C170.67,98.37 176.75,99.17 180.8,101.3 C184.85,103.43 187.62,107.12 189.9,110.4 C192.18,113.68 194.25,117.70 194.5,121 C194.75,124.30 193.68,127.40 191.4,130.2 C189.12,133.00 185.10,136.03 180.8,137.8 C176.50,139.57 170.67,141.07 165.6,140.8 C160.53,140.53 153.95,138.73 150.4,136.2 C146.85,133.67 145.82,129.40 144.3,125.6 C142.78,121.80 142.05,117.45 141.3,113.4 C140.55,109.35 138.28,104.08 139.8,101.3 Z" fill="url(#rg1)"/><ellipse cx="168.0" cy="120.9" rx="18.9" ry="17.0" fill="#fee39a"/><ellipse cx="168.4" cy="120.9" rx="15.3" ry="13.5" fill="#fdc070"/><ellipse cx="168.4" cy="121.0" rx="12.3" ry="10.8" fill="#f99153"/><ellipse cx="168.3" cy="121.2" rx="9.7" ry="8.3" fill="#e9603d"/><ellipse cx="168.0" cy="121.6" rx="7.2" ry="6.3" fill="#d42d2a"/><ellipse cx="166.9" cy="122.3" rx="3.4" ry="3.7" fill="#b8112b"/><path d="M139.8,101.3 C141.32,98.52 146.10,97.32 150.4,96.7 C154.70,96.08 160.53,96.83 165.6,97.6 C170.67,98.37 176.75,99.17 180.8,101.3 C184.85,103.43 187.62,107.12 189.9,110.4 C192.18,113.68 194.25,117.70 194.5,121 C194.75,124.30 193.68,127.40 191.4,130.2 C189.12,133.00 185.10,136.03 180.8,137.8 C176.50,139.57 170.67,141.07 165.6,140.8 C160.53,140.53 153.95,138.73 150.4,136.2 C146.85,133.67 145.82,129.40 144.3,125.6 C142.78,121.80 142.05,117.45 141.3,113.4 C140.55,109.35 138.28,104.08 139.8,101.3 Z" fill="none" stroke="#000" stroke-width="1.35"/><ellipse cx="168.0" cy="120.9" rx="18.9" ry="17.0" fill="none" stroke="#000" stroke-width="1.25"/><ellipse cx="168.4" cy="120.9" rx="15.3" ry="13.5" fill="none" stroke="#000" stroke-width="1.25"/><ellipse cx="168.4" cy="121.0" rx="12.3" ry="10.8" fill="none" stroke="#000" stroke-width="1.25"/><ellipse cx="168.3" cy="121.2" rx="9.7" ry="8.3" fill="none" stroke="#000" stroke-width="1.25"/><ellipse cx="168.0" cy="121.6" rx="7.2" ry="6.3" fill="none" stroke="#000" stroke-width="1.25"/><ellipse cx="166.9" cy="122.3" rx="3.4" ry="3.7" fill="none" stroke="#000" stroke-width="1.2"/></g><g clip-path="url(#c2)"><radialGradient id="rg2" cx="488" cy="122" r="26" gradientUnits="userSpaceOnUse"><stop offset="0" stop-color="#bd1a2b"/><stop offset="0.5" stop-color="#d2302a"/><stop offset="1" stop-color="#e24c36"/></radialGradient><path d="M476.1,117.9 C476.65,115.87 477.72,115.03 479.1,114.1 C480.48,113.17 482.12,112.68 484.4,112.3 C486.68,111.92 490.13,111.37 492.8,111.8 C495.47,112.23 498.12,113.50 500.4,114.9 C502.68,116.30 504.60,118.43 506.5,120.2 C508.40,121.97 511.17,123.98 511.8,125.5 C512.43,127.02 511.43,127.78 510.3,129.3 C509.17,130.82 507.15,133.20 505,134.6 C502.85,136.00 500.20,136.93 497.4,137.7 C494.60,138.47 491.00,139.20 488.2,139.2 C485.40,139.20 482.50,138.72 480.6,137.7 C478.70,136.68 477.60,135.00 476.8,133.1 C476.00,131.20 475.92,128.83 475.8,126.3 C475.68,123.77 475.55,119.93 476.1,117.9 Z" fill="url(#rg2)"/><ellipse cx="487.9" cy="123.7" rx="7.2" ry="6.4" fill="#a8082a"/><path d="M476.1,117.9 C476.65,115.87 477.72,115.03 479.1,114.1 C480.48,113.17 482.12,112.68 484.4,112.3 C486.68,111.92 490.13,111.37 492.8,111.8 C495.47,112.23 498.12,113.50 500.4,114.9 C502.68,116.30 504.60,118.43 506.5,120.2 C508.40,121.97 511.17,123.98 511.8,125.5 C512.43,127.02 511.43,127.78 510.3,129.3 C509.17,130.82 507.15,133.20 505,134.6 C502.85,136.00 500.20,136.93 497.4,137.7 C494.60,138.47 491.00,139.20 488.2,139.2 C485.40,139.20 482.50,138.72 480.6,137.7 C478.70,136.68 477.60,135.00 476.8,133.1 C476.00,131.20 475.92,128.83 475.8,126.3 C475.68,123.77 475.55,119.93 476.1,117.9 Z" fill="none" stroke="#000" stroke-width="1.5"/><ellipse cx="487.9" cy="123.7" rx="7.2" ry="6.4" fill="none" stroke="#000" stroke-width="1.5"/></g><path d="M160.79999999999998,117.5 H179.4 M170.1,108.2 V126.8" stroke="#fff" stroke-width="1.8"/><path d="M481.9,117.4 H500.5 M491.2,108.10000000000001 V126.7" stroke="#fff" stroke-width="1.8"/><ellipse cx="107.1" cy="182.9" rx="15.3" ry="11.6" transform="rotate(-30 107.1 182.9)" fill="#ffff00" stroke="#000" stroke-width="1.5"/><ellipse cx="429.3" cy="182.3" rx="15.3" ry="11.6" transform="rotate(-30 429.3 182.3)" fill="#ffff00" stroke="#000" stroke-width="1.5"/><path d="M88.73,203.8 v-3.6 M88.73,31.5 v3.6 M84.2,36.03 h3.6 M256.5,36.03 h-3.6 M97.80,203.8 v-3.6 M97.80,31.5 v3.6 M84.2,45.10 h3.6 M256.5,45.10 h-3.6 M106.87,203.8 v-3.6 M106.87,31.5 v3.6 M84.2,54.17 h3.6 M256.5,54.17 h-3.6 M115.94,203.8 v-3.6 M115.94,31.5 v3.6 M84.2,63.24 h3.6 M256.5,63.24 h-3.6 M125.01,203.8 v-7.8 M125.01,31.5 v7.8 M84.2,72.31 h7.8 M256.5,72.31 h-7.8 M134.08,203.8 v-3.6 M134.08,31.5 v3.6 M84.2,81.38 h3.6 M256.5,81.38 h-3.6 M143.14,203.8 v-3.6 M143.14,31.5 v3.6 M84.2,90.44 h3.6 M256.5,90.44 h-3.6 M152.21,203.8 v-3.6 M152.21,31.5 v3.6 M84.2,99.51 h3.6 M256.5,99.51 h-3.6 M161.28,203.8 v-3.6 M161.28,31.5 v3.6 M84.2,108.58 h3.6 M256.5,108.58 h-3.6 M170.35,203.8 v-7.8 M170.35,31.5 v7.8 M84.2,117.65 h7.8 M256.5,117.65 h-7.8 M179.42,203.8 v-3.6 M179.42,31.5 v3.6 M84.2,126.72 h3.6 M256.5,126.72 h-3.6 M188.49,203.8 v-3.6 M188.49,31.5 v3.6 M84.2,135.79 h3.6 M256.5,135.79 h-3.6 M197.56,203.8 v-3.6 M197.56,31.5 v3.6 M84.2,144.86 h3.6 M256.5,144.86 h-3.6 M206.62,203.8 v-3.6 M206.62,31.5 v3.6 M84.2,153.92 h3.6 M256.5,153.92 h-3.6 M215.69,203.8 v-7.8 M215.69,31.5 v7.8 M84.2,162.99 h7.8 M256.5,162.99 h-7.8 M224.76,203.8 v-3.6 M224.76,31.5 v3.6 M84.2,172.06 h3.6 M256.5,172.06 h-3.6 M233.83,203.8 v-3.6 M233.83,31.5 v3.6 M84.2,181.13 h3.6 M256.5,181.13 h-3.6 M242.90,203.8 v-3.6 M242.90,31.5 v3.6 M84.2,190.20 h3.6 M256.5,190.20 h-3.6 M251.97,203.8 v-3.6 M251.97,31.5 v3.6 M84.2,199.27 h3.6 M256.5,199.27 h-3.6 " stroke="#000" stroke-width="1.3" fill="none"/><rect x="84.2" y="31.5" width="172.3" height="172.3" fill="none" stroke="#000" stroke-width="1.6"/><path d="M409.83,203.8 v-3.6 M409.83,31.5 v3.6 M405.3,36.03 h3.6 M577.6,36.03 h-3.6 M418.90,203.8 v-3.6 M418.90,31.5 v3.6 M405.3,45.10 h3.6 M577.6,45.10 h-3.6 M427.97,203.8 v-3.6 M427.97,31.5 v3.6 M405.3,54.17 h3.6 M577.6,54.17 h-3.6 M437.04,203.8 v-3.6 M437.04,31.5 v3.6 M405.3,63.24 h3.6 M577.6,63.24 h-3.6 M446.11,203.8 v-7.8 M446.11,31.5 v7.8 M405.3,72.31 h7.8 M577.6,72.31 h-7.8 M455.18,203.8 v-3.6 M455.18,31.5 v3.6 M405.3,81.38 h3.6 M577.6,81.38 h-3.6 M464.24,203.8 v-3.6 M464.24,31.5 v3.6 M405.3,90.44 h3.6 M577.6,90.44 h-3.6 M473.31,203.8 v-3.6 M473.31,31.5 v3.6 M405.3,99.51 h3.6 M577.6,99.51 h-3.6 M482.38,203.8 v-3.6 M482.38,31.5 v3.6 M405.3,108.58 h3.6 M577.6,108.58 h-3.6 M491.45,203.8 v-7.8 M491.45,31.5 v7.8 M405.3,117.65 h7.8 M577.6,117.65 h-7.8 M500.52,203.8 v-3.6 M500.52,31.5 v3.6 M405.3,126.72 h3.6 M577.6,126.72 h-3.6 M509.59,203.8 v-3.6 M509.59,31.5 v3.6 M405.3,135.79 h3.6 M577.6,135.79 h-3.6 M518.66,203.8 v-3.6 M518.66,31.5 v3.6 M405.3,144.86 h3.6 M577.6,144.86 h-3.6 M527.72,203.8 v-3.6 M527.72,31.5 v3.6 M405.3,153.92 h3.6 M577.6,153.92 h-3.6 M536.79,203.8 v-7.8 M536.79,31.5 v7.8 M405.3,162.99 h7.8 M577.6,162.99 h-7.8 M545.86,203.8 v-3.6 M545.86,31.5 v3.6 M405.3,172.06 h3.6 M577.6,172.06 h-3.6 M554.93,203.8 v-3.6 M554.93,31.5 v3.6 M405.3,181.13 h3.6 M577.6,181.13 h-3.6 M564.00,203.8 v-3.6 M564.00,31.5 v3.6 M405.3,190.20 h3.6 M577.6,190.20 h-3.6 M573.07,203.8 v-3.6 M573.07,31.5 v3.6 M405.3,199.27 h3.6 M577.6,199.27 h-3.6 " stroke="#000" stroke-width="1.3" fill="none"/><rect x="405.3" y="31.5" width="172.3" height="172.3" fill="none" stroke="#000" stroke-width="1.6"/><rect x="263.4" y="27" width="9.800000000000011" height="181" fill="url(#cmap)"/><path d="M263.4,176.11 H273.2 M263.4,126.21 H273.2 M263.4,76.30 H273.2 M273.2,206.05 h-3.5 M273.2,196.07 h-3.5 M273.2,186.09 h-3.5 M273.2,166.13 h-3.5 M273.2,156.15 h-3.5 M273.2,146.17 h-3.5 M273.2,136.19 h-3.5 M273.2,116.23 h-3.5 M273.2,106.25 h-3.5 M273.2,96.27 h-3.5 M273.2,86.29 h-3.5 M273.2,66.32 h-3.5 M273.2,56.34 h-3.5 M273.2,46.36 h-3.5 M273.2,36.38 h-3.5 " stroke="#000" stroke-width="1.3" fill="none"/><rect x="263.4" y="27" width="9.800000000000011" height="181" fill="none" stroke="#000" stroke-width="1.5"/><rect x="584.8" y="26.8" width="9.5" height="181.2" fill="url(#cmap)"/><path d="M584.8,191.51 H594.3 M584.8,134.66 H594.3 M584.8,77.80 H594.3 M594.3,202.88 h-3.5 M594.3,180.14 h-3.5 M594.3,168.77 h-3.5 M594.3,157.40 h-3.5 M594.3,146.03 h-3.5 M594.3,123.28 h-3.5 M594.3,111.91 h-3.5 M594.3,100.54 h-3.5 M594.3,89.17 h-3.5 M594.3,66.43 h-3.5 M594.3,55.06 h-3.5 M594.3,43.69 h-3.5 M594.3,32.32 h-3.5 " stroke="#000" stroke-width="1.3" fill="none"/><rect x="584.8" y="26.8" width="9.5" height="181.2" fill="none" stroke="#000" stroke-width="1.5"/><g clip-path="url(#c3)"><path d="M724.3,131.83 H729.89 V167.74 H733.18 V133.72 H736.47 V190.42 H739.76 V157.66 H743.05 V98.44 H746.34 V189.79 H749.63 V192.94 H752.92 V125.53 H756.21 V179.71 H759.50 V129.31 H762.79 V174.67 H766.08 V206.80 H769.37 V160.81 H772.66 V150.73 H775.95 V202.39 H779.24 V153.88 H782.53 V138.13 H785.82 V158.29 H789.11 V139.39 H792.40 V165.22 H795.69 V130.57 H798.98 V179.71 H802.27 V150.10 H805.56 V88.36 H808.85 V172.15 H812.14 V104.74 H815.43 V181.60 H818.72 V116.08 H822.01 V165.22 H825.30 V128.68 H828.59 V184.12 H831.88 V170.26 H835.17 V119.23 H838.46 V150.10 H841.75 V163.96 H845.04 V123.64 H848.33 V113.56 H851.62 V81.11 H854.91 V128.68 H858.20 V70.09 H861.49 V88.36 H864.78 V99.70 H868.07 V89.62 H871.36 V66.31 H874.65 V145.69 H877.94 V119.23 H881.23 V128.68 H884.52 V152.62 H887.81 V131.83 H891.10 V135.61 H894.39 V133.72 H897.68 V146.95 H900.97 V148.21 H904.26 V126.16 H907.55 V121.75 H910.84 V60.01 H914.13 V196.72 H917.42 V121.12 H920.71 V93.40 H924.00 V104.74 H927.29 V182.23 H930.58 V106.00 H933.87 V106.00 H937.16 V157.66 H940.45 V178.45 H943.74 V204.28 H947.03 V122.38 H950.32 V165.22 H953.61 V85.84 H956.90 V146.95 H960.19 V128.05 H963.48 V190.42 H966.77 V145.06 H970.06 V156.40 H973.35 V144.43 H976.64 V165.22 H979.93 V119.23 H983.22 V121.12 H986.51 V123.01 H989.80 V183.49 H993.09 V114.82 H996.38 V141.28 H999.67 V182.86 H1002.96 V117.97 H1006.25 V162.70 H1009.54 V113.56 H1012.83 V166.48 H1016.12 V130.57 H1019.41 V117.97 H1022.70 V170.89 H1025.99 V154.51 H1029.28 V102.22 H1032.57 V135.61 H1035.86 V152.62 H1039.15 V138.13 H1042.44 V172.78 H1045.73 V134.35 H1049.02 V141.28 H1052.31 V213.10 H1055.60 V159.55 H1058.89 V115.45 H1062.18 V150.10 H1065.47 V126.16 H1068.76 V128.68 H1072.05 V182.23 H1075.34 V107.89 H1078.63 V122.38 H1081.92 V121.12 H1085.21 V107.26 H1088.50 V117.97 H1091.79 V152.62 H1095.08 V151.99 H1098.37 V123.01 H1101.66 V169.00 H1104.95 V148.84 H1108.24 V213.10 H1111.53 V131.83 H1114.82 V126.79 H1118.11 V153.25 H1121.40 V137.50 H1124.69 V163.33 H1127.98 V119.86 H1131.27 V119.23 H1134.56 V118.60 H1137.85 V134.98 H1141.14 V172.15 H1144.43 V133.09 H1147.72 V158.29 H1151.01 V157.03 H1154.30 V150.10 H1157.59 V141.28 H1160.88 V157.66 H1164.17 V155.14 H1167.46 V151.36 H1170.75 V151.36 H1174.04 V128.68 H1177.33 V108.52 H1180.62 V134.35 H1183.91 V133.09 H1187.20 V165.85 H1190.49 V174.67 H1193.78 V165.85 H1197.07 V148.84 H1200.36 V148.84 H1203.65 V199.87 H1206.94 V128.05 H1210.23 V191.05 H1213.52 V120.49 H1216.81 V183.49 H1220.10 V213.10 H1223.39 V90.25 H1226.68 V129.94 H1229.97 V177.82 H1233.26 V162.70 H1236.55 " fill="none" stroke="#000" stroke-width="1.9" stroke-linejoin="miter"/><path d="M724,141.7 H732.9 V140.1 H737 V141 H750.7 V140.1 H767.2 V141.4 H775.4 V136.9 H780.2 V141.4 H783.6 V140.4 H791.9 V141.4 H802.8 V141 H813.8 V140.6 H830.3 V139.7 H841.3 V141 H863.2 V140.1 H874.2 V137.6 H878.3 V141 H885.2 V139.7 H907 V140.6 H916.5 V139.7 H930 V138.3 H933.6 V140.4 H941 V140.6 H966 V139.7 H970 V141.7 H979.6 V144.5 H985 V141.7 H998.8 V142.4 H1007 V141 H1015 V142.4 H1020.8 V142.2 H1037 V142.7 H1075.5 V143.1 H1086.5 V143.8 H1107 V143.1 H1122 V142.4 H1125 V143.8 H1142.7 V144.2 H1157.8 V144.5 H1174.3 V143.4 H1186.6 V142.4 H1203 V141 H1210 V141.7 H1221 V140.4 H1229 V139 H1240 V139 " fill="none" stroke="#2b8ef5" stroke-width="2.2"/><polyline points="726.3,146.60 727.3,146.60 728.3,146.60 729.3,146.60 730.3,146.60 731.3,146.60 732.3,146.60 733.3,146.60 734.3,146.60 735.3,146.60 736.3,146.60 737.3,146.60 738.3,146.60 739.3,146.60 740.3,146.60 741.3,146.60 742.3,146.60 743.3,146.60 744.3,146.60 745.3,146.60 746.3,146.60 747.3,146.60 748.3,146.60 749.3,146.60 750.3,146.60 751.3,146.60 752.3,146.60 753.3,146.60 754.3,146.60 755.3,146.60 756.3,146.60 757.3,146.60 758.3,146.60 759.3,146.60 760.3,146.60 761.3,146.60 762.3,146.60 763.3,146.60 764.3,146.60 765.3,146.60 766.3,146.60 767.3,146.60 768.3,146.60 769.3,146.60 770.3,146.60 771.3,146.60 772.3,146.60 773.3,146.60 774.3,146.60 775.3,146.60 776.3,146.60 777.3,146.60 778.3,146.60 779.3,146.60 780.3,146.60 781.3,146.60 782.3,146.60 783.3,146.60 784.3,146.60 785.3,146.60 786.3,146.60 787.3,146.60 788.3,146.60 789.3,146.60 790.3,146.60 791.3,146.60 792.3,146.60 793.3,146.60 794.3,146.60 795.3,146.60 796.3,146.60 797.3,146.60 798.3,146.60 799.3,146.60 800.3,146.60 801.3,146.60 802.3,146.60 803.3,146.60 804.3,146.60 805.3,146.60 806.3,146.60 807.3,146.60 808.3,146.60 809.3,146.60 810.3,146.60 811.3,146.60 812.3,146.59 813.3,146.59 814.3,146.59 815.3,146.59 816.3,146.58 817.3,146.57 818.3,146.56 819.3,146.55 820.3,146.53 821.3,146.51 822.3,146.48 823.3,146.45 824.3,146.40 825.3,146.34 826.3,146.26 827.3,146.17 828.3,146.05 829.3,145.90 830.3,145.72 831.3,145.50 832.3,145.23 833.3,144.90 834.3,144.52 835.3,144.05 836.3,143.51 837.3,142.88 838.3,142.14 839.3,141.29 840.3,140.32 841.3,139.21 842.3,137.97 843.3,136.58 844.3,135.04 845.3,133.34 846.3,131.50 847.3,129.50 848.3,127.36 849.3,125.09 850.3,122.71 851.3,120.23 852.3,117.67 853.3,115.06 854.3,112.43 855.3,109.82 856.3,107.25 857.3,104.78 858.3,102.42 859.3,100.22 860.3,98.23 861.3,96.46 862.3,94.95 863.3,93.73 864.3,92.83 865.3,92.25 866.3,92.01 867.3,92.11 868.3,92.55 869.3,93.33 870.3,94.43 871.3,95.82 872.3,97.49 873.3,99.40 874.3,101.52 875.3,103.82 876.3,106.25 877.3,108.79 878.3,111.38 879.3,114.01 880.3,116.63 881.3,119.21 882.3,121.73 883.3,124.15 884.3,126.47 885.3,128.66 886.3,130.72 887.3,132.62 888.3,134.38 889.3,135.98 890.3,137.43 891.3,138.73 892.3,139.89 893.3,140.91 894.3,141.81 895.3,142.59 896.3,143.27 897.3,143.85 898.3,144.34 899.3,144.76 900.3,145.11 901.3,145.40 902.3,145.64 903.3,145.83 904.3,145.99 905.3,146.12 906.3,146.23 907.3,146.31 908.3,146.38 909.3,146.43 910.3,146.47 911.3,146.50 912.3,146.53 913.3,146.54 914.3,146.56 915.3,146.57 916.3,146.58 917.3,146.58 918.3,146.59 919.3,146.59 920.3,146.59 921.3,146.60 922.3,146.60 923.3,146.60 924.3,146.60 925.3,146.60 926.3,146.60 927.3,146.60 928.3,146.60 929.3,146.60 930.3,146.60 931.3,146.60 932.3,146.60 933.3,146.60 934.3,146.60 935.3,146.60 936.3,146.60 937.3,146.60 938.3,146.60 939.3,146.60 940.3,146.60 941.3,146.60 942.3,146.60 943.3,146.60 944.3,146.60 945.3,146.60 946.3,146.60 947.3,146.60 948.3,146.60 949.3,146.60 950.3,146.60 951.3,146.60 952.3,146.60 953.3,146.60 954.3,146.60 955.3,146.60 956.3,146.60 957.3,146.60 958.3,146.60 959.3,146.60 960.3,146.60 961.3,146.60 962.3,146.60 963.3,146.60 964.3,146.60 965.3,146.60 966.3,146.60 967.3,146.60 968.3,146.60 969.3,146.60 970.3,146.60 971.3,146.60 972.3,146.60 973.3,146.60 974.3,146.60 975.3,146.60 976.3,146.60 977.3,146.60 978.3,146.60 979.3,146.60 980.3,146.60 981.3,146.60 982.3,146.60 983.3,146.60 984.3,146.60 985.3,146.60 986.3,146.60 987.3,146.60 988.3,146.60 989.3,146.60 990.3,146.60 991.3,146.60 992.3,146.60 993.3,146.60 994.3,146.60 995.3,146.60 996.3,146.60 997.3,146.60 998.3,146.60 999.3,146.60 1000.3,146.60 1001.3,146.60 1002.3,146.60 1003.3,146.60 1004.3,146.60 1005.3,146.60 1006.3,146.60 1007.3,146.60 1008.3,146.60 1009.3,146.60 1010.3,146.60 1011.3,146.60 1012.3,146.60 1013.3,146.60 1014.3,146.60 1015.3,146.60 1016.3,146.60 1017.3,146.60 1018.3,146.60 1019.3,146.60 1020.3,146.60 1021.3,146.60 1022.3,146.60 1023.3,146.60 1024.3,146.60 1025.3,146.60 1026.3,146.60 1027.3,146.60 1028.3,146.60 1029.3,146.60 1030.3,146.60 1031.3,146.60 1032.3,146.60 1033.3,146.60 1034.3,146.60 1035.3,146.60 1036.3,146.60 1037.3,146.60 1038.3,146.60 1039.3,146.60 1040.3,146.60 1041.3,146.60 1042.3,146.60 1043.3,146.60 1044.3,146.60 1045.3,146.60 1046.3,146.60 1047.3,146.60 1048.3,146.60 1049.3,146.60 1050.3,146.60 1051.3,146.60 1052.3,146.60 1053.3,146.60 1054.3,146.60 1055.3,146.60 1056.3,146.60 1057.3,146.60 1058.3,146.60 1059.3,146.60 1060.3,146.60 1061.3,146.60 1062.3,146.60 1063.3,146.60 1064.3,146.60 1065.3,146.60 1066.3,146.60 1067.3,146.60 1068.3,146.60 1069.3,146.60 1070.3,146.60 1071.3,146.60 1072.3,146.60 1073.3,146.60 1074.3,146.60 1075.3,146.60 1076.3,146.60 1077.3,146.60 1078.3,146.60 1079.3,146.60 1080.3,146.60 1081.3,146.60 1082.3,146.60 1083.3,146.60 1084.3,146.60 1085.3,146.60 1086.3,146.60 1087.3,146.60 1088.3,146.60 1089.3,146.60 1090.3,146.60 1091.3,146.60 1092.3,146.60 1093.3,146.60 1094.3,146.60 1095.3,146.60 1096.3,146.60 1097.3,146.60 1098.3,146.60 1099.3,146.60 1100.3,146.60 1101.3,146.60 1102.3,146.60 1103.3,146.60 1104.3,146.60 1105.3,146.60 1106.3,146.60 1107.3,146.60 1108.3,146.60 1109.3,146.60 1110.3,146.60 1111.3,146.60 1112.3,146.60 1113.3,146.60 1114.3,146.60 1115.3,146.60 1116.3,146.60 1117.3,146.60 1118.3,146.60 1119.3,146.60 1120.3,146.60 1121.3,146.60 1122.3,146.60 1123.3,146.60 1124.3,146.60 1125.3,146.60 1126.3,146.60 1127.3,146.60 1128.3,146.60 1129.3,146.60 1130.3,146.60 1131.3,146.60 1132.3,146.60 1133.3,146.60 1134.3,146.60 1135.3,146.60 1136.3,146.60 1137.3,146.60 1138.3,146.60 1139.3,146.60 1140.3,146.60 1141.3,146.60 1142.3,146.60 1143.3,146.60 1144.3,146.60 1145.3,146.60 1146.3,146.60 1147.3,146.60 1148.3,146.60 1149.3,146.60 1150.3,146.60 1151.3,146.60 1152.3,146.60 1153.3,146.60 1154.3,146.60 1155.3,146.60 1156.3,146.60 1157.3,146.60 1158.3,146.60 1159.3,146.60 1160.3,146.60 1161.3,146.60 1162.3,146.60 1163.3,146.60 1164.3,146.60 1165.3,146.60 1166.3,146.60 1167.3,146.60 1168.3,146.60 1169.3,146.60 1170.3,146.60 1171.3,146.60 1172.3,146.60 1173.3,146.60 1174.3,146.60 1175.3,146.60 1176.3,146.60 1177.3,146.60 1178.3,146.60 1179.3,146.60 1180.3,146.60 1181.3,146.60 1182.3,146.60 1183.3,146.60 1184.3,146.60 1185.3,146.60 1186.3,146.60 1187.3,146.60 1188.3,146.60 1189.3,146.60 1190.3,146.60 1191.3,146.60 1192.3,146.60 1193.3,146.60 1194.3,146.60 1195.3,146.60 1196.3,146.60 1197.3,146.60 1198.3,146.60 1199.3,146.60 1200.3,146.60 1201.3,146.60 1202.3,146.60 1203.3,146.60 1204.3,146.60 1205.3,146.60 1206.3,146.60 1207.3,146.60 1208.3,146.60 1209.3,146.60 1210.3,146.60 1211.3,146.60 1212.3,146.60 1213.3,146.60 1214.3,146.60 1215.3,146.60 1216.3,146.60 1217.3,146.60 1218.3,146.60 1219.3,146.60 1220.3,146.60 1221.3,146.60 1222.3,146.60 1223.3,146.60 1224.3,146.60 1225.3,146.60 1226.3,146.60 1227.3,146.60 1228.3,146.60 1229.3,146.60 1230.3,146.60 1231.3,146.60 1232.3,146.60 1233.3,146.60 1234.3,146.60 1235.3,146.60" fill="none" stroke="#ff0000" stroke-width="2.2"/></g><path d="M738.80,207.8 v-7.5 M738.80,26.8 v7.5 M752.84,207.8 v-3.8 M752.84,26.8 v3.8 M766.87,207.8 v-3.8 M766.87,26.8 v3.8 M780.91,207.8 v-3.8 M780.91,26.8 v3.8 M794.95,207.8 v-3.8 M794.95,26.8 v3.8 M808.98,207.8 v-7.5 M808.98,26.8 v7.5 M823.02,207.8 v-3.8 M823.02,26.8 v3.8 M837.06,207.8 v-3.8 M837.06,26.8 v3.8 M851.10,207.8 v-3.8 M851.10,26.8 v3.8 M865.13,207.8 v-3.8 M865.13,26.8 v3.8 M879.17,207.8 v-7.5 M879.17,26.8 v7.5 M893.21,207.8 v-3.8 M893.21,26.8 v3.8 M907.24,207.8 v-3.8 M907.24,26.8 v3.8 M921.28,207.8 v-3.8 M921.28,26.8 v3.8 M935.32,207.8 v-3.8 M935.32,26.8 v3.8 M949.36,207.8 v-7.5 M949.36,26.8 v7.5 M963.39,207.8 v-3.8 M963.39,26.8 v3.8 M977.43,207.8 v-3.8 M977.43,26.8 v3.8 M991.47,207.8 v-3.8 M991.47,26.8 v3.8 M1005.50,207.8 v-3.8 M1005.50,26.8 v3.8 M1019.54,207.8 v-7.5 M1019.54,26.8 v7.5 M1033.58,207.8 v-3.8 M1033.58,26.8 v3.8 M1047.61,207.8 v-3.8 M1047.61,26.8 v3.8 M1061.65,207.8 v-3.8 M1061.65,26.8 v3.8 M1075.69,207.8 v-3.8 M1075.69,26.8 v3.8 M1089.72,207.8 v-7.5 M1089.72,26.8 v7.5 M1103.76,207.8 v-3.8 M1103.76,26.8 v3.8 M1117.80,207.8 v-3.8 M1117.80,26.8 v3.8 M1131.84,207.8 v-3.8 M1131.84,26.8 v3.8 M1145.87,207.8 v-3.8 M1145.87,26.8 v3.8 M1159.91,207.8 v-7.5 M1159.91,26.8 v7.5 M1173.95,207.8 v-3.8 M1173.95,26.8 v3.8 M1187.98,207.8 v-3.8 M1187.98,26.8 v3.8 M1202.02,207.8 v-3.8 M1202.02,26.8 v3.8 M1216.06,207.8 v-3.8 M1216.06,26.8 v3.8 M1230.10,207.8 v-7.5 M1230.10,26.8 v7.5 M726.3,206.80 h3.8 M1236.1,206.80 h-3.8 M726.3,194.20 h3.8 M1236.1,194.20 h-3.8 M726.3,181.60 h3.8 M1236.1,181.60 h-3.8 M726.3,169.00 h7.5 M1236.1,169.00 h-7.5 M726.3,156.40 h3.8 M1236.1,156.40 h-3.8 M726.3,143.80 h3.8 M1236.1,143.80 h-3.8 M726.3,131.20 h3.8 M1236.1,131.20 h-3.8 M726.3,118.60 h3.8 M1236.1,118.60 h-3.8 M726.3,106.00 h7.5 M1236.1,106.00 h-7.5 M726.3,93.40 h3.8 M1236.1,93.40 h-3.8 M726.3,80.80 h3.8 M1236.1,80.80 h-3.8 M726.3,68.20 h3.8 M1236.1,68.20 h-3.8 M726.3,55.60 h3.8 M1236.1,55.60 h-3.8 M726.3,43.00 h7.5 M1236.1,43.00 h-7.5 M726.3,30.40 h3.8 M1236.1,30.40 h-3.8 " stroke="#000" stroke-width="1.3" fill="none"/><rect x="726.3" y="26.8" width="509.8" height="181.0" fill="none" stroke="#000" stroke-width="1.6"/><text x="170.2" y="23.1" font-family='"Liberation Serif", serif' font-size="18.5" fill="#000" stroke="#fff" stroke-width="0.22" text-anchor="middle" textLength="118.5" lengthAdjust="spacingAndGlyphs">Continuum map</text><text x="491.6" y="23.1" font-family='"Liberation Serif", serif' font-size="18.5" fill="#000" stroke="#fff" stroke-width="0.22" text-anchor="middle" textLength="71.5" lengthAdjust="spacingAndGlyphs">[C<tspan dx="3" font-size="14.5" letter-spacing="0.6">II</tspan>] map</text><text x="981.5" y="19.0" font-family='"Liberation Serif", serif' font-size="18.5" fill="#000" stroke="#fff" stroke-width="0.22" text-anchor="middle" textLength="107" lengthAdjust="spacingAndGlyphs">[C<tspan dx="3" font-size="14.5" letter-spacing="0.6">II</tspan>] spectrum</text><text x="125.30789473684213" y="222.7" font-family='"Liberation Serif", serif' font-size="19.5" fill="#000" stroke="#fff" stroke-width="0.22" text-anchor="middle" textLength="23.6" lengthAdjust="spacingAndGlyphs">−5</text><text x="170.35000000000002" y="222.7" font-family='"Liberation Serif", serif' font-size="19.5" fill="#000" stroke="#fff" stroke-width="0.22" text-anchor="middle" textLength="9.2" lengthAdjust="spacingAndGlyphs">0</text><text x="215.6921052631579" y="222.7" font-family='"Liberation Serif", serif' font-size="19.5" fill="#000" stroke="#fff" stroke-width="0.22" text-anchor="middle" textLength="9.2" lengthAdjust="spacingAndGlyphs">5</text><text x="78.8" y="79.4" font-family='"Liberation Serif", serif' font-size="19.5" fill="#000" stroke="#fff" stroke-width="0.22" text-anchor="end" textLength="9.2" lengthAdjust="spacingAndGlyphs">5</text><text x="78.8" y="124.6" font-family='"Liberation Serif", serif' font-size="19.5" fill="#000" stroke="#fff" stroke-width="0.22" text-anchor="end" textLength="9.2" lengthAdjust="spacingAndGlyphs">0</text><text x="78.8" y="169.8" font-family='"Liberation Serif", serif' font-size="19.5" fill="#000" stroke="#fff" stroke-width="0.22" text-anchor="end" textLength="23.6" lengthAdjust="spacingAndGlyphs">−5</text><text x="170.35000000000002" y="244.8" font-family='"Liberation Serif", serif' font-size="18.7" fill="#000" stroke="#fff" stroke-width="0.22" text-anchor="middle" textLength="83.5" lengthAdjust="spacingAndGlyphs">ΔRA (kpc)</text><text x="43.6" y="118.05000000000001" font-family='"Liberation Serif", serif' font-size="18.3" fill="#000" stroke="#fff" stroke-width="0.22" text-anchor="middle" textLength="92" lengthAdjust="spacingAndGlyphs" transform="rotate(-90 43.6 118.05000000000001)">ΔDEC (kpc)</text><text x="446.40789473684214" y="222.7" font-family='"Liberation Serif", serif' font-size="19.5" fill="#000" stroke="#fff" stroke-width="0.22" text-anchor="middle" textLength="23.6" lengthAdjust="spacingAndGlyphs">−5</text><text x="491.45000000000005" y="222.7" font-family='"Liberation Serif", serif' font-size="19.5" fill="#000" stroke="#fff" stroke-width="0.22" text-anchor="middle" textLength="9.2" lengthAdjust="spacingAndGlyphs">0</text><text x="536.792105263158" y="222.7" font-family='"Liberation Serif", serif' font-size="19.5" fill="#000" stroke="#fff" stroke-width="0.22" text-anchor="middle" textLength="9.2" lengthAdjust="spacingAndGlyphs">5</text><text x="399.90000000000003" y="79.4" font-family='"Liberation Serif", serif' font-size="19.5" fill="#000" stroke="#fff" stroke-width="0.22" text-anchor="end" textLength="9.2" lengthAdjust="spacingAndGlyphs">5</text><text x="399.90000000000003" y="124.6" font-family='"Liberation Serif", serif' font-size="19.5" fill="#000" stroke="#fff" stroke-width="0.22" text-anchor="end" textLength="9.2" lengthAdjust="spacingAndGlyphs">0</text><text x="399.90000000000003" y="169.8" font-family='"Liberation Serif", serif' font-size="19.5" fill="#000" stroke="#fff" stroke-width="0.22" text-anchor="end" textLength="23.6" lengthAdjust="spacingAndGlyphs">−5</text><text x="491.45000000000005" y="244.8" font-family='"Liberation Serif", serif' font-size="18.7" fill="#000" stroke="#fff" stroke-width="0.22" text-anchor="middle" textLength="83.5" lengthAdjust="spacingAndGlyphs">ΔRA (kpc)</text><text x="364.7" y="118.05000000000001" font-family='"Liberation Serif", serif' font-size="18.3" fill="#000" stroke="#fff" stroke-width="0.22" text-anchor="middle" textLength="92" lengthAdjust="spacingAndGlyphs" transform="rotate(-90 364.7 118.05000000000001)">ΔDEC (kpc)</text><text x="277.8" y="82.5" font-family='"Liberation Serif", serif' font-size="17.5" fill="#000" stroke="#fff" stroke-width="0.22" text-anchor="start" textLength="21.3" lengthAdjust="spacingAndGlyphs">0.2</text><text x="277.8" y="132.4" font-family='"Liberation Serif", serif' font-size="17.5" fill="#000" stroke="#fff" stroke-width="0.22" text-anchor="start" textLength="21.3" lengthAdjust="spacingAndGlyphs">0.1</text><text x="277.8" y="182.3" font-family='"Liberation Serif", serif' font-size="17.5" fill="#000" stroke="#fff" stroke-width="0.22" text-anchor="start" textLength="21.3" lengthAdjust="spacingAndGlyphs">0.0</text><text x="320.2" y="117.7" font-family='"Liberation Serif", serif' font-size="18" fill="#000" stroke="#fff" stroke-width="0.22" text-anchor="middle" textLength="105" lengthAdjust="spacingAndGlyphs" transform="rotate(-90 320.2 117.7)">mJy beam<tspan dy="-6.5" font-size="12.5">−1</tspan></text><text x="598.6" y="84.0" font-family='"Liberation Serif", serif' font-size="17.5" fill="#000" stroke="#fff" stroke-width="0.22" text-anchor="start" textLength="21.3" lengthAdjust="spacingAndGlyphs">0.1</text><text x="598.6" y="140.8" font-family='"Liberation Serif", serif' font-size="17.5" fill="#000" stroke="#fff" stroke-width="0.22" text-anchor="start" textLength="21.3" lengthAdjust="spacingAndGlyphs">0.0</text><text x="598.6" y="197.7" font-family='"Liberation Serif", serif' font-size="17.5" fill="#000" stroke="#fff" stroke-width="0.22" text-anchor="start" textLength="32.6" lengthAdjust="spacingAndGlyphs">−0.1</text><text x="653.2" y="116.5" font-family='"Liberation Serif", serif' font-size="18" fill="#000" stroke="#fff" stroke-width="0.22" text-anchor="middle" textLength="135.5" lengthAdjust="spacingAndGlyphs" transform="rotate(-90 653.2 116.5)">Jy km s<tspan dy="-6.5" font-size="12.5">−1</tspan><tspan dy="6.5"> beam</tspan><tspan dy="-6.5" font-size="12.5">−1</tspan></text><text x="738.8" y="227.1" font-family='"Liberation Serif", serif' font-size="20" fill="#000" stroke="#fff" stroke-width="0.22" text-anchor="middle" textLength="44.5" lengthAdjust="spacingAndGlyphs">219.0</text><text x="808.9849999999999" y="227.1" font-family='"Liberation Serif", serif' font-size="20" fill="#000" stroke="#fff" stroke-width="0.22" text-anchor="middle" textLength="44.5" lengthAdjust="spacingAndGlyphs">219.5</text><text x="879.17" y="227.1" font-family='"Liberation Serif", serif' font-size="20" fill="#000" stroke="#fff" stroke-width="0.22" text-anchor="middle" textLength="44.5" lengthAdjust="spacingAndGlyphs">220.0</text><text x="949.355" y="227.1" font-family='"Liberation Serif", serif' font-size="20" fill="#000" stroke="#fff" stroke-width="0.22" text-anchor="middle" textLength="44.5" lengthAdjust="spacingAndGlyphs">220.5</text><text x="1019.54" y="227.1" font-family='"Liberation Serif", serif' font-size="20" fill="#000" stroke="#fff" stroke-width="0.22" text-anchor="middle" textLength="44.5" lengthAdjust="spacingAndGlyphs">221.0</text><text x="1089.725" y="227.1" font-family='"Liberation Serif", serif' font-size="20" fill="#000" stroke="#fff" stroke-width="0.22" text-anchor="middle" textLength="44.5" lengthAdjust="spacingAndGlyphs">221.5</text><text x="1159.9099999999999" y="227.1" font-family='"Liberation Serif", serif' font-size="20" fill="#000" stroke="#fff" stroke-width="0.22" text-anchor="middle" textLength="44.5" lengthAdjust="spacingAndGlyphs">222.0</text><text x="1230.095" y="227.1" font-family='"Liberation Serif", serif' font-size="20" fill="#000" stroke="#fff" stroke-width="0.22" text-anchor="middle" textLength="44.5" lengthAdjust="spacingAndGlyphs">222.5</text><text x="720.5" y="49.6" font-family='"Liberation Serif", serif' font-size="20" fill="#000" stroke="#fff" stroke-width="0.22" text-anchor="end" textLength="9.5" lengthAdjust="spacingAndGlyphs">2</text><text x="720.5" y="112.6" font-family='"Liberation Serif", serif' font-size="20" fill="#000" stroke="#fff" stroke-width="0.22" text-anchor="end" textLength="8" lengthAdjust="spacingAndGlyphs">1</text><text x="720.5" y="175.6" font-family='"Liberation Serif", serif' font-size="20" fill="#000" stroke="#fff" stroke-width="0.22" text-anchor="end" textLength="9.5" lengthAdjust="spacingAndGlyphs">0</text><text x="981" y="249.8" font-family='"Liberation Serif", serif' font-size="18.8" fill="#000" stroke="#fff" stroke-width="0.22" text-anchor="middle" textLength="191" lengthAdjust="spacingAndGlyphs">Observed frequency [GHz]</text><text x="694.8" y="117.8" font-family='"Liberation Serif", serif' font-size="18.5" fill="#000" stroke="#fff" stroke-width="0.22" text-anchor="middle" textLength="62" lengthAdjust="spacingAndGlyphs" transform="rotate(-90 694.8 117.8)">F<tspan dy="3.5" font-size="13" font-style="italic">ν</tspan><tspan dy="-3.5"> [mJy]</tspan></text></svg></body></html>
